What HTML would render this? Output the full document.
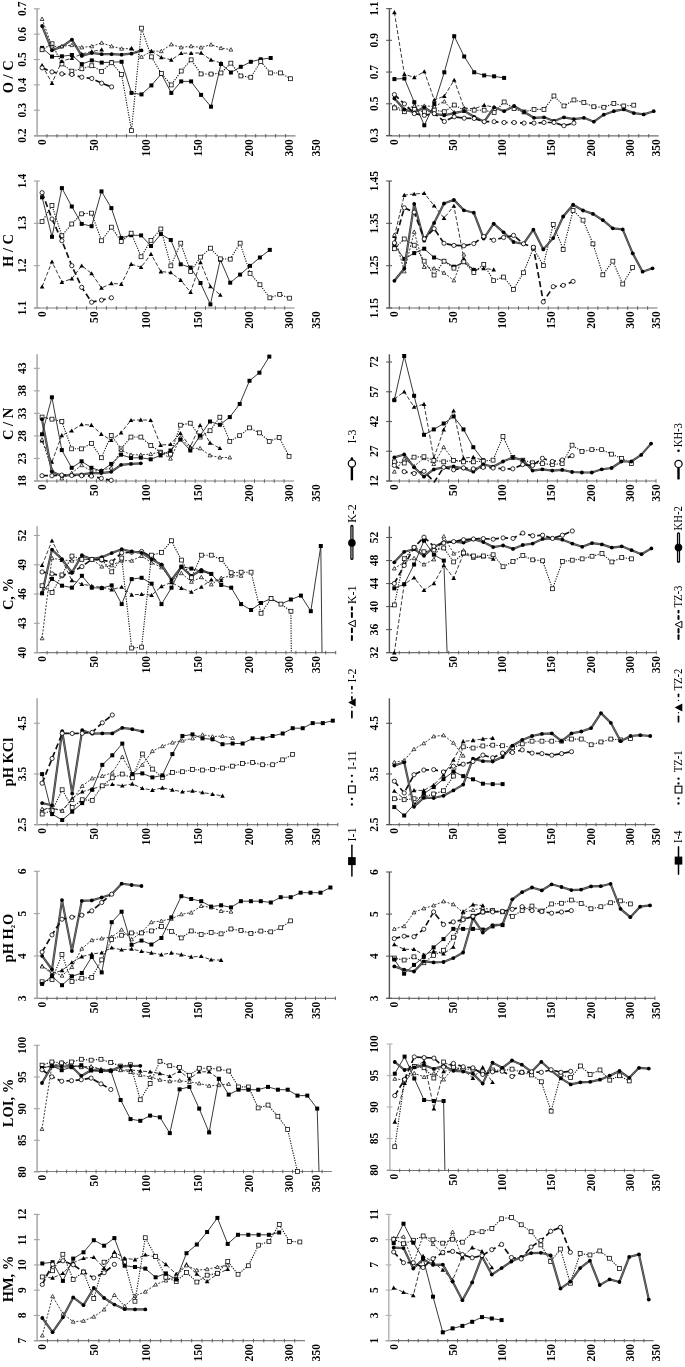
<!DOCTYPE html>
<html><head><meta charset="utf-8"><style>
html,body{margin:0;padding:0;background:#fff;}
svg{display:block;font-family:"Liberation Serif", serif;will-change:transform;}
</style></head><body>
<svg width="685" height="1367" viewBox="0 0 685 1367">
<rect width="685" height="1367" fill="#fff"/>
<line x1="37.1" y1="8.8" x2="37.1" y2="135.8" stroke="#a0a0a0" stroke-width="1.4"/>
<line x1="34.1" y1="135.8" x2="295.5" y2="135.8" stroke="#808080" stroke-width="1.2"/>
<line x1="33.9" y1="8.8" x2="39.7" y2="8.8" stroke="#a0a0a0" stroke-width="1.1"/>
<text transform="translate(25.9,8.8) rotate(-90)" text-anchor="middle" font-size="11.6" font-weight="bold" >0.7</text>
<line x1="33.9" y1="34.16" x2="39.7" y2="34.16" stroke="#a0a0a0" stroke-width="1.1"/>
<text transform="translate(25.9,34.2) rotate(-90)" text-anchor="middle" font-size="11.6" font-weight="bold" >0.6</text>
<line x1="33.9" y1="59.519999999999996" x2="39.7" y2="59.519999999999996" stroke="#a0a0a0" stroke-width="1.1"/>
<text transform="translate(25.9,59.5) rotate(-90)" text-anchor="middle" font-size="11.6" font-weight="bold" >0.5</text>
<line x1="33.9" y1="84.88" x2="39.7" y2="84.88" stroke="#a0a0a0" stroke-width="1.1"/>
<text transform="translate(25.9,84.9) rotate(-90)" text-anchor="middle" font-size="11.6" font-weight="bold" >0.4</text>
<line x1="33.9" y1="110.24" x2="39.7" y2="110.24" stroke="#a0a0a0" stroke-width="1.1"/>
<text transform="translate(25.9,110.2) rotate(-90)" text-anchor="middle" font-size="11.6" font-weight="bold" >0.3</text>
<line x1="33.9" y1="135.6" x2="39.7" y2="135.6" stroke="#a0a0a0" stroke-width="1.1"/>
<text transform="translate(25.9,135.6) rotate(-90)" text-anchor="middle" font-size="11.6" font-weight="bold" >0.2</text>
<line x1="47.0" y1="134.0" x2="47.0" y2="137.60000000000002" stroke="#555" stroke-width="0.9"/>
<line x1="57.0" y1="134.0" x2="57.0" y2="137.60000000000002" stroke="#555" stroke-width="0.9"/>
<line x1="66.9" y1="134.0" x2="66.9" y2="137.60000000000002" stroke="#555" stroke-width="0.9"/>
<line x1="76.9" y1="134.0" x2="76.9" y2="137.60000000000002" stroke="#555" stroke-width="0.9"/>
<line x1="86.8" y1="134.0" x2="86.8" y2="137.60000000000002" stroke="#555" stroke-width="0.9"/>
<line x1="96.7" y1="134.0" x2="96.7" y2="137.60000000000002" stroke="#555" stroke-width="0.9"/>
<line x1="106.7" y1="134.0" x2="106.7" y2="137.60000000000002" stroke="#555" stroke-width="0.9"/>
<line x1="116.6" y1="134.0" x2="116.6" y2="137.60000000000002" stroke="#555" stroke-width="0.9"/>
<line x1="126.5" y1="134.0" x2="126.5" y2="137.60000000000002" stroke="#555" stroke-width="0.9"/>
<line x1="136.5" y1="134.0" x2="136.5" y2="137.60000000000002" stroke="#555" stroke-width="0.9"/>
<line x1="146.4" y1="134.0" x2="146.4" y2="137.60000000000002" stroke="#555" stroke-width="0.9"/>
<line x1="156.4" y1="134.0" x2="156.4" y2="137.60000000000002" stroke="#555" stroke-width="0.9"/>
<line x1="166.3" y1="134.0" x2="166.3" y2="137.60000000000002" stroke="#555" stroke-width="0.9"/>
<line x1="176.2" y1="134.0" x2="176.2" y2="137.60000000000002" stroke="#555" stroke-width="0.9"/>
<line x1="186.2" y1="134.0" x2="186.2" y2="137.60000000000002" stroke="#555" stroke-width="0.9"/>
<line x1="196.1" y1="134.0" x2="196.1" y2="137.60000000000002" stroke="#555" stroke-width="0.9"/>
<line x1="206.1" y1="134.0" x2="206.1" y2="137.60000000000002" stroke="#555" stroke-width="0.9"/>
<line x1="216.0" y1="134.0" x2="216.0" y2="137.60000000000002" stroke="#555" stroke-width="0.9"/>
<line x1="225.9" y1="134.0" x2="225.9" y2="137.60000000000002" stroke="#555" stroke-width="0.9"/>
<line x1="235.9" y1="134.0" x2="235.9" y2="137.60000000000002" stroke="#555" stroke-width="0.9"/>
<line x1="245.8" y1="134.0" x2="245.8" y2="137.60000000000002" stroke="#555" stroke-width="0.9"/>
<line x1="255.7" y1="134.0" x2="255.7" y2="137.60000000000002" stroke="#555" stroke-width="0.9"/>
<line x1="265.7" y1="134.0" x2="265.7" y2="137.60000000000002" stroke="#555" stroke-width="0.9"/>
<line x1="275.6" y1="134.0" x2="275.6" y2="137.60000000000002" stroke="#555" stroke-width="0.9"/>
<line x1="285.6" y1="134.0" x2="285.6" y2="137.60000000000002" stroke="#555" stroke-width="0.9"/>
<text transform="translate(46.1,139.1) rotate(-90)" text-anchor="end" font-size="11.6" font-weight="bold" >0</text>
<text transform="translate(98.2,139.1) rotate(-90)" text-anchor="end" font-size="11.6" font-weight="bold" >50</text>
<text transform="translate(150.0,139.1) rotate(-90)" text-anchor="end" font-size="11.6" font-weight="bold" >100</text>
<text transform="translate(201.9,139.1) rotate(-90)" text-anchor="end" font-size="11.6" font-weight="bold" >150</text>
<text transform="translate(253.1,139.1) rotate(-90)" text-anchor="end" font-size="11.6" font-weight="bold" >200</text>
<text transform="translate(293.1,139.1) rotate(-90)" text-anchor="end" font-size="11.6" font-weight="bold" >300</text>
<text transform="translate(320.0,139.1) rotate(-90)" text-anchor="end" font-size="11.6" font-weight="bold" >350</text>
<text transform="translate(12.7,76.8) rotate(-90)" text-anchor="middle" font-size="14.5" font-weight="bold">O / C</text>
<path d="M42.1,26.0L52.0,50.3L61.9,46.6L71.9,39.6L81.8,55.9L91.8,53.0L101.7,54.2L111.6,54.2L121.6,54.7L131.5,53.7L141.5,50.4" fill="none" stroke="#3c3c3c" stroke-width="2.2" stroke-linejoin="round"/>
<path d="M42.1,26.0L52.0,50.3L61.9,46.6L71.9,39.6L81.8,55.9L91.8,53.0L101.7,54.2L111.6,54.2L121.6,54.7L131.5,53.7L141.5,50.4" fill="none" stroke="#7a7a7a" stroke-width="0.8" stroke-linejoin="round"/>
<circle cx="42.1" cy="26.0" r="1.9" fill="#000"/>
<circle cx="52.0" cy="50.3" r="1.9" fill="#000"/>
<circle cx="61.9" cy="46.6" r="1.9" fill="#000"/>
<circle cx="71.9" cy="39.6" r="1.9" fill="#000"/>
<circle cx="81.8" cy="55.9" r="1.9" fill="#000"/>
<circle cx="91.8" cy="53.0" r="1.9" fill="#000"/>
<circle cx="101.7" cy="54.2" r="1.9" fill="#000"/>
<circle cx="111.6" cy="54.2" r="1.9" fill="#000"/>
<circle cx="121.6" cy="54.7" r="1.9" fill="#000"/>
<circle cx="131.5" cy="53.7" r="1.9" fill="#000"/>
<circle cx="141.5" cy="50.4" r="1.9" fill="#000"/>
<path d="M42.1,47.9L52.0,56.6L61.9,56.3L71.9,55.0L81.8,64.1L91.8,60.4L101.7,62.6L111.6,62.2L121.6,61.8L131.5,92.9L141.5,94.4L151.4,85.4L161.3,73.9L171.3,92.9L181.2,81.4L191.1,81.4L201.1,94.9L211.0,106.7L221.0,64.0L230.9,72.5L240.8,66.8L250.8,61.8L260.7,59.3L270.7,58.0" fill="none" stroke="#222" stroke-width="0.9" stroke-linejoin="round"/>
<rect x="40.1" y="45.9" width="4.0" height="4.0" fill="#000"/>
<rect x="50.0" y="54.6" width="4.0" height="4.0" fill="#000"/>
<rect x="59.9" y="54.3" width="4.0" height="4.0" fill="#000"/>
<rect x="69.9" y="53.0" width="4.0" height="4.0" fill="#000"/>
<rect x="79.8" y="62.1" width="4.0" height="4.0" fill="#000"/>
<rect x="89.8" y="58.4" width="4.0" height="4.0" fill="#000"/>
<rect x="99.7" y="60.6" width="4.0" height="4.0" fill="#000"/>
<rect x="109.6" y="60.2" width="4.0" height="4.0" fill="#000"/>
<rect x="119.6" y="59.8" width="4.0" height="4.0" fill="#000"/>
<rect x="129.5" y="90.9" width="4.0" height="4.0" fill="#000"/>
<rect x="139.5" y="92.4" width="4.0" height="4.0" fill="#000"/>
<rect x="149.4" y="83.4" width="4.0" height="4.0" fill="#000"/>
<rect x="159.3" y="71.9" width="4.0" height="4.0" fill="#000"/>
<rect x="169.3" y="90.9" width="4.0" height="4.0" fill="#000"/>
<rect x="179.2" y="79.4" width="4.0" height="4.0" fill="#000"/>
<rect x="189.1" y="79.4" width="4.0" height="4.0" fill="#000"/>
<rect x="199.1" y="92.9" width="4.0" height="4.0" fill="#000"/>
<rect x="209.0" y="104.7" width="4.0" height="4.0" fill="#000"/>
<rect x="219.0" y="62.0" width="4.0" height="4.0" fill="#000"/>
<rect x="228.9" y="70.5" width="4.0" height="4.0" fill="#000"/>
<rect x="238.8" y="64.8" width="4.0" height="4.0" fill="#000"/>
<rect x="248.8" y="59.8" width="4.0" height="4.0" fill="#000"/>
<rect x="258.7" y="57.3" width="4.0" height="4.0" fill="#000"/>
<rect x="268.7" y="56.0" width="4.0" height="4.0" fill="#000"/>
<path d="M42.1,49.8L52.0,43.8L61.9,64.0L71.9,71.2L81.8,68.7L91.8,65.8L101.7,71.4L111.6,62.8L121.6,74.4L131.5,130.6L141.5,28.2L151.4,56.9L161.3,73.6L171.3,84.9L181.2,71.1L191.1,59.9L201.1,73.9L211.0,74.1L221.0,73.0L230.9,63.2L240.8,75.9L250.8,77.3L260.7,61.6L270.7,73.0L280.6,73.0L290.5,78.8" fill="none" stroke="#111" stroke-width="1.1" stroke-dasharray="1.2,1.3" stroke-linejoin="round"/>
<rect x="40.1" y="47.8" width="3.9" height="3.9" fill="#fff" stroke="#000" stroke-width="0.75"/>
<rect x="50.1" y="41.8" width="3.9" height="3.9" fill="#fff" stroke="#000" stroke-width="0.75"/>
<rect x="60.0" y="62.0" width="3.9" height="3.9" fill="#fff" stroke="#000" stroke-width="0.75"/>
<rect x="69.9" y="69.2" width="3.9" height="3.9" fill="#fff" stroke="#000" stroke-width="0.75"/>
<rect x="79.9" y="66.8" width="3.9" height="3.9" fill="#fff" stroke="#000" stroke-width="0.75"/>
<rect x="89.8" y="63.8" width="3.9" height="3.9" fill="#fff" stroke="#000" stroke-width="0.75"/>
<rect x="99.7" y="69.5" width="3.9" height="3.9" fill="#fff" stroke="#000" stroke-width="0.75"/>
<rect x="109.7" y="60.8" width="3.9" height="3.9" fill="#fff" stroke="#000" stroke-width="0.75"/>
<rect x="119.6" y="72.5" width="3.9" height="3.9" fill="#fff" stroke="#000" stroke-width="0.75"/>
<rect x="129.6" y="128.7" width="3.9" height="3.9" fill="#fff" stroke="#000" stroke-width="0.75"/>
<rect x="139.5" y="26.2" width="3.9" height="3.9" fill="#fff" stroke="#000" stroke-width="0.75"/>
<rect x="149.4" y="54.9" width="3.9" height="3.9" fill="#fff" stroke="#000" stroke-width="0.75"/>
<rect x="159.4" y="71.6" width="3.9" height="3.9" fill="#fff" stroke="#000" stroke-width="0.75"/>
<rect x="169.3" y="83.0" width="3.9" height="3.9" fill="#fff" stroke="#000" stroke-width="0.75"/>
<rect x="179.3" y="69.1" width="3.9" height="3.9" fill="#fff" stroke="#000" stroke-width="0.75"/>
<rect x="189.2" y="57.9" width="3.9" height="3.9" fill="#fff" stroke="#000" stroke-width="0.75"/>
<rect x="199.1" y="72.0" width="3.9" height="3.9" fill="#fff" stroke="#000" stroke-width="0.75"/>
<rect x="209.1" y="72.1" width="3.9" height="3.9" fill="#fff" stroke="#000" stroke-width="0.75"/>
<rect x="219.0" y="71.0" width="3.9" height="3.9" fill="#fff" stroke="#000" stroke-width="0.75"/>
<rect x="228.9" y="61.2" width="3.9" height="3.9" fill="#fff" stroke="#000" stroke-width="0.75"/>
<rect x="238.9" y="74.0" width="3.9" height="3.9" fill="#fff" stroke="#000" stroke-width="0.75"/>
<rect x="248.8" y="75.3" width="3.9" height="3.9" fill="#fff" stroke="#000" stroke-width="0.75"/>
<rect x="258.8" y="59.6" width="3.9" height="3.9" fill="#fff" stroke="#000" stroke-width="0.75"/>
<rect x="268.7" y="71.0" width="3.9" height="3.9" fill="#fff" stroke="#000" stroke-width="0.75"/>
<rect x="278.6" y="71.0" width="3.9" height="3.9" fill="#fff" stroke="#000" stroke-width="0.75"/>
<rect x="288.6" y="76.8" width="3.9" height="3.9" fill="#fff" stroke="#000" stroke-width="0.75"/>
<path d="M42.1,19.0L52.0,46.5L61.9,46.3L71.9,45.1L81.8,47.4L91.8,46.3L101.7,42.8L111.6,46.3L121.6,48.7L131.5,48.7L141.5,56.9L151.4,51.2L161.3,51.2L171.3,44.4L181.2,47.4L191.1,46.2L201.1,47.5L211.0,44.6L221.0,48.1L230.9,49.6" fill="none" stroke="#222" stroke-width="0.9" stroke-dasharray="2,1.5" stroke-linejoin="round"/>
<path d="M42.1,17.1L44.0,20.5L40.2,20.5Z" fill="#fff" stroke="#000" stroke-width="0.7"/>
<path d="M52.0,44.6L53.9,48.0L50.1,48.0Z" fill="#fff" stroke="#000" stroke-width="0.7"/>
<path d="M61.9,44.4L63.8,47.8L60.0,47.8Z" fill="#fff" stroke="#000" stroke-width="0.7"/>
<path d="M71.9,43.2L73.8,46.6L70.0,46.6Z" fill="#fff" stroke="#000" stroke-width="0.7"/>
<path d="M81.8,45.5L83.7,48.9L79.9,48.9Z" fill="#fff" stroke="#000" stroke-width="0.7"/>
<path d="M91.8,44.4L93.7,47.8L89.9,47.8Z" fill="#fff" stroke="#000" stroke-width="0.7"/>
<path d="M101.7,40.9L103.6,44.3L99.8,44.3Z" fill="#fff" stroke="#000" stroke-width="0.7"/>
<path d="M111.6,44.4L113.5,47.8L109.7,47.8Z" fill="#fff" stroke="#000" stroke-width="0.7"/>
<path d="M121.6,46.8L123.5,50.2L119.7,50.2Z" fill="#fff" stroke="#000" stroke-width="0.7"/>
<path d="M131.5,46.8L133.4,50.2L129.6,50.2Z" fill="#fff" stroke="#000" stroke-width="0.7"/>
<path d="M141.5,55.0L143.4,58.4L139.6,58.4Z" fill="#fff" stroke="#000" stroke-width="0.7"/>
<path d="M151.4,49.3L153.3,52.7L149.5,52.7Z" fill="#fff" stroke="#000" stroke-width="0.7"/>
<path d="M161.3,49.3L163.2,52.7L159.4,52.7Z" fill="#fff" stroke="#000" stroke-width="0.7"/>
<path d="M171.3,42.5L173.2,45.9L169.4,45.9Z" fill="#fff" stroke="#000" stroke-width="0.7"/>
<path d="M181.2,45.5L183.1,48.9L179.3,48.9Z" fill="#fff" stroke="#000" stroke-width="0.7"/>
<path d="M191.1,44.3L193.0,47.7L189.2,47.7Z" fill="#fff" stroke="#000" stroke-width="0.7"/>
<path d="M201.1,45.6L203.0,49.0L199.2,49.0Z" fill="#fff" stroke="#000" stroke-width="0.7"/>
<path d="M211.0,42.7L212.9,46.1L209.1,46.1Z" fill="#fff" stroke="#000" stroke-width="0.7"/>
<path d="M221.0,46.2L222.9,49.6L219.1,49.6Z" fill="#fff" stroke="#000" stroke-width="0.7"/>
<path d="M230.9,47.7L232.8,51.1L229.0,51.1Z" fill="#fff" stroke="#000" stroke-width="0.7"/>
<path d="M42.1,65.3L52.0,83.1L61.9,61.2L71.9,58.1L81.8,54.0L91.8,51.5L101.7,49.6" fill="none" stroke="#222" stroke-width="0.9" stroke-dasharray="4,2" stroke-linejoin="round"/>
<path d="M151.4,51.2L161.3,57.4L171.3,59.9L181.2,53.2L191.1,53.2L201.1,52.9L211.0,59.9L221.0,63.0" fill="none" stroke="#222" stroke-width="0.9" stroke-dasharray="4,2" stroke-linejoin="round"/>
<path d="M42.1,63.0L44.4,67.1L39.8,67.1Z" fill="#000"/>
<path d="M52.0,80.8L54.3,84.9L49.7,84.9Z" fill="#000"/>
<path d="M61.9,58.9L64.2,63.0L59.6,63.0Z" fill="#000"/>
<path d="M71.9,55.8L74.2,59.9L69.6,59.9Z" fill="#000"/>
<path d="M81.8,51.7L84.1,55.8L79.5,55.8Z" fill="#000"/>
<path d="M91.8,49.2L94.1,53.3L89.5,53.3Z" fill="#000"/>
<path d="M101.7,47.3L104.0,51.4L99.4,51.4Z" fill="#000"/>
<path d="M131.5,45.9L133.8,50.0L129.2,50.0Z" fill="#000"/>
<path d="M151.4,48.9L153.7,53.0L149.1,53.0Z" fill="#000"/>
<path d="M161.3,55.1L163.6,59.2L159.0,59.2Z" fill="#000"/>
<path d="M171.3,57.6L173.6,61.7L169.0,61.7Z" fill="#000"/>
<path d="M181.2,50.9L183.5,55.0L178.9,55.0Z" fill="#000"/>
<path d="M191.1,50.9L193.4,55.0L188.8,55.0Z" fill="#000"/>
<path d="M201.1,50.6L203.4,54.7L198.8,54.7Z" fill="#000"/>
<path d="M211.0,57.6L213.3,61.7L208.7,61.7Z" fill="#000"/>
<path d="M221.0,60.7L223.3,64.8L218.7,64.8Z" fill="#000"/>
<path d="M42.1,67.8L52.0,71.9L61.9,73.9L71.9,74.5L81.8,77.2L91.8,78.5L101.7,83.2L111.6,86.9" fill="none" stroke="#111" stroke-width="1.7" stroke-dasharray="6,3.2" stroke-linejoin="round"/>
<circle cx="42.1" cy="67.8" r="2.1" fill="#fff" stroke="#000" stroke-width="0.8"/>
<circle cx="52.0" cy="71.9" r="2.1" fill="#fff" stroke="#000" stroke-width="0.8"/>
<circle cx="61.9" cy="73.9" r="2.1" fill="#fff" stroke="#000" stroke-width="0.8"/>
<circle cx="71.9" cy="74.5" r="2.1" fill="#fff" stroke="#000" stroke-width="0.8"/>
<circle cx="81.8" cy="77.2" r="2.1" fill="#fff" stroke="#000" stroke-width="0.8"/>
<circle cx="91.8" cy="78.5" r="2.1" fill="#fff" stroke="#000" stroke-width="0.8"/>
<circle cx="101.7" cy="83.2" r="2.1" fill="#fff" stroke="#000" stroke-width="0.8"/>
<circle cx="111.6" cy="86.9" r="2.1" fill="#fff" stroke="#000" stroke-width="0.8"/>
<line x1="37.1" y1="181" x2="37.1" y2="308.0" stroke="#a0a0a0" stroke-width="1.4"/>
<line x1="34.1" y1="308.0" x2="294.6" y2="308.0" stroke="#808080" stroke-width="1.2"/>
<line x1="33.9" y1="181.0" x2="39.7" y2="181.0" stroke="#a0a0a0" stroke-width="1.1"/>
<text transform="translate(25.9,181.0) rotate(-90)" text-anchor="middle" font-size="11.6" font-weight="bold" >1.4</text>
<line x1="33.9" y1="223.33333333333331" x2="39.7" y2="223.33333333333331" stroke="#a0a0a0" stroke-width="1.1"/>
<text transform="translate(25.9,223.3) rotate(-90)" text-anchor="middle" font-size="11.6" font-weight="bold" >1.3</text>
<line x1="33.9" y1="265.6666666666667" x2="39.7" y2="265.6666666666667" stroke="#a0a0a0" stroke-width="1.1"/>
<text transform="translate(25.9,265.7) rotate(-90)" text-anchor="middle" font-size="11.6" font-weight="bold" >1.2</text>
<line x1="33.9" y1="308.0" x2="39.7" y2="308.0" stroke="#a0a0a0" stroke-width="1.1"/>
<text transform="translate(25.9,308.0) rotate(-90)" text-anchor="middle" font-size="11.6" font-weight="bold" >1.1</text>
<line x1="47.0" y1="306.2" x2="47.0" y2="309.8" stroke="#555" stroke-width="0.9"/>
<line x1="56.9" y1="306.2" x2="56.9" y2="309.8" stroke="#555" stroke-width="0.9"/>
<line x1="66.8" y1="306.2" x2="66.8" y2="309.8" stroke="#555" stroke-width="0.9"/>
<line x1="76.7" y1="306.2" x2="76.7" y2="309.8" stroke="#555" stroke-width="0.9"/>
<line x1="86.6" y1="306.2" x2="86.6" y2="309.8" stroke="#555" stroke-width="0.9"/>
<line x1="96.5" y1="306.2" x2="96.5" y2="309.8" stroke="#555" stroke-width="0.9"/>
<line x1="106.4" y1="306.2" x2="106.4" y2="309.8" stroke="#555" stroke-width="0.9"/>
<line x1="116.3" y1="306.2" x2="116.3" y2="309.8" stroke="#555" stroke-width="0.9"/>
<line x1="126.2" y1="306.2" x2="126.2" y2="309.8" stroke="#555" stroke-width="0.9"/>
<line x1="136.1" y1="306.2" x2="136.1" y2="309.8" stroke="#555" stroke-width="0.9"/>
<line x1="146.0" y1="306.2" x2="146.0" y2="309.8" stroke="#555" stroke-width="0.9"/>
<line x1="155.9" y1="306.2" x2="155.9" y2="309.8" stroke="#555" stroke-width="0.9"/>
<line x1="165.8" y1="306.2" x2="165.8" y2="309.8" stroke="#555" stroke-width="0.9"/>
<line x1="175.8" y1="306.2" x2="175.8" y2="309.8" stroke="#555" stroke-width="0.9"/>
<line x1="185.7" y1="306.2" x2="185.7" y2="309.8" stroke="#555" stroke-width="0.9"/>
<line x1="195.6" y1="306.2" x2="195.6" y2="309.8" stroke="#555" stroke-width="0.9"/>
<line x1="205.5" y1="306.2" x2="205.5" y2="309.8" stroke="#555" stroke-width="0.9"/>
<line x1="215.4" y1="306.2" x2="215.4" y2="309.8" stroke="#555" stroke-width="0.9"/>
<line x1="225.3" y1="306.2" x2="225.3" y2="309.8" stroke="#555" stroke-width="0.9"/>
<line x1="235.2" y1="306.2" x2="235.2" y2="309.8" stroke="#555" stroke-width="0.9"/>
<line x1="245.1" y1="306.2" x2="245.1" y2="309.8" stroke="#555" stroke-width="0.9"/>
<line x1="255.0" y1="306.2" x2="255.0" y2="309.8" stroke="#555" stroke-width="0.9"/>
<line x1="264.9" y1="306.2" x2="264.9" y2="309.8" stroke="#555" stroke-width="0.9"/>
<line x1="274.8" y1="306.2" x2="274.8" y2="309.8" stroke="#555" stroke-width="0.9"/>
<line x1="284.7" y1="306.2" x2="284.7" y2="309.8" stroke="#555" stroke-width="0.9"/>
<text transform="translate(46.1,311.3) rotate(-90)" text-anchor="end" font-size="11.6" font-weight="bold" >0</text>
<text transform="translate(98.2,311.3) rotate(-90)" text-anchor="end" font-size="11.6" font-weight="bold" >50</text>
<text transform="translate(150.0,311.3) rotate(-90)" text-anchor="end" font-size="11.6" font-weight="bold" >100</text>
<text transform="translate(201.9,311.3) rotate(-90)" text-anchor="end" font-size="11.6" font-weight="bold" >150</text>
<text transform="translate(253.1,311.3) rotate(-90)" text-anchor="end" font-size="11.6" font-weight="bold" >200</text>
<text transform="translate(293.1,311.3) rotate(-90)" text-anchor="end" font-size="11.6" font-weight="bold" >300</text>
<text transform="translate(320.0,311.3) rotate(-90)" text-anchor="end" font-size="11.6" font-weight="bold" >350</text>
<text transform="translate(12.7,250.5) rotate(-90)" text-anchor="middle" font-size="14.5" font-weight="bold">H / C</text>
<path d="M42.1,197.3L52.0,236.8L61.9,188.1L71.8,206.5L81.7,223.9L91.6,226.2L101.5,191.4L111.4,208.1L121.3,237.9L131.2,235.2L141.1,235.4L151.0,246.0L160.9,234.1L170.8,240.0L180.7,264.3L190.6,267.6L200.5,283.0L210.4,304.4L220.3,259.7L230.2,282.7L240.1,274.6L250.0,265.9L259.9,257.5L269.8,249.9" fill="none" stroke="#222" stroke-width="0.9" stroke-linejoin="round"/>
<rect x="40.1" y="195.3" width="4.0" height="4.0" fill="#000"/>
<rect x="50.0" y="234.8" width="4.0" height="4.0" fill="#000"/>
<rect x="59.9" y="186.1" width="4.0" height="4.0" fill="#000"/>
<rect x="69.8" y="204.5" width="4.0" height="4.0" fill="#000"/>
<rect x="79.7" y="221.9" width="4.0" height="4.0" fill="#000"/>
<rect x="89.6" y="224.2" width="4.0" height="4.0" fill="#000"/>
<rect x="99.5" y="189.4" width="4.0" height="4.0" fill="#000"/>
<rect x="109.4" y="206.1" width="4.0" height="4.0" fill="#000"/>
<rect x="119.3" y="235.9" width="4.0" height="4.0" fill="#000"/>
<rect x="129.2" y="233.2" width="4.0" height="4.0" fill="#000"/>
<rect x="139.1" y="233.4" width="4.0" height="4.0" fill="#000"/>
<rect x="149.0" y="244.0" width="4.0" height="4.0" fill="#000"/>
<rect x="158.9" y="232.1" width="4.0" height="4.0" fill="#000"/>
<rect x="168.8" y="238.0" width="4.0" height="4.0" fill="#000"/>
<rect x="178.7" y="262.3" width="4.0" height="4.0" fill="#000"/>
<rect x="188.6" y="265.6" width="4.0" height="4.0" fill="#000"/>
<rect x="198.5" y="281.0" width="4.0" height="4.0" fill="#000"/>
<rect x="208.4" y="302.4" width="4.0" height="4.0" fill="#000"/>
<rect x="218.3" y="257.7" width="4.0" height="4.0" fill="#000"/>
<rect x="228.2" y="280.7" width="4.0" height="4.0" fill="#000"/>
<rect x="238.1" y="272.6" width="4.0" height="4.0" fill="#000"/>
<rect x="248.0" y="263.9" width="4.0" height="4.0" fill="#000"/>
<rect x="257.9" y="255.5" width="4.0" height="4.0" fill="#000"/>
<rect x="267.8" y="247.9" width="4.0" height="4.0" fill="#000"/>
<path d="M42.1,221.6L52.0,205.5L61.9,235.7L71.8,223.9L81.7,213.8L91.6,213.1L101.5,240.7L111.4,227.2L121.3,241.5L131.2,233.1L141.1,256.7L151.0,240.3L160.9,228.9L170.8,265.9L180.7,243.1L190.6,271.6L200.5,257.1L210.4,248.1L220.3,258.8L230.2,259.1L240.1,243.1L250.0,273.3L259.9,284.7L269.8,297.8L279.7,294.3L289.6,298.1" fill="none" stroke="#111" stroke-width="1.1" stroke-dasharray="1.2,1.3" stroke-linejoin="round"/>
<rect x="40.1" y="219.7" width="3.9" height="3.9" fill="#fff" stroke="#000" stroke-width="0.75"/>
<rect x="50.0" y="203.6" width="3.9" height="3.9" fill="#fff" stroke="#000" stroke-width="0.75"/>
<rect x="59.9" y="233.8" width="3.9" height="3.9" fill="#fff" stroke="#000" stroke-width="0.75"/>
<rect x="69.8" y="222.0" width="3.9" height="3.9" fill="#fff" stroke="#000" stroke-width="0.75"/>
<rect x="79.7" y="211.9" width="3.9" height="3.9" fill="#fff" stroke="#000" stroke-width="0.75"/>
<rect x="89.6" y="211.2" width="3.9" height="3.9" fill="#fff" stroke="#000" stroke-width="0.75"/>
<rect x="99.5" y="238.8" width="3.9" height="3.9" fill="#fff" stroke="#000" stroke-width="0.75"/>
<rect x="109.4" y="225.2" width="3.9" height="3.9" fill="#fff" stroke="#000" stroke-width="0.75"/>
<rect x="119.3" y="239.6" width="3.9" height="3.9" fill="#fff" stroke="#000" stroke-width="0.75"/>
<rect x="129.2" y="231.2" width="3.9" height="3.9" fill="#fff" stroke="#000" stroke-width="0.75"/>
<rect x="139.1" y="254.8" width="3.9" height="3.9" fill="#fff" stroke="#000" stroke-width="0.75"/>
<rect x="149.0" y="238.4" width="3.9" height="3.9" fill="#fff" stroke="#000" stroke-width="0.75"/>
<rect x="158.9" y="227.0" width="3.9" height="3.9" fill="#fff" stroke="#000" stroke-width="0.75"/>
<rect x="168.9" y="263.9" width="3.9" height="3.9" fill="#fff" stroke="#000" stroke-width="0.75"/>
<rect x="178.8" y="241.2" width="3.9" height="3.9" fill="#fff" stroke="#000" stroke-width="0.75"/>
<rect x="188.7" y="269.7" width="3.9" height="3.9" fill="#fff" stroke="#000" stroke-width="0.75"/>
<rect x="198.6" y="255.2" width="3.9" height="3.9" fill="#fff" stroke="#000" stroke-width="0.75"/>
<rect x="208.5" y="246.2" width="3.9" height="3.9" fill="#fff" stroke="#000" stroke-width="0.75"/>
<rect x="218.4" y="256.9" width="3.9" height="3.9" fill="#fff" stroke="#000" stroke-width="0.75"/>
<rect x="228.3" y="257.2" width="3.9" height="3.9" fill="#fff" stroke="#000" stroke-width="0.75"/>
<rect x="238.2" y="241.2" width="3.9" height="3.9" fill="#fff" stroke="#000" stroke-width="0.75"/>
<rect x="248.1" y="271.4" width="3.9" height="3.9" fill="#fff" stroke="#000" stroke-width="0.75"/>
<rect x="258.0" y="282.8" width="3.9" height="3.9" fill="#fff" stroke="#000" stroke-width="0.75"/>
<rect x="267.9" y="295.9" width="3.9" height="3.9" fill="#fff" stroke="#000" stroke-width="0.75"/>
<rect x="277.8" y="292.4" width="3.9" height="3.9" fill="#fff" stroke="#000" stroke-width="0.75"/>
<rect x="287.7" y="296.2" width="3.9" height="3.9" fill="#fff" stroke="#000" stroke-width="0.75"/>
<path d="M42.1,286.7L52.0,261.7L61.9,282.1L71.8,278.8L81.7,265.7L91.6,273.5L101.5,288.0L111.4,283.4L121.3,284.1L131.2,264.1L141.1,267.2L151.0,254.1L160.9,271.6L170.8,272.5L180.7,280.1L190.6,292.3L200.5,262.4L210.4,286.5L220.3,295.0" fill="none" stroke="#222" stroke-width="0.9" stroke-dasharray="4,2" stroke-linejoin="round"/>
<path d="M42.1,284.4L44.4,288.5L39.8,288.5Z" fill="#000"/>
<path d="M52.0,259.4L54.3,263.5L49.7,263.5Z" fill="#000"/>
<path d="M61.9,279.8L64.2,283.9L59.6,283.9Z" fill="#000"/>
<path d="M71.8,276.5L74.1,280.6L69.5,280.6Z" fill="#000"/>
<path d="M81.7,263.4L84.0,267.5L79.4,267.5Z" fill="#000"/>
<path d="M91.6,271.2L93.9,275.3L89.3,275.3Z" fill="#000"/>
<path d="M101.5,285.7L103.8,289.8L99.2,289.8Z" fill="#000"/>
<path d="M111.4,281.1L113.7,285.2L109.1,285.2Z" fill="#000"/>
<path d="M121.3,281.8L123.6,285.9L119.0,285.9Z" fill="#000"/>
<path d="M131.2,261.8L133.5,265.9L128.9,265.9Z" fill="#000"/>
<path d="M141.1,264.9L143.4,269.0L138.8,269.0Z" fill="#000"/>
<path d="M151.0,251.8L153.3,255.9L148.7,255.9Z" fill="#000"/>
<path d="M160.9,269.3L163.2,273.4L158.6,273.4Z" fill="#000"/>
<path d="M170.8,270.2L173.1,274.3L168.5,274.3Z" fill="#000"/>
<path d="M180.7,277.8L183.0,281.9L178.4,281.9Z" fill="#000"/>
<path d="M190.6,290.0L192.9,294.1L188.3,294.1Z" fill="#000"/>
<path d="M200.5,260.1L202.8,264.2L198.2,264.2Z" fill="#000"/>
<path d="M210.4,284.2L212.7,288.3L208.1,288.3Z" fill="#000"/>
<path d="M220.3,292.7L222.6,296.8L218.0,296.8Z" fill="#000"/>
<path d="M42.1,192.7L52.0,219.0L61.9,240.7L71.8,265.7L81.7,287.3L91.6,302.2L101.5,300.1L111.4,297.8" fill="none" stroke="#111" stroke-width="1.7" stroke-dasharray="6,3.2" stroke-linejoin="round"/>
<circle cx="42.1" cy="192.7" r="2.1" fill="#fff" stroke="#000" stroke-width="0.8"/>
<circle cx="52.0" cy="219.0" r="2.1" fill="#fff" stroke="#000" stroke-width="0.8"/>
<circle cx="61.9" cy="240.7" r="2.1" fill="#fff" stroke="#000" stroke-width="0.8"/>
<circle cx="71.8" cy="265.7" r="2.1" fill="#fff" stroke="#000" stroke-width="0.8"/>
<circle cx="81.7" cy="287.3" r="2.1" fill="#fff" stroke="#000" stroke-width="0.8"/>
<circle cx="91.6" cy="302.2" r="2.1" fill="#fff" stroke="#000" stroke-width="0.8"/>
<circle cx="101.5" cy="300.1" r="2.1" fill="#fff" stroke="#000" stroke-width="0.8"/>
<circle cx="111.4" cy="297.8" r="2.1" fill="#fff" stroke="#000" stroke-width="0.8"/>
<line x1="37.1" y1="354.3" x2="37.1" y2="481.0" stroke="#a0a0a0" stroke-width="1.4"/>
<line x1="34.1" y1="481.0" x2="294.0" y2="481.0" stroke="#808080" stroke-width="1.2"/>
<line x1="33.9" y1="368.3" x2="39.7" y2="368.3" stroke="#a0a0a0" stroke-width="1.1"/>
<text transform="translate(25.9,368.3) rotate(-90)" text-anchor="middle" font-size="11.6" font-weight="bold" >43</text>
<line x1="33.9" y1="390.84000000000003" x2="39.7" y2="390.84000000000003" stroke="#a0a0a0" stroke-width="1.1"/>
<text transform="translate(25.9,390.8) rotate(-90)" text-anchor="middle" font-size="11.6" font-weight="bold" >38</text>
<line x1="33.9" y1="413.38" x2="39.7" y2="413.38" stroke="#a0a0a0" stroke-width="1.1"/>
<text transform="translate(25.9,413.4) rotate(-90)" text-anchor="middle" font-size="11.6" font-weight="bold" >33</text>
<line x1="33.9" y1="435.92" x2="39.7" y2="435.92" stroke="#a0a0a0" stroke-width="1.1"/>
<text transform="translate(25.9,435.9) rotate(-90)" text-anchor="middle" font-size="11.6" font-weight="bold" >28</text>
<line x1="33.9" y1="458.46000000000004" x2="39.7" y2="458.46000000000004" stroke="#a0a0a0" stroke-width="1.1"/>
<text transform="translate(25.9,458.5) rotate(-90)" text-anchor="middle" font-size="11.6" font-weight="bold" >23</text>
<line x1="33.9" y1="481.0" x2="39.7" y2="481.0" stroke="#a0a0a0" stroke-width="1.1"/>
<text transform="translate(25.9,481.0) rotate(-90)" text-anchor="middle" font-size="11.6" font-weight="bold" >18</text>
<line x1="47.0" y1="479.2" x2="47.0" y2="482.8" stroke="#555" stroke-width="0.9"/>
<line x1="56.9" y1="479.2" x2="56.9" y2="482.8" stroke="#555" stroke-width="0.9"/>
<line x1="66.7" y1="479.2" x2="66.7" y2="482.8" stroke="#555" stroke-width="0.9"/>
<line x1="76.6" y1="479.2" x2="76.6" y2="482.8" stroke="#555" stroke-width="0.9"/>
<line x1="86.5" y1="479.2" x2="86.5" y2="482.8" stroke="#555" stroke-width="0.9"/>
<line x1="96.4" y1="479.2" x2="96.4" y2="482.8" stroke="#555" stroke-width="0.9"/>
<line x1="106.3" y1="479.2" x2="106.3" y2="482.8" stroke="#555" stroke-width="0.9"/>
<line x1="116.1" y1="479.2" x2="116.1" y2="482.8" stroke="#555" stroke-width="0.9"/>
<line x1="126.0" y1="479.2" x2="126.0" y2="482.8" stroke="#555" stroke-width="0.9"/>
<line x1="135.9" y1="479.2" x2="135.9" y2="482.8" stroke="#555" stroke-width="0.9"/>
<line x1="145.8" y1="479.2" x2="145.8" y2="482.8" stroke="#555" stroke-width="0.9"/>
<line x1="155.7" y1="479.2" x2="155.7" y2="482.8" stroke="#555" stroke-width="0.9"/>
<line x1="165.5" y1="479.2" x2="165.5" y2="482.8" stroke="#555" stroke-width="0.9"/>
<line x1="175.4" y1="479.2" x2="175.4" y2="482.8" stroke="#555" stroke-width="0.9"/>
<line x1="185.3" y1="479.2" x2="185.3" y2="482.8" stroke="#555" stroke-width="0.9"/>
<line x1="195.2" y1="479.2" x2="195.2" y2="482.8" stroke="#555" stroke-width="0.9"/>
<line x1="205.1" y1="479.2" x2="205.1" y2="482.8" stroke="#555" stroke-width="0.9"/>
<line x1="215.0" y1="479.2" x2="215.0" y2="482.8" stroke="#555" stroke-width="0.9"/>
<line x1="224.8" y1="479.2" x2="224.8" y2="482.8" stroke="#555" stroke-width="0.9"/>
<line x1="234.7" y1="479.2" x2="234.7" y2="482.8" stroke="#555" stroke-width="0.9"/>
<line x1="244.6" y1="479.2" x2="244.6" y2="482.8" stroke="#555" stroke-width="0.9"/>
<line x1="254.5" y1="479.2" x2="254.5" y2="482.8" stroke="#555" stroke-width="0.9"/>
<line x1="264.4" y1="479.2" x2="264.4" y2="482.8" stroke="#555" stroke-width="0.9"/>
<line x1="274.2" y1="479.2" x2="274.2" y2="482.8" stroke="#555" stroke-width="0.9"/>
<line x1="284.1" y1="479.2" x2="284.1" y2="482.8" stroke="#555" stroke-width="0.9"/>
<text transform="translate(46.1,484.3) rotate(-90)" text-anchor="end" font-size="11.6" font-weight="bold" >0</text>
<text transform="translate(98.2,484.3) rotate(-90)" text-anchor="end" font-size="11.6" font-weight="bold" >50</text>
<text transform="translate(150.0,484.3) rotate(-90)" text-anchor="end" font-size="11.6" font-weight="bold" >100</text>
<text transform="translate(201.9,484.3) rotate(-90)" text-anchor="end" font-size="11.6" font-weight="bold" >150</text>
<text transform="translate(253.1,484.3) rotate(-90)" text-anchor="end" font-size="11.6" font-weight="bold" >200</text>
<text transform="translate(293.1,484.3) rotate(-90)" text-anchor="end" font-size="11.6" font-weight="bold" >300</text>
<text transform="translate(320.0,484.3) rotate(-90)" text-anchor="end" font-size="11.6" font-weight="bold" >350</text>
<text transform="translate(12.7,424) rotate(-90)" text-anchor="middle" font-size="14.5" font-weight="bold">C / N</text>
<path d="M42.0,417.0L51.9,419.2L61.8,421.5L71.7,448.8L81.6,448.8L91.4,443.3L101.3,457.7L111.2,435.4L121.1,448.8L131.0,437.0L140.8,437.0L150.7,445.5L160.6,452.1L170.5,454.1L180.4,425.1L190.3,423.2L200.1,437.0L210.0,430.7L219.9,417.1L229.8,441.3L239.7,435.6L249.5,427.9L259.4,432.9L269.3,441.3L279.2,437.5L289.1,456.4" fill="none" stroke="#111" stroke-width="1.1" stroke-dasharray="1.2,1.3" stroke-linejoin="round"/>
<rect x="40.1" y="415.1" width="3.9" height="3.9" fill="#fff" stroke="#000" stroke-width="0.75"/>
<rect x="50.0" y="417.2" width="3.9" height="3.9" fill="#fff" stroke="#000" stroke-width="0.75"/>
<rect x="59.9" y="419.6" width="3.9" height="3.9" fill="#fff" stroke="#000" stroke-width="0.75"/>
<rect x="69.7" y="446.9" width="3.9" height="3.9" fill="#fff" stroke="#000" stroke-width="0.75"/>
<rect x="79.6" y="446.9" width="3.9" height="3.9" fill="#fff" stroke="#000" stroke-width="0.75"/>
<rect x="89.5" y="441.4" width="3.9" height="3.9" fill="#fff" stroke="#000" stroke-width="0.75"/>
<rect x="99.4" y="455.8" width="3.9" height="3.9" fill="#fff" stroke="#000" stroke-width="0.75"/>
<rect x="109.3" y="433.4" width="3.9" height="3.9" fill="#fff" stroke="#000" stroke-width="0.75"/>
<rect x="119.1" y="446.9" width="3.9" height="3.9" fill="#fff" stroke="#000" stroke-width="0.75"/>
<rect x="129.0" y="435.1" width="3.9" height="3.9" fill="#fff" stroke="#000" stroke-width="0.75"/>
<rect x="138.9" y="435.1" width="3.9" height="3.9" fill="#fff" stroke="#000" stroke-width="0.75"/>
<rect x="148.8" y="443.6" width="3.9" height="3.9" fill="#fff" stroke="#000" stroke-width="0.75"/>
<rect x="158.7" y="450.2" width="3.9" height="3.9" fill="#fff" stroke="#000" stroke-width="0.75"/>
<rect x="168.5" y="452.2" width="3.9" height="3.9" fill="#fff" stroke="#000" stroke-width="0.75"/>
<rect x="178.4" y="423.2" width="3.9" height="3.9" fill="#fff" stroke="#000" stroke-width="0.75"/>
<rect x="188.3" y="421.2" width="3.9" height="3.9" fill="#fff" stroke="#000" stroke-width="0.75"/>
<rect x="198.2" y="435.1" width="3.9" height="3.9" fill="#fff" stroke="#000" stroke-width="0.75"/>
<rect x="208.1" y="428.8" width="3.9" height="3.9" fill="#fff" stroke="#000" stroke-width="0.75"/>
<rect x="217.9" y="415.2" width="3.9" height="3.9" fill="#fff" stroke="#000" stroke-width="0.75"/>
<rect x="227.8" y="439.4" width="3.9" height="3.9" fill="#fff" stroke="#000" stroke-width="0.75"/>
<rect x="237.7" y="433.7" width="3.9" height="3.9" fill="#fff" stroke="#000" stroke-width="0.75"/>
<rect x="247.6" y="425.9" width="3.9" height="3.9" fill="#fff" stroke="#000" stroke-width="0.75"/>
<rect x="257.5" y="430.9" width="3.9" height="3.9" fill="#fff" stroke="#000" stroke-width="0.75"/>
<rect x="267.3" y="439.4" width="3.9" height="3.9" fill="#fff" stroke="#000" stroke-width="0.75"/>
<rect x="277.2" y="435.6" width="3.9" height="3.9" fill="#fff" stroke="#000" stroke-width="0.75"/>
<rect x="287.1" y="454.4" width="3.9" height="3.9" fill="#fff" stroke="#000" stroke-width="0.75"/>
<path d="M42.0,440.6L51.9,462.0L61.8,435.4L71.7,430.7L81.6,424.5L91.4,425.1L101.3,434.1L111.2,440.3L121.1,432.6L131.0,420.2L140.8,419.9L150.7,420.2L160.6,445.1L170.5,444.2L180.4,433.3L190.3,446.8L200.1,425.2L210.0,442.9L219.9,448.3" fill="none" stroke="#222" stroke-width="0.9" stroke-dasharray="4,2" stroke-linejoin="round"/>
<path d="M42.0,438.3L44.3,442.4L39.7,442.4Z" fill="#000"/>
<path d="M51.9,459.7L54.2,463.8L49.6,463.8Z" fill="#000"/>
<path d="M61.8,433.1L64.1,437.2L59.5,437.2Z" fill="#000"/>
<path d="M71.7,428.4L74.0,432.5L69.4,432.5Z" fill="#000"/>
<path d="M81.6,422.2L83.9,426.3L79.3,426.3Z" fill="#000"/>
<path d="M91.4,422.8L93.7,426.9L89.1,426.9Z" fill="#000"/>
<path d="M101.3,431.8L103.6,435.9L99.0,435.9Z" fill="#000"/>
<path d="M111.2,438.0L113.5,442.1L108.9,442.1Z" fill="#000"/>
<path d="M121.1,430.3L123.4,434.4L118.8,434.4Z" fill="#000"/>
<path d="M131.0,417.9L133.3,422.0L128.7,422.0Z" fill="#000"/>
<path d="M140.8,417.6L143.1,421.7L138.5,421.7Z" fill="#000"/>
<path d="M150.7,417.9L153.0,422.0L148.4,422.0Z" fill="#000"/>
<path d="M160.6,442.8L162.9,446.9L158.3,446.9Z" fill="#000"/>
<path d="M170.5,441.9L172.8,446.0L168.2,446.0Z" fill="#000"/>
<path d="M180.4,431.0L182.7,435.1L178.1,435.1Z" fill="#000"/>
<path d="M190.3,444.5L192.6,448.6L188.0,448.6Z" fill="#000"/>
<path d="M200.1,422.9L202.4,427.0L197.8,427.0Z" fill="#000"/>
<path d="M210.0,440.6L212.3,444.7L207.7,444.7Z" fill="#000"/>
<path d="M219.9,446.0L222.2,450.1L217.6,450.1Z" fill="#000"/>
<path d="M42.0,439.6L51.9,469.8L61.8,478.4L71.7,473.1L81.6,465.2L91.4,471.1L101.3,470.5L111.2,467.8L121.1,450.1L131.0,454.8L140.8,454.8L150.7,454.0L160.6,452.0L170.5,458.7L180.4,437.5L190.3,448.3L200.1,448.3L210.0,455.4L219.9,457.5L229.8,457.5" fill="none" stroke="#222" stroke-width="0.9" stroke-dasharray="2,1.5" stroke-linejoin="round"/>
<path d="M42.0,437.7L43.9,441.1L40.1,441.1Z" fill="#fff" stroke="#000" stroke-width="0.7"/>
<path d="M51.9,467.9L53.8,471.3L50.0,471.3Z" fill="#fff" stroke="#000" stroke-width="0.7"/>
<path d="M61.8,476.5L63.7,479.9L59.9,479.9Z" fill="#fff" stroke="#000" stroke-width="0.7"/>
<path d="M71.7,471.2L73.6,474.6L69.8,474.6Z" fill="#fff" stroke="#000" stroke-width="0.7"/>
<path d="M81.6,463.3L83.5,466.7L79.7,466.7Z" fill="#fff" stroke="#000" stroke-width="0.7"/>
<path d="M91.4,469.2L93.3,472.6L89.5,472.6Z" fill="#fff" stroke="#000" stroke-width="0.7"/>
<path d="M101.3,468.6L103.2,472.0L99.4,472.0Z" fill="#fff" stroke="#000" stroke-width="0.7"/>
<path d="M111.2,465.9L113.1,469.3L109.3,469.3Z" fill="#fff" stroke="#000" stroke-width="0.7"/>
<path d="M121.1,448.2L123.0,451.6L119.2,451.6Z" fill="#fff" stroke="#000" stroke-width="0.7"/>
<path d="M131.0,452.9L132.9,456.3L129.1,456.3Z" fill="#fff" stroke="#000" stroke-width="0.7"/>
<path d="M140.8,452.9L142.7,456.3L138.9,456.3Z" fill="#fff" stroke="#000" stroke-width="0.7"/>
<path d="M150.7,452.1L152.6,455.5L148.8,455.5Z" fill="#fff" stroke="#000" stroke-width="0.7"/>
<path d="M160.6,450.1L162.5,453.5L158.7,453.5Z" fill="#fff" stroke="#000" stroke-width="0.7"/>
<path d="M170.5,456.8L172.4,460.2L168.6,460.2Z" fill="#fff" stroke="#000" stroke-width="0.7"/>
<path d="M180.4,435.6L182.3,439.0L178.5,439.0Z" fill="#fff" stroke="#000" stroke-width="0.7"/>
<path d="M190.3,446.4L192.2,449.8L188.4,449.8Z" fill="#fff" stroke="#000" stroke-width="0.7"/>
<path d="M200.1,446.4L202.0,449.8L198.2,449.8Z" fill="#fff" stroke="#000" stroke-width="0.7"/>
<path d="M210.0,453.5L211.9,456.9L208.1,456.9Z" fill="#fff" stroke="#000" stroke-width="0.7"/>
<path d="M219.9,455.6L221.8,459.0L218.0,459.0Z" fill="#fff" stroke="#000" stroke-width="0.7"/>
<path d="M229.8,455.6L231.7,459.0L227.9,459.0Z" fill="#fff" stroke="#000" stroke-width="0.7"/>
<path d="M42.0,419.2L51.9,471.8L61.8,475.7L71.7,475.1L81.6,474.4L91.4,473.1L101.3,473.1L111.2,471.8L121.1,464.8L131.0,463.9L140.8,463.3" fill="none" stroke="#3c3c3c" stroke-width="2.2" stroke-linejoin="round"/>
<path d="M42.0,419.2L51.9,471.8L61.8,475.7L71.7,475.1L81.6,474.4L91.4,473.1L101.3,473.1L111.2,471.8L121.1,464.8L131.0,463.9L140.8,463.3" fill="none" stroke="#7a7a7a" stroke-width="0.8" stroke-linejoin="round"/>
<circle cx="42.0" cy="419.2" r="1.9" fill="#000"/>
<circle cx="51.9" cy="471.8" r="1.9" fill="#000"/>
<circle cx="61.8" cy="475.7" r="1.9" fill="#000"/>
<circle cx="71.7" cy="475.1" r="1.9" fill="#000"/>
<circle cx="81.6" cy="474.4" r="1.9" fill="#000"/>
<circle cx="91.4" cy="473.1" r="1.9" fill="#000"/>
<circle cx="101.3" cy="473.1" r="1.9" fill="#000"/>
<circle cx="111.2" cy="471.8" r="1.9" fill="#000"/>
<circle cx="121.1" cy="464.8" r="1.9" fill="#000"/>
<circle cx="131.0" cy="463.9" r="1.9" fill="#000"/>
<circle cx="140.8" cy="463.3" r="1.9" fill="#000"/>
<path d="M42.0,434.3L51.9,397.3L61.8,450.1L71.7,467.8L81.6,461.3L91.4,467.8L101.3,471.1L111.2,463.9L121.1,454.7L131.0,458.0L140.8,457.7L150.7,459.3L160.6,455.4L170.5,450.5L180.4,439.6L190.3,450.5L200.1,435.6L210.0,421.5L219.9,424.8L229.8,417.1L239.7,404.0L249.5,380.8L259.4,372.7L269.3,356.6" fill="none" stroke="#222" stroke-width="0.9" stroke-linejoin="round"/>
<rect x="40.0" y="432.3" width="4.0" height="4.0" fill="#000"/>
<rect x="49.9" y="395.3" width="4.0" height="4.0" fill="#000"/>
<rect x="59.8" y="448.1" width="4.0" height="4.0" fill="#000"/>
<rect x="69.7" y="465.8" width="4.0" height="4.0" fill="#000"/>
<rect x="79.6" y="459.3" width="4.0" height="4.0" fill="#000"/>
<rect x="89.4" y="465.8" width="4.0" height="4.0" fill="#000"/>
<rect x="99.3" y="469.1" width="4.0" height="4.0" fill="#000"/>
<rect x="109.2" y="461.9" width="4.0" height="4.0" fill="#000"/>
<rect x="119.1" y="452.7" width="4.0" height="4.0" fill="#000"/>
<rect x="129.0" y="456.0" width="4.0" height="4.0" fill="#000"/>
<rect x="138.8" y="455.7" width="4.0" height="4.0" fill="#000"/>
<rect x="148.7" y="457.3" width="4.0" height="4.0" fill="#000"/>
<rect x="158.6" y="453.4" width="4.0" height="4.0" fill="#000"/>
<rect x="168.5" y="448.5" width="4.0" height="4.0" fill="#000"/>
<rect x="178.4" y="437.6" width="4.0" height="4.0" fill="#000"/>
<rect x="188.3" y="448.5" width="4.0" height="4.0" fill="#000"/>
<rect x="198.1" y="433.6" width="4.0" height="4.0" fill="#000"/>
<rect x="208.0" y="419.5" width="4.0" height="4.0" fill="#000"/>
<rect x="217.9" y="422.8" width="4.0" height="4.0" fill="#000"/>
<rect x="227.8" y="415.1" width="4.0" height="4.0" fill="#000"/>
<rect x="237.7" y="402.0" width="4.0" height="4.0" fill="#000"/>
<rect x="247.5" y="378.8" width="4.0" height="4.0" fill="#000"/>
<rect x="257.4" y="370.7" width="4.0" height="4.0" fill="#000"/>
<rect x="267.3" y="354.6" width="4.0" height="4.0" fill="#000"/>
<path d="M42.0,475.7L51.9,475.7L61.8,475.1L71.7,475.5L81.6,475.7L91.4,476.1L101.3,478.4L111.2,480.3" fill="none" stroke="#111" stroke-width="1.7" stroke-dasharray="6,3.2" stroke-linejoin="round"/>
<circle cx="42.0" cy="475.7" r="2.1" fill="#fff" stroke="#000" stroke-width="0.8"/>
<circle cx="51.9" cy="475.7" r="2.1" fill="#fff" stroke="#000" stroke-width="0.8"/>
<circle cx="61.8" cy="475.1" r="2.1" fill="#fff" stroke="#000" stroke-width="0.8"/>
<circle cx="71.7" cy="475.5" r="2.1" fill="#fff" stroke="#000" stroke-width="0.8"/>
<circle cx="81.6" cy="475.7" r="2.1" fill="#fff" stroke="#000" stroke-width="0.8"/>
<circle cx="91.4" cy="476.1" r="2.1" fill="#fff" stroke="#000" stroke-width="0.8"/>
<circle cx="101.3" cy="478.4" r="2.1" fill="#fff" stroke="#000" stroke-width="0.8"/>
<circle cx="111.2" cy="480.3" r="2.1" fill="#fff" stroke="#000" stroke-width="0.8"/>
<line x1="37.1" y1="526.3" x2="37.1" y2="652.6" stroke="#a0a0a0" stroke-width="1.4"/>
<line x1="34.1" y1="652.6" x2="335.7" y2="652.6" stroke="#808080" stroke-width="1.2"/>
<line x1="33.9" y1="535.5" x2="39.7" y2="535.5" stroke="#a0a0a0" stroke-width="1.1"/>
<text transform="translate(25.9,535.5) rotate(-90)" text-anchor="middle" font-size="11.6" font-weight="bold" >52</text>
<line x1="33.9" y1="564.775" x2="39.7" y2="564.775" stroke="#a0a0a0" stroke-width="1.1"/>
<text transform="translate(25.9,564.8) rotate(-90)" text-anchor="middle" font-size="11.6" font-weight="bold" >49</text>
<line x1="33.9" y1="594.05" x2="39.7" y2="594.05" stroke="#a0a0a0" stroke-width="1.1"/>
<text transform="translate(25.9,594.0) rotate(-90)" text-anchor="middle" font-size="11.6" font-weight="bold" >46</text>
<line x1="33.9" y1="623.325" x2="39.7" y2="623.325" stroke="#a0a0a0" stroke-width="1.1"/>
<text transform="translate(25.9,623.3) rotate(-90)" text-anchor="middle" font-size="11.6" font-weight="bold" >43</text>
<line x1="33.9" y1="652.6" x2="39.7" y2="652.6" stroke="#a0a0a0" stroke-width="1.1"/>
<text transform="translate(25.9,652.6) rotate(-90)" text-anchor="middle" font-size="11.6" font-weight="bold" >40</text>
<line x1="47.1" y1="650.8000000000001" x2="47.1" y2="654.4" stroke="#555" stroke-width="0.9"/>
<line x1="57.0" y1="650.8000000000001" x2="57.0" y2="654.4" stroke="#555" stroke-width="0.9"/>
<line x1="67.0" y1="650.8000000000001" x2="67.0" y2="654.4" stroke="#555" stroke-width="0.9"/>
<line x1="76.9" y1="650.8000000000001" x2="76.9" y2="654.4" stroke="#555" stroke-width="0.9"/>
<line x1="86.9" y1="650.8000000000001" x2="86.9" y2="654.4" stroke="#555" stroke-width="0.9"/>
<line x1="96.8" y1="650.8000000000001" x2="96.8" y2="654.4" stroke="#555" stroke-width="0.9"/>
<line x1="106.8" y1="650.8000000000001" x2="106.8" y2="654.4" stroke="#555" stroke-width="0.9"/>
<line x1="116.7" y1="650.8000000000001" x2="116.7" y2="654.4" stroke="#555" stroke-width="0.9"/>
<line x1="126.7" y1="650.8000000000001" x2="126.7" y2="654.4" stroke="#555" stroke-width="0.9"/>
<line x1="136.6" y1="650.8000000000001" x2="136.6" y2="654.4" stroke="#555" stroke-width="0.9"/>
<line x1="146.6" y1="650.8000000000001" x2="146.6" y2="654.4" stroke="#555" stroke-width="0.9"/>
<line x1="156.5" y1="650.8000000000001" x2="156.5" y2="654.4" stroke="#555" stroke-width="0.9"/>
<line x1="166.5" y1="650.8000000000001" x2="166.5" y2="654.4" stroke="#555" stroke-width="0.9"/>
<line x1="176.4" y1="650.8000000000001" x2="176.4" y2="654.4" stroke="#555" stroke-width="0.9"/>
<line x1="186.4" y1="650.8000000000001" x2="186.4" y2="654.4" stroke="#555" stroke-width="0.9"/>
<line x1="196.4" y1="650.8000000000001" x2="196.4" y2="654.4" stroke="#555" stroke-width="0.9"/>
<line x1="206.3" y1="650.8000000000001" x2="206.3" y2="654.4" stroke="#555" stroke-width="0.9"/>
<line x1="216.3" y1="650.8000000000001" x2="216.3" y2="654.4" stroke="#555" stroke-width="0.9"/>
<line x1="226.2" y1="650.8000000000001" x2="226.2" y2="654.4" stroke="#555" stroke-width="0.9"/>
<line x1="236.2" y1="650.8000000000001" x2="236.2" y2="654.4" stroke="#555" stroke-width="0.9"/>
<line x1="246.1" y1="650.8000000000001" x2="246.1" y2="654.4" stroke="#555" stroke-width="0.9"/>
<line x1="256.1" y1="650.8000000000001" x2="256.1" y2="654.4" stroke="#555" stroke-width="0.9"/>
<line x1="266.0" y1="650.8000000000001" x2="266.0" y2="654.4" stroke="#555" stroke-width="0.9"/>
<line x1="276.0" y1="650.8000000000001" x2="276.0" y2="654.4" stroke="#555" stroke-width="0.9"/>
<line x1="285.9" y1="650.8000000000001" x2="285.9" y2="654.4" stroke="#555" stroke-width="0.9"/>
<line x1="295.9" y1="650.8000000000001" x2="295.9" y2="654.4" stroke="#555" stroke-width="0.9"/>
<line x1="305.8" y1="650.8000000000001" x2="305.8" y2="654.4" stroke="#555" stroke-width="0.9"/>
<line x1="315.8" y1="650.8000000000001" x2="315.8" y2="654.4" stroke="#555" stroke-width="0.9"/>
<line x1="325.7" y1="650.8000000000001" x2="325.7" y2="654.4" stroke="#555" stroke-width="0.9"/>
<line x1="335.7" y1="650.8000000000001" x2="335.7" y2="654.4" stroke="#555" stroke-width="0.9"/>
<text transform="translate(46.1,655.9) rotate(-90)" text-anchor="end" font-size="11.6" font-weight="bold" >0</text>
<text transform="translate(98.2,655.9) rotate(-90)" text-anchor="end" font-size="11.6" font-weight="bold" >50</text>
<text transform="translate(150.0,655.9) rotate(-90)" text-anchor="end" font-size="11.6" font-weight="bold" >100</text>
<text transform="translate(201.9,655.9) rotate(-90)" text-anchor="end" font-size="11.6" font-weight="bold" >150</text>
<text transform="translate(253.1,655.9) rotate(-90)" text-anchor="end" font-size="11.6" font-weight="bold" >200</text>
<text transform="translate(293.1,655.9) rotate(-90)" text-anchor="end" font-size="11.6" font-weight="bold" >300</text>
<text transform="translate(320.0,655.9) rotate(-90)" text-anchor="end" font-size="11.6" font-weight="bold" >350</text>
<text transform="translate(12.7,594) rotate(-90)" text-anchor="middle" font-size="14.5" font-weight="bold">C, %</text>
<path d="M42.1,638.3L52.0,558.1L62.0,560.0L71.9,560.7L81.9,559.2L91.8,559.4L101.8,566.6L111.7,565.3L121.7,560.7L131.7,560.7L141.6,556.0L151.6,562.7L161.5,567.3L171.5,580.4L181.4,573.2L191.4,581.8L201.3,577.2L211.3,584.4L221.2,578.0L231.2,575.8L241.1,575.8" fill="none" stroke="#222" stroke-width="0.9" stroke-dasharray="2,1.5" stroke-linejoin="round"/>
<path d="M42.1,636.4L44.0,639.8L40.2,639.8Z" fill="#fff" stroke="#000" stroke-width="0.7"/>
<path d="M52.0,556.2L53.9,559.6L50.1,559.6Z" fill="#fff" stroke="#000" stroke-width="0.7"/>
<path d="M62.0,558.1L63.9,561.5L60.1,561.5Z" fill="#fff" stroke="#000" stroke-width="0.7"/>
<path d="M71.9,558.8L73.8,562.2L70.0,562.2Z" fill="#fff" stroke="#000" stroke-width="0.7"/>
<path d="M81.9,557.3L83.8,560.7L80.0,560.7Z" fill="#fff" stroke="#000" stroke-width="0.7"/>
<path d="M91.8,557.5L93.7,560.9L89.9,560.9Z" fill="#fff" stroke="#000" stroke-width="0.7"/>
<path d="M101.8,564.7L103.7,568.1L99.9,568.1Z" fill="#fff" stroke="#000" stroke-width="0.7"/>
<path d="M111.7,563.4L113.6,566.8L109.8,566.8Z" fill="#fff" stroke="#000" stroke-width="0.7"/>
<path d="M121.7,558.8L123.6,562.2L119.8,562.2Z" fill="#fff" stroke="#000" stroke-width="0.7"/>
<path d="M131.7,558.8L133.6,562.2L129.8,562.2Z" fill="#fff" stroke="#000" stroke-width="0.7"/>
<path d="M141.6,554.1L143.5,557.5L139.7,557.5Z" fill="#fff" stroke="#000" stroke-width="0.7"/>
<path d="M151.6,560.8L153.5,564.2L149.7,564.2Z" fill="#fff" stroke="#000" stroke-width="0.7"/>
<path d="M161.5,565.4L163.4,568.8L159.6,568.8Z" fill="#fff" stroke="#000" stroke-width="0.7"/>
<path d="M171.5,578.5L173.4,581.9L169.6,581.9Z" fill="#fff" stroke="#000" stroke-width="0.7"/>
<path d="M181.4,571.3L183.3,574.7L179.5,574.7Z" fill="#fff" stroke="#000" stroke-width="0.7"/>
<path d="M191.4,579.9L193.3,583.3L189.5,583.3Z" fill="#fff" stroke="#000" stroke-width="0.7"/>
<path d="M201.3,575.3L203.2,578.7L199.4,578.7Z" fill="#fff" stroke="#000" stroke-width="0.7"/>
<path d="M211.3,582.5L213.2,585.9L209.4,585.9Z" fill="#fff" stroke="#000" stroke-width="0.7"/>
<path d="M221.2,576.1L223.1,579.5L219.3,579.5Z" fill="#fff" stroke="#000" stroke-width="0.7"/>
<path d="M231.2,573.9L233.1,577.3L229.3,577.3Z" fill="#fff" stroke="#000" stroke-width="0.7"/>
<path d="M241.1,573.9L243.0,577.3L239.2,577.3Z" fill="#fff" stroke="#000" stroke-width="0.7"/>
<path d="M42.1,565.3L52.0,540.8L62.0,560.0L71.9,580.4L81.9,584.1L91.8,586.0L101.8,587.5L111.7,589.6L121.7,587.0L131.7,594.9L141.6,594.2L151.6,595.2L161.5,586.4L171.5,582.4L181.4,588.1L191.4,592.0L201.3,587.0L211.3,579.8L221.2,580.4" fill="none" stroke="#222" stroke-width="0.9" stroke-dasharray="4,2" stroke-linejoin="round"/>
<path d="M42.1,563.0L44.4,567.1L39.8,567.1Z" fill="#000"/>
<path d="M52.0,538.5L54.3,542.6L49.7,542.6Z" fill="#000"/>
<path d="M62.0,557.7L64.3,561.8L59.7,561.8Z" fill="#000"/>
<path d="M71.9,578.1L74.2,582.2L69.6,582.2Z" fill="#000"/>
<path d="M81.9,581.8L84.2,585.9L79.6,585.9Z" fill="#000"/>
<path d="M91.8,583.7L94.1,587.8L89.5,587.8Z" fill="#000"/>
<path d="M101.8,585.2L104.1,589.3L99.5,589.3Z" fill="#000"/>
<path d="M111.7,587.3L114.0,591.4L109.4,591.4Z" fill="#000"/>
<path d="M121.7,584.7L124.0,588.8L119.4,588.8Z" fill="#000"/>
<path d="M131.7,592.6L134.0,596.7L129.4,596.7Z" fill="#000"/>
<path d="M141.6,591.9L143.9,596.0L139.3,596.0Z" fill="#000"/>
<path d="M151.6,592.9L153.9,597.0L149.3,597.0Z" fill="#000"/>
<path d="M161.5,584.1L163.8,588.2L159.2,588.2Z" fill="#000"/>
<path d="M171.5,580.1L173.8,584.2L169.2,584.2Z" fill="#000"/>
<path d="M181.4,585.8L183.7,589.9L179.1,589.9Z" fill="#000"/>
<path d="M191.4,589.7L193.7,593.8L189.1,593.8Z" fill="#000"/>
<path d="M201.3,584.7L203.6,588.8L199.0,588.8Z" fill="#000"/>
<path d="M211.3,577.5L213.6,581.6L209.0,581.6Z" fill="#000"/>
<path d="M221.2,578.1L223.5,582.2L218.9,582.2Z" fill="#000"/>
<path d="M42.1,571.9L52.0,573.9L62.0,575.8L71.9,572.3L81.9,566.6L91.8,559.4L101.8,560.1L111.7,562.0L121.7,552.8L131.7,552.2L141.6,551.5L151.6,557.0L161.5,565.3" fill="none" stroke="#111" stroke-width="1.7" stroke-dasharray="6,3.2" stroke-linejoin="round"/>
<circle cx="42.1" cy="571.9" r="2.1" fill="#fff" stroke="#000" stroke-width="0.8"/>
<circle cx="52.0" cy="573.9" r="2.1" fill="#fff" stroke="#000" stroke-width="0.8"/>
<circle cx="62.0" cy="575.8" r="2.1" fill="#fff" stroke="#000" stroke-width="0.8"/>
<circle cx="71.9" cy="572.3" r="2.1" fill="#fff" stroke="#000" stroke-width="0.8"/>
<circle cx="81.9" cy="566.6" r="2.1" fill="#fff" stroke="#000" stroke-width="0.8"/>
<circle cx="91.8" cy="559.4" r="2.1" fill="#fff" stroke="#000" stroke-width="0.8"/>
<circle cx="101.8" cy="560.1" r="2.1" fill="#fff" stroke="#000" stroke-width="0.8"/>
<circle cx="111.7" cy="562.0" r="2.1" fill="#fff" stroke="#000" stroke-width="0.8"/>
<circle cx="121.7" cy="552.8" r="2.1" fill="#fff" stroke="#000" stroke-width="0.8"/>
<circle cx="131.7" cy="552.2" r="2.1" fill="#fff" stroke="#000" stroke-width="0.8"/>
<circle cx="141.6" cy="551.5" r="2.1" fill="#fff" stroke="#000" stroke-width="0.8"/>
<circle cx="151.6" cy="557.0" r="2.1" fill="#fff" stroke="#000" stroke-width="0.8"/>
<circle cx="161.5" cy="565.3" r="2.1" fill="#fff" stroke="#000" stroke-width="0.8"/>
<path d="M42.1,593.3L52.0,549.6L62.0,559.2L71.9,572.6L81.9,555.2L91.8,559.2L101.8,557.2L111.7,553.1L121.7,549.2L131.7,551.5L141.6,552.8L151.6,559.4L161.5,564.7L171.5,579.8L181.4,567.0L191.4,576.0L201.3,570.0L211.3,574.0" fill="none" stroke="#3c3c3c" stroke-width="2.2" stroke-linejoin="round"/>
<path d="M42.1,593.3L52.0,549.6L62.0,559.2L71.9,572.6L81.9,555.2L91.8,559.2L101.8,557.2L111.7,553.1L121.7,549.2L131.7,551.5L141.6,552.8L151.6,559.4L161.5,564.7L171.5,579.8L181.4,567.0L191.4,576.0L201.3,570.0L211.3,574.0" fill="none" stroke="#7a7a7a" stroke-width="0.8" stroke-linejoin="round"/>
<circle cx="42.1" cy="593.3" r="1.9" fill="#000"/>
<circle cx="52.0" cy="549.6" r="1.9" fill="#000"/>
<circle cx="62.0" cy="559.2" r="1.9" fill="#000"/>
<circle cx="71.9" cy="572.6" r="1.9" fill="#000"/>
<circle cx="81.9" cy="555.2" r="1.9" fill="#000"/>
<circle cx="91.8" cy="559.2" r="1.9" fill="#000"/>
<circle cx="101.8" cy="557.2" r="1.9" fill="#000"/>
<circle cx="111.7" cy="553.1" r="1.9" fill="#000"/>
<circle cx="121.7" cy="549.2" r="1.9" fill="#000"/>
<circle cx="131.7" cy="551.5" r="1.9" fill="#000"/>
<circle cx="141.6" cy="552.8" r="1.9" fill="#000"/>
<circle cx="151.6" cy="559.4" r="1.9" fill="#000"/>
<circle cx="161.5" cy="564.7" r="1.9" fill="#000"/>
<circle cx="171.5" cy="579.8" r="1.9" fill="#000"/>
<circle cx="181.4" cy="567.0" r="1.9" fill="#000"/>
<circle cx="191.4" cy="576.0" r="1.9" fill="#000"/>
<circle cx="201.3" cy="570.0" r="1.9" fill="#000"/>
<circle cx="211.3" cy="574.0" r="1.9" fill="#000"/>
<path d="M42.1,593.3L52.0,578.9L62.0,585.7L71.9,587.7L81.9,575.8L91.8,587.7L101.8,588.1L111.7,585.4L121.7,604.1L131.7,579.1L141.6,577.8L151.6,583.7L161.5,604.1L171.5,587.7L181.4,566.6L191.4,568.6L201.3,571.2L211.3,573.9L221.2,585.0L231.2,587.7L241.1,604.1L251.1,610.0L261.0,603.0L271.0,598.6L281.0,604.0L290.9,599.5L300.9,595.6L310.8,611.2L320.8,546.0L322.0,652.6" fill="none" stroke="#222" stroke-width="0.9" stroke-linejoin="round"/>
<rect x="40.1" y="591.3" width="4.0" height="4.0" fill="#000"/>
<rect x="50.0" y="576.9" width="4.0" height="4.0" fill="#000"/>
<rect x="60.0" y="583.7" width="4.0" height="4.0" fill="#000"/>
<rect x="69.9" y="585.7" width="4.0" height="4.0" fill="#000"/>
<rect x="79.9" y="573.8" width="4.0" height="4.0" fill="#000"/>
<rect x="89.8" y="585.7" width="4.0" height="4.0" fill="#000"/>
<rect x="99.8" y="586.1" width="4.0" height="4.0" fill="#000"/>
<rect x="109.7" y="583.4" width="4.0" height="4.0" fill="#000"/>
<rect x="119.7" y="602.1" width="4.0" height="4.0" fill="#000"/>
<rect x="129.7" y="577.1" width="4.0" height="4.0" fill="#000"/>
<rect x="139.6" y="575.8" width="4.0" height="4.0" fill="#000"/>
<rect x="149.6" y="581.7" width="4.0" height="4.0" fill="#000"/>
<rect x="159.5" y="602.1" width="4.0" height="4.0" fill="#000"/>
<rect x="169.5" y="585.7" width="4.0" height="4.0" fill="#000"/>
<rect x="179.4" y="564.6" width="4.0" height="4.0" fill="#000"/>
<rect x="189.4" y="566.6" width="4.0" height="4.0" fill="#000"/>
<rect x="199.3" y="569.2" width="4.0" height="4.0" fill="#000"/>
<rect x="209.3" y="571.9" width="4.0" height="4.0" fill="#000"/>
<rect x="219.2" y="583.0" width="4.0" height="4.0" fill="#000"/>
<rect x="229.2" y="585.7" width="4.0" height="4.0" fill="#000"/>
<rect x="239.1" y="602.1" width="4.0" height="4.0" fill="#000"/>
<rect x="249.1" y="608.0" width="4.0" height="4.0" fill="#000"/>
<rect x="259.0" y="601.0" width="4.0" height="4.0" fill="#000"/>
<rect x="269.0" y="596.6" width="4.0" height="4.0" fill="#000"/>
<rect x="279.0" y="602.0" width="4.0" height="4.0" fill="#000"/>
<rect x="288.9" y="597.5" width="4.0" height="4.0" fill="#000"/>
<rect x="298.9" y="593.6" width="4.0" height="4.0" fill="#000"/>
<rect x="308.8" y="609.2" width="4.0" height="4.0" fill="#000"/>
<rect x="318.8" y="544.0" width="4.0" height="4.0" fill="#000"/>
<path d="M42.1,585.7L52.0,592.5L62.0,575.0L71.9,556.1L81.9,559.4L91.8,559.4L101.8,559.4L111.7,571.9L121.7,558.1L131.7,648.1L141.6,647.2L151.6,555.2L161.5,552.6L171.5,540.8L181.4,560.1L191.4,577.8L201.3,555.2L211.3,555.2L221.2,559.4L231.2,572.8L241.1,572.2L251.1,572.2L261.0,613.3L271.0,598.6L281.0,604.1L290.9,611.3L291.3,652.6" fill="none" stroke="#111" stroke-width="1.1" stroke-dasharray="1.2,1.3" stroke-linejoin="round"/>
<rect x="40.1" y="583.8" width="3.9" height="3.9" fill="#fff" stroke="#000" stroke-width="0.75"/>
<rect x="50.1" y="590.5" width="3.9" height="3.9" fill="#fff" stroke="#000" stroke-width="0.75"/>
<rect x="60.0" y="573.0" width="3.9" height="3.9" fill="#fff" stroke="#000" stroke-width="0.75"/>
<rect x="70.0" y="554.1" width="3.9" height="3.9" fill="#fff" stroke="#000" stroke-width="0.75"/>
<rect x="79.9" y="557.4" width="3.9" height="3.9" fill="#fff" stroke="#000" stroke-width="0.75"/>
<rect x="89.9" y="557.4" width="3.9" height="3.9" fill="#fff" stroke="#000" stroke-width="0.75"/>
<rect x="99.8" y="557.4" width="3.9" height="3.9" fill="#fff" stroke="#000" stroke-width="0.75"/>
<rect x="109.8" y="569.9" width="3.9" height="3.9" fill="#fff" stroke="#000" stroke-width="0.75"/>
<rect x="119.8" y="556.1" width="3.9" height="3.9" fill="#fff" stroke="#000" stroke-width="0.75"/>
<rect x="129.7" y="646.1" width="3.9" height="3.9" fill="#fff" stroke="#000" stroke-width="0.75"/>
<rect x="139.7" y="645.2" width="3.9" height="3.9" fill="#fff" stroke="#000" stroke-width="0.75"/>
<rect x="149.6" y="553.2" width="3.9" height="3.9" fill="#fff" stroke="#000" stroke-width="0.75"/>
<rect x="159.6" y="550.6" width="3.9" height="3.9" fill="#fff" stroke="#000" stroke-width="0.75"/>
<rect x="169.5" y="538.8" width="3.9" height="3.9" fill="#fff" stroke="#000" stroke-width="0.75"/>
<rect x="179.5" y="558.1" width="3.9" height="3.9" fill="#fff" stroke="#000" stroke-width="0.75"/>
<rect x="189.4" y="575.8" width="3.9" height="3.9" fill="#fff" stroke="#000" stroke-width="0.75"/>
<rect x="199.4" y="553.2" width="3.9" height="3.9" fill="#fff" stroke="#000" stroke-width="0.75"/>
<rect x="209.3" y="553.2" width="3.9" height="3.9" fill="#fff" stroke="#000" stroke-width="0.75"/>
<rect x="219.3" y="557.4" width="3.9" height="3.9" fill="#fff" stroke="#000" stroke-width="0.75"/>
<rect x="229.2" y="570.8" width="3.9" height="3.9" fill="#fff" stroke="#000" stroke-width="0.75"/>
<rect x="239.2" y="570.2" width="3.9" height="3.9" fill="#fff" stroke="#000" stroke-width="0.75"/>
<rect x="249.1" y="570.2" width="3.9" height="3.9" fill="#fff" stroke="#000" stroke-width="0.75"/>
<rect x="259.1" y="611.3" width="3.9" height="3.9" fill="#fff" stroke="#000" stroke-width="0.75"/>
<rect x="269.1" y="596.6" width="3.9" height="3.9" fill="#fff" stroke="#000" stroke-width="0.75"/>
<rect x="279.0" y="602.1" width="3.9" height="3.9" fill="#fff" stroke="#000" stroke-width="0.75"/>
<rect x="289.0" y="609.3" width="3.9" height="3.9" fill="#fff" stroke="#000" stroke-width="0.75"/>
<line x1="37.1" y1="698.3" x2="37.1" y2="824.6" stroke="#a0a0a0" stroke-width="1.4"/>
<line x1="34.1" y1="824.6" x2="337.8" y2="824.6" stroke="#808080" stroke-width="1.2"/>
<line x1="33.9" y1="723.3" x2="39.7" y2="723.3" stroke="#a0a0a0" stroke-width="1.1"/>
<text transform="translate(25.9,723.3) rotate(-90)" text-anchor="middle" font-size="11.6" font-weight="bold" >4.5</text>
<line x1="33.9" y1="773.95" x2="39.7" y2="773.95" stroke="#a0a0a0" stroke-width="1.1"/>
<text transform="translate(25.9,774.0) rotate(-90)" text-anchor="middle" font-size="11.6" font-weight="bold" >3.5</text>
<line x1="33.9" y1="824.6" x2="39.7" y2="824.6" stroke="#a0a0a0" stroke-width="1.1"/>
<text transform="translate(25.9,824.6) rotate(-90)" text-anchor="middle" font-size="11.6" font-weight="bold" >2.5</text>
<line x1="47.1" y1="822.8000000000001" x2="47.1" y2="826.4" stroke="#555" stroke-width="0.9"/>
<line x1="57.1" y1="822.8000000000001" x2="57.1" y2="826.4" stroke="#555" stroke-width="0.9"/>
<line x1="67.2" y1="822.8000000000001" x2="67.2" y2="826.4" stroke="#555" stroke-width="0.9"/>
<line x1="77.2" y1="822.8000000000001" x2="77.2" y2="826.4" stroke="#555" stroke-width="0.9"/>
<line x1="87.2" y1="822.8000000000001" x2="87.2" y2="826.4" stroke="#555" stroke-width="0.9"/>
<line x1="97.2" y1="822.8000000000001" x2="97.2" y2="826.4" stroke="#555" stroke-width="0.9"/>
<line x1="107.3" y1="822.8000000000001" x2="107.3" y2="826.4" stroke="#555" stroke-width="0.9"/>
<line x1="117.3" y1="822.8000000000001" x2="117.3" y2="826.4" stroke="#555" stroke-width="0.9"/>
<line x1="127.3" y1="822.8000000000001" x2="127.3" y2="826.4" stroke="#555" stroke-width="0.9"/>
<line x1="137.3" y1="822.8000000000001" x2="137.3" y2="826.4" stroke="#555" stroke-width="0.9"/>
<line x1="147.4" y1="822.8000000000001" x2="147.4" y2="826.4" stroke="#555" stroke-width="0.9"/>
<line x1="157.4" y1="822.8000000000001" x2="157.4" y2="826.4" stroke="#555" stroke-width="0.9"/>
<line x1="167.4" y1="822.8000000000001" x2="167.4" y2="826.4" stroke="#555" stroke-width="0.9"/>
<line x1="177.4" y1="822.8000000000001" x2="177.4" y2="826.4" stroke="#555" stroke-width="0.9"/>
<line x1="187.4" y1="822.8000000000001" x2="187.4" y2="826.4" stroke="#555" stroke-width="0.9"/>
<line x1="197.5" y1="822.8000000000001" x2="197.5" y2="826.4" stroke="#555" stroke-width="0.9"/>
<line x1="207.5" y1="822.8000000000001" x2="207.5" y2="826.4" stroke="#555" stroke-width="0.9"/>
<line x1="217.5" y1="822.8000000000001" x2="217.5" y2="826.4" stroke="#555" stroke-width="0.9"/>
<line x1="227.5" y1="822.8000000000001" x2="227.5" y2="826.4" stroke="#555" stroke-width="0.9"/>
<line x1="237.6" y1="822.8000000000001" x2="237.6" y2="826.4" stroke="#555" stroke-width="0.9"/>
<line x1="247.6" y1="822.8000000000001" x2="247.6" y2="826.4" stroke="#555" stroke-width="0.9"/>
<line x1="257.6" y1="822.8000000000001" x2="257.6" y2="826.4" stroke="#555" stroke-width="0.9"/>
<line x1="267.6" y1="822.8000000000001" x2="267.6" y2="826.4" stroke="#555" stroke-width="0.9"/>
<line x1="277.7" y1="822.8000000000001" x2="277.7" y2="826.4" stroke="#555" stroke-width="0.9"/>
<line x1="287.7" y1="822.8000000000001" x2="287.7" y2="826.4" stroke="#555" stroke-width="0.9"/>
<line x1="297.7" y1="822.8000000000001" x2="297.7" y2="826.4" stroke="#555" stroke-width="0.9"/>
<line x1="307.7" y1="822.8000000000001" x2="307.7" y2="826.4" stroke="#555" stroke-width="0.9"/>
<line x1="317.8" y1="822.8000000000001" x2="317.8" y2="826.4" stroke="#555" stroke-width="0.9"/>
<line x1="327.8" y1="822.8000000000001" x2="327.8" y2="826.4" stroke="#555" stroke-width="0.9"/>
<line x1="337.8" y1="822.8000000000001" x2="337.8" y2="826.4" stroke="#555" stroke-width="0.9"/>
<text transform="translate(46.1,827.9) rotate(-90)" text-anchor="end" font-size="11.6" font-weight="bold" >0</text>
<text transform="translate(98.2,827.9) rotate(-90)" text-anchor="end" font-size="11.6" font-weight="bold" >50</text>
<text transform="translate(150.0,827.9) rotate(-90)" text-anchor="end" font-size="11.6" font-weight="bold" >100</text>
<text transform="translate(201.9,827.9) rotate(-90)" text-anchor="end" font-size="11.6" font-weight="bold" >150</text>
<text transform="translate(253.1,827.9) rotate(-90)" text-anchor="end" font-size="11.6" font-weight="bold" >200</text>
<text transform="translate(293.1,827.9) rotate(-90)" text-anchor="end" font-size="11.6" font-weight="bold" >300</text>
<text transform="translate(320.0,827.9) rotate(-90)" text-anchor="end" font-size="11.6" font-weight="bold" >350</text>
<text transform="translate(12.7,762) rotate(-90)" text-anchor="middle" font-size="14.5" font-weight="bold">pH KCl</text>
<path d="M42.1,809.8L52.1,808.4L62.2,810.7L72.2,798.4L82.2,791.7L92.2,789.0L102.3,785.9L112.3,784.3L122.3,785.7L132.3,783.9L142.3,788.3L152.4,790.1L162.4,787.9L172.4,789.9L182.4,791.8L192.5,790.9L202.5,792.5L212.5,794.2L222.5,795.9" fill="none" stroke="#222" stroke-width="0.9" stroke-dasharray="4,2" stroke-linejoin="round"/>
<path d="M42.1,807.5L44.4,811.6L39.8,811.6Z" fill="#000"/>
<path d="M52.1,806.1L54.4,810.2L49.8,810.2Z" fill="#000"/>
<path d="M62.2,808.4L64.5,812.5L59.9,812.5Z" fill="#000"/>
<path d="M72.2,796.1L74.5,800.2L69.9,800.2Z" fill="#000"/>
<path d="M82.2,789.4L84.5,793.5L79.9,793.5Z" fill="#000"/>
<path d="M92.2,786.7L94.5,790.8L89.9,790.8Z" fill="#000"/>
<path d="M102.3,783.6L104.6,787.7L100.0,787.7Z" fill="#000"/>
<path d="M112.3,782.0L114.6,786.1L110.0,786.1Z" fill="#000"/>
<path d="M122.3,783.4L124.6,787.5L120.0,787.5Z" fill="#000"/>
<path d="M132.3,781.6L134.6,785.7L130.0,785.7Z" fill="#000"/>
<path d="M142.3,786.0L144.6,790.1L140.0,790.1Z" fill="#000"/>
<path d="M152.4,787.8L154.7,791.9L150.1,791.9Z" fill="#000"/>
<path d="M162.4,785.6L164.7,789.7L160.1,789.7Z" fill="#000"/>
<path d="M172.4,787.6L174.7,791.7L170.1,791.7Z" fill="#000"/>
<path d="M182.4,789.5L184.7,793.6L180.1,793.6Z" fill="#000"/>
<path d="M192.5,788.6L194.8,792.7L190.2,792.7Z" fill="#000"/>
<path d="M202.5,790.2L204.8,794.3L200.2,794.3Z" fill="#000"/>
<path d="M212.5,791.9L214.8,796.0L210.2,796.0Z" fill="#000"/>
<path d="M222.5,793.6L224.8,797.7L220.2,797.7Z" fill="#000"/>
<path d="M42.1,809.0L52.1,808.0L62.2,810.7L72.2,800.0L82.2,786.0L92.2,778.4L102.3,776.0L112.3,772.8L122.3,757.0L132.3,774.1L142.3,764.9L152.4,751.1L162.4,746.2L172.4,742.6L182.4,740.6L192.5,738.4L202.5,734.7L212.5,736.6L222.5,736.0L232.6,738.0" fill="none" stroke="#222" stroke-width="0.9" stroke-dasharray="2,1.5" stroke-linejoin="round"/>
<path d="M42.1,807.1L44.0,810.5L40.2,810.5Z" fill="#fff" stroke="#000" stroke-width="0.7"/>
<path d="M52.1,806.1L54.0,809.5L50.2,809.5Z" fill="#fff" stroke="#000" stroke-width="0.7"/>
<path d="M62.2,808.8L64.1,812.2L60.3,812.2Z" fill="#fff" stroke="#000" stroke-width="0.7"/>
<path d="M72.2,798.1L74.1,801.5L70.3,801.5Z" fill="#fff" stroke="#000" stroke-width="0.7"/>
<path d="M82.2,784.1L84.1,787.5L80.3,787.5Z" fill="#fff" stroke="#000" stroke-width="0.7"/>
<path d="M92.2,776.5L94.1,779.9L90.3,779.9Z" fill="#fff" stroke="#000" stroke-width="0.7"/>
<path d="M102.3,774.1L104.2,777.5L100.4,777.5Z" fill="#fff" stroke="#000" stroke-width="0.7"/>
<path d="M112.3,770.9L114.2,774.3L110.4,774.3Z" fill="#fff" stroke="#000" stroke-width="0.7"/>
<path d="M122.3,755.1L124.2,758.5L120.4,758.5Z" fill="#fff" stroke="#000" stroke-width="0.7"/>
<path d="M132.3,772.2L134.2,775.6L130.4,775.6Z" fill="#fff" stroke="#000" stroke-width="0.7"/>
<path d="M142.3,763.0L144.2,766.4L140.4,766.4Z" fill="#fff" stroke="#000" stroke-width="0.7"/>
<path d="M152.4,749.2L154.3,752.6L150.5,752.6Z" fill="#fff" stroke="#000" stroke-width="0.7"/>
<path d="M162.4,744.3L164.3,747.7L160.5,747.7Z" fill="#fff" stroke="#000" stroke-width="0.7"/>
<path d="M172.4,740.7L174.3,744.1L170.5,744.1Z" fill="#fff" stroke="#000" stroke-width="0.7"/>
<path d="M182.4,738.7L184.3,742.1L180.5,742.1Z" fill="#fff" stroke="#000" stroke-width="0.7"/>
<path d="M192.5,736.5L194.4,739.9L190.6,739.9Z" fill="#fff" stroke="#000" stroke-width="0.7"/>
<path d="M202.5,732.8L204.4,736.2L200.6,736.2Z" fill="#fff" stroke="#000" stroke-width="0.7"/>
<path d="M212.5,734.7L214.4,738.1L210.6,738.1Z" fill="#fff" stroke="#000" stroke-width="0.7"/>
<path d="M222.5,734.1L224.4,737.5L220.6,737.5Z" fill="#fff" stroke="#000" stroke-width="0.7"/>
<path d="M232.6,736.1L234.5,739.5L230.7,739.5Z" fill="#fff" stroke="#000" stroke-width="0.7"/>
<path d="M42.1,814.1L52.1,810.7L62.2,789.8L72.2,807.4L82.2,799.8L92.2,800.4L102.3,785.9L112.3,777.8L122.3,774.1L132.3,777.8L142.3,754.0L152.4,769.1L162.4,777.4L172.4,772.5L182.4,771.7L192.5,769.5L202.5,770.1L212.5,769.4L222.5,768.1L232.6,766.2L242.6,763.6L252.6,762.6L262.6,764.8L272.6,764.8L282.7,759.9L292.7,754.4" fill="none" stroke="#111" stroke-width="1.1" stroke-dasharray="1.2,1.3" stroke-linejoin="round"/>
<rect x="40.2" y="812.1" width="3.9" height="3.9" fill="#fff" stroke="#000" stroke-width="0.75"/>
<rect x="50.2" y="808.8" width="3.9" height="3.9" fill="#fff" stroke="#000" stroke-width="0.75"/>
<rect x="60.2" y="787.8" width="3.9" height="3.9" fill="#fff" stroke="#000" stroke-width="0.75"/>
<rect x="70.2" y="805.4" width="3.9" height="3.9" fill="#fff" stroke="#000" stroke-width="0.75"/>
<rect x="80.3" y="797.8" width="3.9" height="3.9" fill="#fff" stroke="#000" stroke-width="0.75"/>
<rect x="90.3" y="798.4" width="3.9" height="3.9" fill="#fff" stroke="#000" stroke-width="0.75"/>
<rect x="100.3" y="783.9" width="3.9" height="3.9" fill="#fff" stroke="#000" stroke-width="0.75"/>
<rect x="110.3" y="775.8" width="3.9" height="3.9" fill="#fff" stroke="#000" stroke-width="0.75"/>
<rect x="120.3" y="772.1" width="3.9" height="3.9" fill="#fff" stroke="#000" stroke-width="0.75"/>
<rect x="130.4" y="775.8" width="3.9" height="3.9" fill="#fff" stroke="#000" stroke-width="0.75"/>
<rect x="140.4" y="752.0" width="3.9" height="3.9" fill="#fff" stroke="#000" stroke-width="0.75"/>
<rect x="150.4" y="767.1" width="3.9" height="3.9" fill="#fff" stroke="#000" stroke-width="0.75"/>
<rect x="160.4" y="775.4" width="3.9" height="3.9" fill="#fff" stroke="#000" stroke-width="0.75"/>
<rect x="170.5" y="770.5" width="3.9" height="3.9" fill="#fff" stroke="#000" stroke-width="0.75"/>
<rect x="180.5" y="769.8" width="3.9" height="3.9" fill="#fff" stroke="#000" stroke-width="0.75"/>
<rect x="190.5" y="767.5" width="3.9" height="3.9" fill="#fff" stroke="#000" stroke-width="0.75"/>
<rect x="200.5" y="768.1" width="3.9" height="3.9" fill="#fff" stroke="#000" stroke-width="0.75"/>
<rect x="210.6" y="767.4" width="3.9" height="3.9" fill="#fff" stroke="#000" stroke-width="0.75"/>
<rect x="220.6" y="766.1" width="3.9" height="3.9" fill="#fff" stroke="#000" stroke-width="0.75"/>
<rect x="230.6" y="764.2" width="3.9" height="3.9" fill="#fff" stroke="#000" stroke-width="0.75"/>
<rect x="240.6" y="761.6" width="3.9" height="3.9" fill="#fff" stroke="#000" stroke-width="0.75"/>
<rect x="250.7" y="760.6" width="3.9" height="3.9" fill="#fff" stroke="#000" stroke-width="0.75"/>
<rect x="260.7" y="762.8" width="3.9" height="3.9" fill="#fff" stroke="#000" stroke-width="0.75"/>
<rect x="270.7" y="762.8" width="3.9" height="3.9" fill="#fff" stroke="#000" stroke-width="0.75"/>
<rect x="280.7" y="757.9" width="3.9" height="3.9" fill="#fff" stroke="#000" stroke-width="0.75"/>
<rect x="290.7" y="752.4" width="3.9" height="3.9" fill="#fff" stroke="#000" stroke-width="0.75"/>
<path d="M42.1,774.1L52.1,814.1L62.2,820.0L72.2,811.7L82.2,803.1L92.2,789.8L102.3,764.9L112.3,755.3L122.3,743.6L132.3,774.1L142.3,773.4L152.4,777.4L162.4,775.4L172.4,754.1L182.4,736.0L192.5,734.4L202.5,738.4L212.5,739.3L222.5,744.2L232.6,743.5L242.6,743.5L252.6,738.4L262.6,738.4L272.6,736.0L282.7,733.5L292.7,728.2L302.7,728.2L312.7,723.1L322.8,723.1L332.8,720.7" fill="none" stroke="#222" stroke-width="0.9" stroke-linejoin="round"/>
<rect x="40.1" y="772.1" width="4.0" height="4.0" fill="#000"/>
<rect x="50.1" y="812.1" width="4.0" height="4.0" fill="#000"/>
<rect x="60.2" y="818.0" width="4.0" height="4.0" fill="#000"/>
<rect x="70.2" y="809.7" width="4.0" height="4.0" fill="#000"/>
<rect x="80.2" y="801.1" width="4.0" height="4.0" fill="#000"/>
<rect x="90.2" y="787.8" width="4.0" height="4.0" fill="#000"/>
<rect x="100.3" y="762.9" width="4.0" height="4.0" fill="#000"/>
<rect x="110.3" y="753.3" width="4.0" height="4.0" fill="#000"/>
<rect x="120.3" y="741.6" width="4.0" height="4.0" fill="#000"/>
<rect x="130.3" y="772.1" width="4.0" height="4.0" fill="#000"/>
<rect x="140.3" y="771.4" width="4.0" height="4.0" fill="#000"/>
<rect x="150.4" y="775.4" width="4.0" height="4.0" fill="#000"/>
<rect x="160.4" y="773.4" width="4.0" height="4.0" fill="#000"/>
<rect x="170.4" y="752.1" width="4.0" height="4.0" fill="#000"/>
<rect x="180.4" y="734.0" width="4.0" height="4.0" fill="#000"/>
<rect x="190.5" y="732.4" width="4.0" height="4.0" fill="#000"/>
<rect x="200.5" y="736.4" width="4.0" height="4.0" fill="#000"/>
<rect x="210.5" y="737.3" width="4.0" height="4.0" fill="#000"/>
<rect x="220.5" y="742.2" width="4.0" height="4.0" fill="#000"/>
<rect x="230.6" y="741.5" width="4.0" height="4.0" fill="#000"/>
<rect x="240.6" y="741.5" width="4.0" height="4.0" fill="#000"/>
<rect x="250.6" y="736.4" width="4.0" height="4.0" fill="#000"/>
<rect x="260.6" y="736.4" width="4.0" height="4.0" fill="#000"/>
<rect x="270.6" y="734.0" width="4.0" height="4.0" fill="#000"/>
<rect x="280.7" y="731.5" width="4.0" height="4.0" fill="#000"/>
<rect x="290.7" y="726.2" width="4.0" height="4.0" fill="#000"/>
<rect x="300.7" y="726.2" width="4.0" height="4.0" fill="#000"/>
<rect x="310.7" y="721.1" width="4.0" height="4.0" fill="#000"/>
<rect x="320.8" y="721.1" width="4.0" height="4.0" fill="#000"/>
<rect x="330.8" y="718.7" width="4.0" height="4.0" fill="#000"/>
<path d="M42.1,803.1L52.1,805.3L62.2,731.2L72.2,793.6L82.2,730.2L92.2,733.7L102.3,733.4L112.3,733.4L122.3,727.8L132.3,729.2L142.3,731.4" fill="none" stroke="#3c3c3c" stroke-width="2.2" stroke-linejoin="round"/>
<path d="M42.1,803.1L52.1,805.3L62.2,731.2L72.2,793.6L82.2,730.2L92.2,733.7L102.3,733.4L112.3,733.4L122.3,727.8L132.3,729.2L142.3,731.4" fill="none" stroke="#7a7a7a" stroke-width="0.8" stroke-linejoin="round"/>
<circle cx="42.1" cy="803.1" r="1.9" fill="#000"/>
<circle cx="52.1" cy="805.3" r="1.9" fill="#000"/>
<circle cx="62.2" cy="731.2" r="1.9" fill="#000"/>
<circle cx="72.2" cy="793.6" r="1.9" fill="#000"/>
<circle cx="82.2" cy="730.2" r="1.9" fill="#000"/>
<circle cx="92.2" cy="733.7" r="1.9" fill="#000"/>
<circle cx="102.3" cy="733.4" r="1.9" fill="#000"/>
<circle cx="112.3" cy="733.4" r="1.9" fill="#000"/>
<circle cx="122.3" cy="727.8" r="1.9" fill="#000"/>
<circle cx="132.3" cy="729.2" r="1.9" fill="#000"/>
<circle cx="142.3" cy="731.4" r="1.9" fill="#000"/>
<path d="M42.1,783.2L52.1,758.5L62.2,733.3L72.2,733.5L82.2,733.3L92.2,732.3L102.3,722.8L112.3,715.0" fill="none" stroke="#111" stroke-width="1.7" stroke-dasharray="6,3.2" stroke-linejoin="round"/>
<circle cx="42.1" cy="783.2" r="2.1" fill="#fff" stroke="#000" stroke-width="0.8"/>
<circle cx="52.1" cy="758.5" r="2.1" fill="#fff" stroke="#000" stroke-width="0.8"/>
<circle cx="62.2" cy="733.3" r="2.1" fill="#fff" stroke="#000" stroke-width="0.8"/>
<circle cx="72.2" cy="733.5" r="2.1" fill="#fff" stroke="#000" stroke-width="0.8"/>
<circle cx="82.2" cy="733.3" r="2.1" fill="#fff" stroke="#000" stroke-width="0.8"/>
<circle cx="92.2" cy="732.3" r="2.1" fill="#fff" stroke="#000" stroke-width="0.8"/>
<circle cx="102.3" cy="722.8" r="2.1" fill="#fff" stroke="#000" stroke-width="0.8"/>
<circle cx="112.3" cy="715.0" r="2.1" fill="#fff" stroke="#000" stroke-width="0.8"/>
<line x1="37.1" y1="871.3" x2="37.1" y2="998.3" stroke="#a0a0a0" stroke-width="1.4"/>
<line x1="34.1" y1="998.3" x2="335.4" y2="998.3" stroke="#808080" stroke-width="1.2"/>
<line x1="33.9" y1="871.3" x2="39.7" y2="871.3" stroke="#a0a0a0" stroke-width="1.1"/>
<text transform="translate(25.9,871.3) rotate(-90)" text-anchor="middle" font-size="11.6" font-weight="bold" >6</text>
<line x1="33.9" y1="913.6333333333333" x2="39.7" y2="913.6333333333333" stroke="#a0a0a0" stroke-width="1.1"/>
<text transform="translate(25.9,913.6) rotate(-90)" text-anchor="middle" font-size="11.6" font-weight="bold" >5</text>
<line x1="33.9" y1="955.9666666666666" x2="39.7" y2="955.9666666666666" stroke="#a0a0a0" stroke-width="1.1"/>
<text transform="translate(25.9,956.0) rotate(-90)" text-anchor="middle" font-size="11.6" font-weight="bold" >4</text>
<line x1="33.9" y1="998.3" x2="39.7" y2="998.3" stroke="#a0a0a0" stroke-width="1.1"/>
<text transform="translate(25.9,998.3) rotate(-90)" text-anchor="middle" font-size="11.6" font-weight="bold" >3</text>
<line x1="47.0" y1="996.5" x2="47.0" y2="1000.0999999999999" stroke="#555" stroke-width="0.9"/>
<line x1="57.0" y1="996.5" x2="57.0" y2="1000.0999999999999" stroke="#555" stroke-width="0.9"/>
<line x1="66.9" y1="996.5" x2="66.9" y2="1000.0999999999999" stroke="#555" stroke-width="0.9"/>
<line x1="76.9" y1="996.5" x2="76.9" y2="1000.0999999999999" stroke="#555" stroke-width="0.9"/>
<line x1="86.8" y1="996.5" x2="86.8" y2="1000.0999999999999" stroke="#555" stroke-width="0.9"/>
<line x1="96.8" y1="996.5" x2="96.8" y2="1000.0999999999999" stroke="#555" stroke-width="0.9"/>
<line x1="106.7" y1="996.5" x2="106.7" y2="1000.0999999999999" stroke="#555" stroke-width="0.9"/>
<line x1="116.6" y1="996.5" x2="116.6" y2="1000.0999999999999" stroke="#555" stroke-width="0.9"/>
<line x1="126.6" y1="996.5" x2="126.6" y2="1000.0999999999999" stroke="#555" stroke-width="0.9"/>
<line x1="136.5" y1="996.5" x2="136.5" y2="1000.0999999999999" stroke="#555" stroke-width="0.9"/>
<line x1="146.5" y1="996.5" x2="146.5" y2="1000.0999999999999" stroke="#555" stroke-width="0.9"/>
<line x1="156.4" y1="996.5" x2="156.4" y2="1000.0999999999999" stroke="#555" stroke-width="0.9"/>
<line x1="166.4" y1="996.5" x2="166.4" y2="1000.0999999999999" stroke="#555" stroke-width="0.9"/>
<line x1="176.3" y1="996.5" x2="176.3" y2="1000.0999999999999" stroke="#555" stroke-width="0.9"/>
<line x1="186.2" y1="996.5" x2="186.2" y2="1000.0999999999999" stroke="#555" stroke-width="0.9"/>
<line x1="196.2" y1="996.5" x2="196.2" y2="1000.0999999999999" stroke="#555" stroke-width="0.9"/>
<line x1="206.1" y1="996.5" x2="206.1" y2="1000.0999999999999" stroke="#555" stroke-width="0.9"/>
<line x1="216.1" y1="996.5" x2="216.1" y2="1000.0999999999999" stroke="#555" stroke-width="0.9"/>
<line x1="226.0" y1="996.5" x2="226.0" y2="1000.0999999999999" stroke="#555" stroke-width="0.9"/>
<line x1="236.0" y1="996.5" x2="236.0" y2="1000.0999999999999" stroke="#555" stroke-width="0.9"/>
<line x1="245.9" y1="996.5" x2="245.9" y2="1000.0999999999999" stroke="#555" stroke-width="0.9"/>
<line x1="255.9" y1="996.5" x2="255.9" y2="1000.0999999999999" stroke="#555" stroke-width="0.9"/>
<line x1="265.8" y1="996.5" x2="265.8" y2="1000.0999999999999" stroke="#555" stroke-width="0.9"/>
<line x1="275.7" y1="996.5" x2="275.7" y2="1000.0999999999999" stroke="#555" stroke-width="0.9"/>
<line x1="285.7" y1="996.5" x2="285.7" y2="1000.0999999999999" stroke="#555" stroke-width="0.9"/>
<line x1="295.6" y1="996.5" x2="295.6" y2="1000.0999999999999" stroke="#555" stroke-width="0.9"/>
<line x1="305.6" y1="996.5" x2="305.6" y2="1000.0999999999999" stroke="#555" stroke-width="0.9"/>
<line x1="315.5" y1="996.5" x2="315.5" y2="1000.0999999999999" stroke="#555" stroke-width="0.9"/>
<line x1="325.5" y1="996.5" x2="325.5" y2="1000.0999999999999" stroke="#555" stroke-width="0.9"/>
<line x1="335.4" y1="996.5" x2="335.4" y2="1000.0999999999999" stroke="#555" stroke-width="0.9"/>
<text transform="translate(46.1,1001.6) rotate(-90)" text-anchor="end" font-size="11.6" font-weight="bold" >0</text>
<text transform="translate(98.2,1001.6) rotate(-90)" text-anchor="end" font-size="11.6" font-weight="bold" >50</text>
<text transform="translate(150.0,1001.6) rotate(-90)" text-anchor="end" font-size="11.6" font-weight="bold" >100</text>
<text transform="translate(201.9,1001.6) rotate(-90)" text-anchor="end" font-size="11.6" font-weight="bold" >150</text>
<text transform="translate(253.1,1001.6) rotate(-90)" text-anchor="end" font-size="11.6" font-weight="bold" >200</text>
<text transform="translate(293.1,1001.6) rotate(-90)" text-anchor="end" font-size="11.6" font-weight="bold" >300</text>
<text transform="translate(320.0,1001.6) rotate(-90)" text-anchor="end" font-size="11.6" font-weight="bold" >350</text>
<text transform="translate(12.7,938) rotate(-90)" text-anchor="middle" font-size="14.5" font-weight="bold">pH H<tspan font-size="6.5" dy="2.2">2</tspan><tspan dy="-2.2">O</tspan></text>
<path d="M42.1,966.0L52.0,973.7L62.0,970.4L71.9,962.5L81.8,956.6L91.8,954.0L101.7,952.7L111.7,947.7L121.6,949.8L131.6,949.0L141.5,951.3L151.4,952.9L161.4,954.6L171.3,952.9L181.3,954.6L191.2,956.9L201.2,956.3L211.1,959.8L221.1,960.1" fill="none" stroke="#222" stroke-width="0.9" stroke-dasharray="4,2" stroke-linejoin="round"/>
<path d="M42.1,963.7L44.4,967.8L39.8,967.8Z" fill="#000"/>
<path d="M52.0,971.4L54.3,975.5L49.7,975.5Z" fill="#000"/>
<path d="M62.0,968.1L64.3,972.2L59.7,972.2Z" fill="#000"/>
<path d="M71.9,960.2L74.2,964.3L69.6,964.3Z" fill="#000"/>
<path d="M81.8,954.3L84.1,958.4L79.5,958.4Z" fill="#000"/>
<path d="M91.8,951.7L94.1,955.8L89.5,955.8Z" fill="#000"/>
<path d="M101.7,950.4L104.0,954.5L99.4,954.5Z" fill="#000"/>
<path d="M111.7,945.4L114.0,949.5L109.4,949.5Z" fill="#000"/>
<path d="M121.6,947.5L123.9,951.6L119.3,951.6Z" fill="#000"/>
<path d="M131.6,946.7L133.9,950.8L129.3,950.8Z" fill="#000"/>
<path d="M141.5,949.0L143.8,953.1L139.2,953.1Z" fill="#000"/>
<path d="M151.4,950.6L153.7,954.7L149.1,954.7Z" fill="#000"/>
<path d="M161.4,952.3L163.7,956.4L159.1,956.4Z" fill="#000"/>
<path d="M171.3,950.6L173.6,954.7L169.0,954.7Z" fill="#000"/>
<path d="M181.3,952.3L183.6,956.4L179.0,956.4Z" fill="#000"/>
<path d="M191.2,954.6L193.5,958.7L188.9,958.7Z" fill="#000"/>
<path d="M201.2,954.0L203.5,958.1L198.9,958.1Z" fill="#000"/>
<path d="M211.1,957.5L213.4,961.6L208.8,961.6Z" fill="#000"/>
<path d="M221.1,957.8L223.4,961.9L218.8,961.9Z" fill="#000"/>
<path d="M42.1,966.5L52.0,971.7L62.0,975.7L71.9,967.1L81.8,948.7L91.8,940.2L101.7,938.5L111.7,936.9L121.6,929.7L131.6,939.3L141.5,932.3L151.4,922.2L161.4,920.9L171.3,918.8L181.3,914.3L191.2,912.6L201.2,906.0L211.1,907.4L221.1,911.0L231.0,911.7" fill="none" stroke="#222" stroke-width="0.9" stroke-dasharray="2,1.5" stroke-linejoin="round"/>
<path d="M42.1,964.6L44.0,968.0L40.2,968.0Z" fill="#fff" stroke="#000" stroke-width="0.7"/>
<path d="M52.0,969.8L53.9,973.2L50.1,973.2Z" fill="#fff" stroke="#000" stroke-width="0.7"/>
<path d="M62.0,973.8L63.9,977.2L60.1,977.2Z" fill="#fff" stroke="#000" stroke-width="0.7"/>
<path d="M71.9,965.2L73.8,968.6L70.0,968.6Z" fill="#fff" stroke="#000" stroke-width="0.7"/>
<path d="M81.8,946.8L83.7,950.2L79.9,950.2Z" fill="#fff" stroke="#000" stroke-width="0.7"/>
<path d="M91.8,938.3L93.7,941.7L89.9,941.7Z" fill="#fff" stroke="#000" stroke-width="0.7"/>
<path d="M101.7,936.6L103.6,940.0L99.8,940.0Z" fill="#fff" stroke="#000" stroke-width="0.7"/>
<path d="M111.7,935.0L113.6,938.4L109.8,938.4Z" fill="#fff" stroke="#000" stroke-width="0.7"/>
<path d="M121.6,927.8L123.5,931.2L119.7,931.2Z" fill="#fff" stroke="#000" stroke-width="0.7"/>
<path d="M131.6,937.4L133.5,940.8L129.7,940.8Z" fill="#fff" stroke="#000" stroke-width="0.7"/>
<path d="M141.5,930.4L143.4,933.8L139.6,933.8Z" fill="#fff" stroke="#000" stroke-width="0.7"/>
<path d="M151.4,920.3L153.3,923.7L149.5,923.7Z" fill="#fff" stroke="#000" stroke-width="0.7"/>
<path d="M161.4,919.0L163.3,922.4L159.5,922.4Z" fill="#fff" stroke="#000" stroke-width="0.7"/>
<path d="M171.3,916.9L173.2,920.3L169.4,920.3Z" fill="#fff" stroke="#000" stroke-width="0.7"/>
<path d="M181.3,912.4L183.2,915.8L179.4,915.8Z" fill="#fff" stroke="#000" stroke-width="0.7"/>
<path d="M191.2,910.7L193.1,914.1L189.3,914.1Z" fill="#fff" stroke="#000" stroke-width="0.7"/>
<path d="M201.2,904.1L203.1,907.5L199.3,907.5Z" fill="#fff" stroke="#000" stroke-width="0.7"/>
<path d="M211.1,905.5L213.0,908.9L209.2,908.9Z" fill="#fff" stroke="#000" stroke-width="0.7"/>
<path d="M221.1,909.1L223.0,912.5L219.2,912.5Z" fill="#fff" stroke="#000" stroke-width="0.7"/>
<path d="M231.0,909.8L232.9,913.2L229.1,913.2Z" fill="#fff" stroke="#000" stroke-width="0.7"/>
<path d="M42.1,981.8L52.0,979.6L62.0,954.6L71.9,981.6L81.8,978.3L91.8,977.4L101.7,959.9L111.7,939.5L121.6,935.3L131.6,933.0L141.5,933.0L151.4,931.0L161.4,926.6L171.3,931.4L181.3,938.0L191.2,931.0L201.2,934.5L211.1,932.6L221.1,933.9L231.0,929.0L240.9,930.5L250.9,933.5L260.8,931.1L270.8,931.9L280.7,927.8L290.7,920.9" fill="none" stroke="#111" stroke-width="1.1" stroke-dasharray="1.2,1.3" stroke-linejoin="round"/>
<rect x="40.1" y="979.8" width="3.9" height="3.9" fill="#fff" stroke="#000" stroke-width="0.75"/>
<rect x="50.1" y="977.6" width="3.9" height="3.9" fill="#fff" stroke="#000" stroke-width="0.75"/>
<rect x="60.0" y="952.6" width="3.9" height="3.9" fill="#fff" stroke="#000" stroke-width="0.75"/>
<rect x="70.0" y="979.6" width="3.9" height="3.9" fill="#fff" stroke="#000" stroke-width="0.75"/>
<rect x="79.9" y="976.3" width="3.9" height="3.9" fill="#fff" stroke="#000" stroke-width="0.75"/>
<rect x="89.8" y="975.4" width="3.9" height="3.9" fill="#fff" stroke="#000" stroke-width="0.75"/>
<rect x="99.8" y="957.9" width="3.9" height="3.9" fill="#fff" stroke="#000" stroke-width="0.75"/>
<rect x="109.7" y="937.5" width="3.9" height="3.9" fill="#fff" stroke="#000" stroke-width="0.75"/>
<rect x="119.7" y="933.3" width="3.9" height="3.9" fill="#fff" stroke="#000" stroke-width="0.75"/>
<rect x="129.6" y="931.0" width="3.9" height="3.9" fill="#fff" stroke="#000" stroke-width="0.75"/>
<rect x="139.6" y="931.0" width="3.9" height="3.9" fill="#fff" stroke="#000" stroke-width="0.75"/>
<rect x="149.5" y="929.0" width="3.9" height="3.9" fill="#fff" stroke="#000" stroke-width="0.75"/>
<rect x="159.4" y="924.6" width="3.9" height="3.9" fill="#fff" stroke="#000" stroke-width="0.75"/>
<rect x="169.4" y="929.4" width="3.9" height="3.9" fill="#fff" stroke="#000" stroke-width="0.75"/>
<rect x="179.3" y="936.0" width="3.9" height="3.9" fill="#fff" stroke="#000" stroke-width="0.75"/>
<rect x="189.3" y="929.0" width="3.9" height="3.9" fill="#fff" stroke="#000" stroke-width="0.75"/>
<rect x="199.2" y="932.5" width="3.9" height="3.9" fill="#fff" stroke="#000" stroke-width="0.75"/>
<rect x="209.2" y="930.6" width="3.9" height="3.9" fill="#fff" stroke="#000" stroke-width="0.75"/>
<rect x="219.1" y="931.9" width="3.9" height="3.9" fill="#fff" stroke="#000" stroke-width="0.75"/>
<rect x="229.0" y="927.0" width="3.9" height="3.9" fill="#fff" stroke="#000" stroke-width="0.75"/>
<rect x="239.0" y="928.5" width="3.9" height="3.9" fill="#fff" stroke="#000" stroke-width="0.75"/>
<rect x="248.9" y="931.5" width="3.9" height="3.9" fill="#fff" stroke="#000" stroke-width="0.75"/>
<rect x="258.9" y="929.1" width="3.9" height="3.9" fill="#fff" stroke="#000" stroke-width="0.75"/>
<rect x="268.8" y="929.9" width="3.9" height="3.9" fill="#fff" stroke="#000" stroke-width="0.75"/>
<rect x="278.8" y="925.8" width="3.9" height="3.9" fill="#fff" stroke="#000" stroke-width="0.75"/>
<rect x="288.7" y="918.9" width="3.9" height="3.9" fill="#fff" stroke="#000" stroke-width="0.75"/>
<path d="M42.1,983.9L52.0,976.3L62.0,985.2L71.9,976.3L81.8,973.0L91.8,956.9L101.7,972.4L111.7,922.2L121.6,911.7L131.6,944.8L141.5,940.6L151.4,944.5L161.4,938.0L171.3,917.4L181.3,896.2L191.2,899.0L201.2,901.2L211.1,906.6L221.1,905.3L231.0,907.4L240.9,901.2L250.9,901.2L260.8,901.2L270.8,902.5L280.7,897.2L290.7,897.2L300.6,892.7L310.5,892.7L320.5,892.7L330.4,887.5" fill="none" stroke="#222" stroke-width="0.9" stroke-linejoin="round"/>
<rect x="40.1" y="981.9" width="4.0" height="4.0" fill="#000"/>
<rect x="50.0" y="974.3" width="4.0" height="4.0" fill="#000"/>
<rect x="60.0" y="983.2" width="4.0" height="4.0" fill="#000"/>
<rect x="69.9" y="974.3" width="4.0" height="4.0" fill="#000"/>
<rect x="79.8" y="971.0" width="4.0" height="4.0" fill="#000"/>
<rect x="89.8" y="954.9" width="4.0" height="4.0" fill="#000"/>
<rect x="99.7" y="970.4" width="4.0" height="4.0" fill="#000"/>
<rect x="109.7" y="920.2" width="4.0" height="4.0" fill="#000"/>
<rect x="119.6" y="909.7" width="4.0" height="4.0" fill="#000"/>
<rect x="129.6" y="942.8" width="4.0" height="4.0" fill="#000"/>
<rect x="139.5" y="938.6" width="4.0" height="4.0" fill="#000"/>
<rect x="149.4" y="942.5" width="4.0" height="4.0" fill="#000"/>
<rect x="159.4" y="936.0" width="4.0" height="4.0" fill="#000"/>
<rect x="169.3" y="915.4" width="4.0" height="4.0" fill="#000"/>
<rect x="179.3" y="894.2" width="4.0" height="4.0" fill="#000"/>
<rect x="189.2" y="897.0" width="4.0" height="4.0" fill="#000"/>
<rect x="199.2" y="899.2" width="4.0" height="4.0" fill="#000"/>
<rect x="209.1" y="904.6" width="4.0" height="4.0" fill="#000"/>
<rect x="219.1" y="903.3" width="4.0" height="4.0" fill="#000"/>
<rect x="229.0" y="905.4" width="4.0" height="4.0" fill="#000"/>
<rect x="238.9" y="899.2" width="4.0" height="4.0" fill="#000"/>
<rect x="248.9" y="899.2" width="4.0" height="4.0" fill="#000"/>
<rect x="258.8" y="899.2" width="4.0" height="4.0" fill="#000"/>
<rect x="268.8" y="900.5" width="4.0" height="4.0" fill="#000"/>
<rect x="278.7" y="895.2" width="4.0" height="4.0" fill="#000"/>
<rect x="288.7" y="895.2" width="4.0" height="4.0" fill="#000"/>
<rect x="298.6" y="890.7" width="4.0" height="4.0" fill="#000"/>
<rect x="308.5" y="890.7" width="4.0" height="4.0" fill="#000"/>
<rect x="318.5" y="890.7" width="4.0" height="4.0" fill="#000"/>
<rect x="328.4" y="885.5" width="4.0" height="4.0" fill="#000"/>
<path d="M42.1,955.9L52.0,969.5L62.0,900.1L71.9,951.1L81.8,900.8L91.8,900.4L101.7,897.5L111.7,894.2L121.6,883.7L131.6,885.0L141.5,886.0" fill="none" stroke="#3c3c3c" stroke-width="2.2" stroke-linejoin="round"/>
<path d="M42.1,955.9L52.0,969.5L62.0,900.1L71.9,951.1L81.8,900.8L91.8,900.4L101.7,897.5L111.7,894.2L121.6,883.7L131.6,885.0L141.5,886.0" fill="none" stroke="#7a7a7a" stroke-width="0.8" stroke-linejoin="round"/>
<circle cx="42.1" cy="955.9" r="1.9" fill="#000"/>
<circle cx="52.0" cy="969.5" r="1.9" fill="#000"/>
<circle cx="62.0" cy="900.1" r="1.9" fill="#000"/>
<circle cx="71.9" cy="951.1" r="1.9" fill="#000"/>
<circle cx="81.8" cy="900.8" r="1.9" fill="#000"/>
<circle cx="91.8" cy="900.4" r="1.9" fill="#000"/>
<circle cx="101.7" cy="897.5" r="1.9" fill="#000"/>
<circle cx="111.7" cy="894.2" r="1.9" fill="#000"/>
<circle cx="121.6" cy="883.7" r="1.9" fill="#000"/>
<circle cx="131.6" cy="885.0" r="1.9" fill="#000"/>
<circle cx="141.5" cy="886.0" r="1.9" fill="#000"/>
<path d="M42.1,952.0L52.0,934.9L62.0,919.2L71.9,917.2L81.8,915.2L91.8,910.9L101.7,902.5L111.7,894.2" fill="none" stroke="#111" stroke-width="1.7" stroke-dasharray="6,3.2" stroke-linejoin="round"/>
<circle cx="42.1" cy="952.0" r="2.1" fill="#fff" stroke="#000" stroke-width="0.8"/>
<circle cx="52.0" cy="934.9" r="2.1" fill="#fff" stroke="#000" stroke-width="0.8"/>
<circle cx="62.0" cy="919.2" r="2.1" fill="#fff" stroke="#000" stroke-width="0.8"/>
<circle cx="71.9" cy="917.2" r="2.1" fill="#fff" stroke="#000" stroke-width="0.8"/>
<circle cx="81.8" cy="915.2" r="2.1" fill="#fff" stroke="#000" stroke-width="0.8"/>
<circle cx="91.8" cy="910.9" r="2.1" fill="#fff" stroke="#000" stroke-width="0.8"/>
<circle cx="101.7" cy="902.5" r="2.1" fill="#fff" stroke="#000" stroke-width="0.8"/>
<circle cx="111.7" cy="894.2" r="2.1" fill="#fff" stroke="#000" stroke-width="0.8"/>
<line x1="37.1" y1="1045.3" x2="37.1" y2="1171.5" stroke="#a0a0a0" stroke-width="1.4"/>
<line x1="34.1" y1="1171.5" x2="331.9" y2="1171.5" stroke="#808080" stroke-width="1.2"/>
<line x1="33.9" y1="1045.3" x2="39.7" y2="1045.3" stroke="#a0a0a0" stroke-width="1.1"/>
<text transform="translate(25.9,1045.3) rotate(-90)" text-anchor="middle" font-size="11.6" font-weight="bold" >100</text>
<line x1="33.9" y1="1076.975" x2="39.7" y2="1076.975" stroke="#a0a0a0" stroke-width="1.1"/>
<text transform="translate(25.9,1077.0) rotate(-90)" text-anchor="middle" font-size="11.6" font-weight="bold" >95</text>
<line x1="33.9" y1="1108.65" x2="39.7" y2="1108.65" stroke="#a0a0a0" stroke-width="1.1"/>
<text transform="translate(25.9,1108.7) rotate(-90)" text-anchor="middle" font-size="11.6" font-weight="bold" >90</text>
<line x1="33.9" y1="1140.325" x2="39.7" y2="1140.325" stroke="#a0a0a0" stroke-width="1.1"/>
<text transform="translate(25.9,1140.3) rotate(-90)" text-anchor="middle" font-size="11.6" font-weight="bold" >85</text>
<line x1="33.9" y1="1172.0" x2="39.7" y2="1172.0" stroke="#a0a0a0" stroke-width="1.1"/>
<text transform="translate(25.9,1172.0) rotate(-90)" text-anchor="middle" font-size="11.6" font-weight="bold" >80</text>
<line x1="46.9" y1="1169.7" x2="46.9" y2="1173.3" stroke="#555" stroke-width="0.9"/>
<line x1="56.8" y1="1169.7" x2="56.8" y2="1173.3" stroke="#555" stroke-width="0.9"/>
<line x1="66.6" y1="1169.7" x2="66.6" y2="1173.3" stroke="#555" stroke-width="0.9"/>
<line x1="76.4" y1="1169.7" x2="76.4" y2="1173.3" stroke="#555" stroke-width="0.9"/>
<line x1="86.2" y1="1169.7" x2="86.2" y2="1173.3" stroke="#555" stroke-width="0.9"/>
<line x1="96.1" y1="1169.7" x2="96.1" y2="1173.3" stroke="#555" stroke-width="0.9"/>
<line x1="105.9" y1="1169.7" x2="105.9" y2="1173.3" stroke="#555" stroke-width="0.9"/>
<line x1="115.7" y1="1169.7" x2="115.7" y2="1173.3" stroke="#555" stroke-width="0.9"/>
<line x1="125.5" y1="1169.7" x2="125.5" y2="1173.3" stroke="#555" stroke-width="0.9"/>
<line x1="135.4" y1="1169.7" x2="135.4" y2="1173.3" stroke="#555" stroke-width="0.9"/>
<line x1="145.2" y1="1169.7" x2="145.2" y2="1173.3" stroke="#555" stroke-width="0.9"/>
<line x1="155.0" y1="1169.7" x2="155.0" y2="1173.3" stroke="#555" stroke-width="0.9"/>
<line x1="164.8" y1="1169.7" x2="164.8" y2="1173.3" stroke="#555" stroke-width="0.9"/>
<line x1="174.7" y1="1169.7" x2="174.7" y2="1173.3" stroke="#555" stroke-width="0.9"/>
<line x1="184.5" y1="1169.7" x2="184.5" y2="1173.3" stroke="#555" stroke-width="0.9"/>
<line x1="194.3" y1="1169.7" x2="194.3" y2="1173.3" stroke="#555" stroke-width="0.9"/>
<line x1="204.2" y1="1169.7" x2="204.2" y2="1173.3" stroke="#555" stroke-width="0.9"/>
<line x1="214.0" y1="1169.7" x2="214.0" y2="1173.3" stroke="#555" stroke-width="0.9"/>
<line x1="223.8" y1="1169.7" x2="223.8" y2="1173.3" stroke="#555" stroke-width="0.9"/>
<line x1="233.6" y1="1169.7" x2="233.6" y2="1173.3" stroke="#555" stroke-width="0.9"/>
<line x1="243.5" y1="1169.7" x2="243.5" y2="1173.3" stroke="#555" stroke-width="0.9"/>
<line x1="253.3" y1="1169.7" x2="253.3" y2="1173.3" stroke="#555" stroke-width="0.9"/>
<line x1="263.1" y1="1169.7" x2="263.1" y2="1173.3" stroke="#555" stroke-width="0.9"/>
<line x1="272.9" y1="1169.7" x2="272.9" y2="1173.3" stroke="#555" stroke-width="0.9"/>
<line x1="282.8" y1="1169.7" x2="282.8" y2="1173.3" stroke="#555" stroke-width="0.9"/>
<line x1="292.6" y1="1169.7" x2="292.6" y2="1173.3" stroke="#555" stroke-width="0.9"/>
<line x1="302.4" y1="1169.7" x2="302.4" y2="1173.3" stroke="#555" stroke-width="0.9"/>
<line x1="312.2" y1="1169.7" x2="312.2" y2="1173.3" stroke="#555" stroke-width="0.9"/>
<line x1="322.1" y1="1169.7" x2="322.1" y2="1173.3" stroke="#555" stroke-width="0.9"/>
<text transform="translate(46.1,1174.8) rotate(-90)" text-anchor="end" font-size="11.6" font-weight="bold" >0</text>
<text transform="translate(98.2,1174.8) rotate(-90)" text-anchor="end" font-size="11.6" font-weight="bold" >50</text>
<text transform="translate(150.0,1174.8) rotate(-90)" text-anchor="end" font-size="11.6" font-weight="bold" >100</text>
<text transform="translate(201.9,1174.8) rotate(-90)" text-anchor="end" font-size="11.6" font-weight="bold" >150</text>
<text transform="translate(253.1,1174.8) rotate(-90)" text-anchor="end" font-size="11.6" font-weight="bold" >200</text>
<text transform="translate(293.1,1174.8) rotate(-90)" text-anchor="end" font-size="11.6" font-weight="bold" >300</text>
<text transform="translate(320.0,1174.8) rotate(-90)" text-anchor="end" font-size="11.6" font-weight="bold" >350</text>
<text transform="translate(12.7,1103) rotate(-90)" text-anchor="middle" font-size="14.5" font-weight="bold">LOI, %</text>
<path d="M42.0,1068.0L51.8,1066.0L61.7,1064.0L71.5,1066.0L81.3,1067.0L91.1,1067.0L101.0,1069.0L110.8,1070.0L120.6,1070.0L130.5,1070.0L140.3,1071.0L150.1,1071.8L159.9,1073.5L169.8,1076.3L179.6,1071.1L189.4,1078.8L199.2,1071.8L209.1,1071.8L218.9,1078.8" fill="none" stroke="#222" stroke-width="0.9" stroke-dasharray="4,2" stroke-linejoin="round"/>
<path d="M42.0,1065.7L44.3,1069.8L39.7,1069.8Z" fill="#000"/>
<path d="M51.8,1063.7L54.1,1067.8L49.5,1067.8Z" fill="#000"/>
<path d="M61.7,1061.7L64.0,1065.8L59.4,1065.8Z" fill="#000"/>
<path d="M71.5,1063.7L73.8,1067.8L69.2,1067.8Z" fill="#000"/>
<path d="M81.3,1064.7L83.6,1068.8L79.0,1068.8Z" fill="#000"/>
<path d="M91.1,1064.7L93.4,1068.8L88.8,1068.8Z" fill="#000"/>
<path d="M101.0,1066.7L103.3,1070.8L98.7,1070.8Z" fill="#000"/>
<path d="M110.8,1067.7L113.1,1071.8L108.5,1071.8Z" fill="#000"/>
<path d="M120.6,1067.7L122.9,1071.8L118.3,1071.8Z" fill="#000"/>
<path d="M130.5,1067.7L132.8,1071.8L128.2,1071.8Z" fill="#000"/>
<path d="M140.3,1068.7L142.6,1072.8L138.0,1072.8Z" fill="#000"/>
<path d="M150.1,1069.5L152.4,1073.6L147.8,1073.6Z" fill="#000"/>
<path d="M159.9,1071.2L162.2,1075.3L157.6,1075.3Z" fill="#000"/>
<path d="M169.8,1074.0L172.1,1078.1L167.5,1078.1Z" fill="#000"/>
<path d="M179.6,1068.8L181.9,1072.9L177.3,1072.9Z" fill="#000"/>
<path d="M189.4,1076.5L191.7,1080.6L187.1,1080.6Z" fill="#000"/>
<path d="M199.2,1069.5L201.5,1073.6L196.9,1073.6Z" fill="#000"/>
<path d="M209.1,1069.5L211.4,1073.6L206.8,1073.6Z" fill="#000"/>
<path d="M218.9,1076.5L221.2,1080.6L216.6,1080.6Z" fill="#000"/>
<path d="M42.0,1129.0L51.8,1066.3L61.7,1062.6L71.5,1065.0L81.3,1067.2L91.1,1066.5L101.0,1069.8L110.8,1070.5L120.6,1070.2L130.5,1072.0L140.3,1075.0L150.1,1077.0L159.9,1079.8L169.8,1081.3L179.6,1080.6L189.4,1082.0L199.2,1083.4L209.1,1085.8L218.9,1085.1L228.7,1084.0" fill="none" stroke="#222" stroke-width="0.9" stroke-dasharray="2,1.5" stroke-linejoin="round"/>
<path d="M42.0,1127.1L43.9,1130.5L40.1,1130.5Z" fill="#fff" stroke="#000" stroke-width="0.7"/>
<path d="M51.8,1064.4L53.7,1067.8L49.9,1067.8Z" fill="#fff" stroke="#000" stroke-width="0.7"/>
<path d="M61.7,1060.7L63.6,1064.1L59.8,1064.1Z" fill="#fff" stroke="#000" stroke-width="0.7"/>
<path d="M71.5,1063.1L73.4,1066.5L69.6,1066.5Z" fill="#fff" stroke="#000" stroke-width="0.7"/>
<path d="M81.3,1065.3L83.2,1068.7L79.4,1068.7Z" fill="#fff" stroke="#000" stroke-width="0.7"/>
<path d="M91.1,1064.6L93.0,1068.0L89.2,1068.0Z" fill="#fff" stroke="#000" stroke-width="0.7"/>
<path d="M101.0,1067.9L102.9,1071.3L99.1,1071.3Z" fill="#fff" stroke="#000" stroke-width="0.7"/>
<path d="M110.8,1068.6L112.7,1072.0L108.9,1072.0Z" fill="#fff" stroke="#000" stroke-width="0.7"/>
<path d="M120.6,1068.3L122.5,1071.7L118.7,1071.7Z" fill="#fff" stroke="#000" stroke-width="0.7"/>
<path d="M130.5,1070.1L132.4,1073.5L128.6,1073.5Z" fill="#fff" stroke="#000" stroke-width="0.7"/>
<path d="M140.3,1073.1L142.2,1076.5L138.4,1076.5Z" fill="#fff" stroke="#000" stroke-width="0.7"/>
<path d="M150.1,1075.1L152.0,1078.5L148.2,1078.5Z" fill="#fff" stroke="#000" stroke-width="0.7"/>
<path d="M159.9,1077.9L161.8,1081.3L158.0,1081.3Z" fill="#fff" stroke="#000" stroke-width="0.7"/>
<path d="M169.8,1079.4L171.7,1082.8L167.9,1082.8Z" fill="#fff" stroke="#000" stroke-width="0.7"/>
<path d="M179.6,1078.7L181.5,1082.1L177.7,1082.1Z" fill="#fff" stroke="#000" stroke-width="0.7"/>
<path d="M189.4,1080.1L191.3,1083.5L187.5,1083.5Z" fill="#fff" stroke="#000" stroke-width="0.7"/>
<path d="M199.2,1081.5L201.1,1084.9L197.3,1084.9Z" fill="#fff" stroke="#000" stroke-width="0.7"/>
<path d="M209.1,1083.9L211.0,1087.3L207.2,1087.3Z" fill="#fff" stroke="#000" stroke-width="0.7"/>
<path d="M218.9,1083.2L220.8,1086.6L217.0,1086.6Z" fill="#fff" stroke="#000" stroke-width="0.7"/>
<path d="M228.7,1082.1L230.6,1085.5L226.8,1085.5Z" fill="#fff" stroke="#000" stroke-width="0.7"/>
<path d="M42.0,1065.2L51.8,1061.9L61.7,1063.0L71.5,1061.9L81.3,1059.3L91.1,1060.2L101.0,1059.3L110.8,1062.6L120.6,1066.1L130.5,1064.8L140.3,1099.8L150.1,1083.4L159.9,1061.3L169.8,1065.8L179.6,1067.6L189.4,1075.3L199.2,1068.3L209.1,1068.3L218.9,1069.0L228.7,1071.1L238.5,1086.9L248.4,1086.9L258.2,1107.9L268.0,1105.1L277.9,1116.3L287.7,1129.6L297.5,1171.6" fill="none" stroke="#111" stroke-width="1.1" stroke-dasharray="1.2,1.3" stroke-linejoin="round"/>
<rect x="40.1" y="1063.2" width="3.9" height="3.9" fill="#fff" stroke="#000" stroke-width="0.75"/>
<rect x="49.9" y="1060.0" width="3.9" height="3.9" fill="#fff" stroke="#000" stroke-width="0.75"/>
<rect x="59.7" y="1061.0" width="3.9" height="3.9" fill="#fff" stroke="#000" stroke-width="0.75"/>
<rect x="69.5" y="1060.0" width="3.9" height="3.9" fill="#fff" stroke="#000" stroke-width="0.75"/>
<rect x="79.4" y="1057.3" width="3.9" height="3.9" fill="#fff" stroke="#000" stroke-width="0.75"/>
<rect x="89.2" y="1058.2" width="3.9" height="3.9" fill="#fff" stroke="#000" stroke-width="0.75"/>
<rect x="99.0" y="1057.3" width="3.9" height="3.9" fill="#fff" stroke="#000" stroke-width="0.75"/>
<rect x="108.8" y="1060.6" width="3.9" height="3.9" fill="#fff" stroke="#000" stroke-width="0.75"/>
<rect x="118.7" y="1064.1" width="3.9" height="3.9" fill="#fff" stroke="#000" stroke-width="0.75"/>
<rect x="128.5" y="1062.8" width="3.9" height="3.9" fill="#fff" stroke="#000" stroke-width="0.75"/>
<rect x="138.3" y="1097.8" width="3.9" height="3.9" fill="#fff" stroke="#000" stroke-width="0.75"/>
<rect x="148.2" y="1081.5" width="3.9" height="3.9" fill="#fff" stroke="#000" stroke-width="0.75"/>
<rect x="158.0" y="1059.3" width="3.9" height="3.9" fill="#fff" stroke="#000" stroke-width="0.75"/>
<rect x="167.8" y="1063.8" width="3.9" height="3.9" fill="#fff" stroke="#000" stroke-width="0.75"/>
<rect x="177.6" y="1065.6" width="3.9" height="3.9" fill="#fff" stroke="#000" stroke-width="0.75"/>
<rect x="187.5" y="1073.3" width="3.9" height="3.9" fill="#fff" stroke="#000" stroke-width="0.75"/>
<rect x="197.3" y="1066.3" width="3.9" height="3.9" fill="#fff" stroke="#000" stroke-width="0.75"/>
<rect x="207.1" y="1066.3" width="3.9" height="3.9" fill="#fff" stroke="#000" stroke-width="0.75"/>
<rect x="216.9" y="1067.0" width="3.9" height="3.9" fill="#fff" stroke="#000" stroke-width="0.75"/>
<rect x="226.8" y="1069.1" width="3.9" height="3.9" fill="#fff" stroke="#000" stroke-width="0.75"/>
<rect x="236.6" y="1085.0" width="3.9" height="3.9" fill="#fff" stroke="#000" stroke-width="0.75"/>
<rect x="246.4" y="1085.0" width="3.9" height="3.9" fill="#fff" stroke="#000" stroke-width="0.75"/>
<rect x="256.2" y="1106.0" width="3.9" height="3.9" fill="#fff" stroke="#000" stroke-width="0.75"/>
<rect x="266.1" y="1103.1" width="3.9" height="3.9" fill="#fff" stroke="#000" stroke-width="0.75"/>
<rect x="275.9" y="1114.3" width="3.9" height="3.9" fill="#fff" stroke="#000" stroke-width="0.75"/>
<rect x="285.7" y="1127.6" width="3.9" height="3.9" fill="#fff" stroke="#000" stroke-width="0.75"/>
<rect x="295.6" y="1169.6" width="3.9" height="3.9" fill="#fff" stroke="#000" stroke-width="0.75"/>
<path d="M42.0,1083.0L51.8,1066.1L61.7,1066.5L71.5,1066.5L81.3,1076.0L91.1,1070.2L101.0,1070.7L110.8,1070.7L120.6,1066.5L130.5,1066.0L140.3,1065.8" fill="none" stroke="#3c3c3c" stroke-width="2.2" stroke-linejoin="round"/>
<path d="M42.0,1083.0L51.8,1066.1L61.7,1066.5L71.5,1066.5L81.3,1076.0L91.1,1070.2L101.0,1070.7L110.8,1070.7L120.6,1066.5L130.5,1066.0L140.3,1065.8" fill="none" stroke="#7a7a7a" stroke-width="0.8" stroke-linejoin="round"/>
<circle cx="42.0" cy="1083.0" r="1.9" fill="#000"/>
<circle cx="51.8" cy="1066.1" r="1.9" fill="#000"/>
<circle cx="61.7" cy="1066.5" r="1.9" fill="#000"/>
<circle cx="71.5" cy="1066.5" r="1.9" fill="#000"/>
<circle cx="81.3" cy="1076.0" r="1.9" fill="#000"/>
<circle cx="91.1" cy="1070.2" r="1.9" fill="#000"/>
<circle cx="101.0" cy="1070.7" r="1.9" fill="#000"/>
<circle cx="110.8" cy="1070.7" r="1.9" fill="#000"/>
<circle cx="120.6" cy="1066.5" r="1.9" fill="#000"/>
<circle cx="130.5" cy="1066.0" r="1.9" fill="#000"/>
<circle cx="140.3" cy="1065.8" r="1.9" fill="#000"/>
<path d="M42.0,1068.0L51.8,1065.9L61.7,1070.2L71.5,1067.2L81.3,1065.2L91.1,1070.5L101.0,1071.1L110.8,1070.7L120.6,1100.0L130.5,1119.1L140.3,1120.8L150.1,1115.6L159.9,1117.3L169.8,1133.1L179.6,1089.3L189.4,1086.9L199.2,1108.6L209.1,1132.4L218.9,1078.8L228.7,1094.6L238.5,1089.7L248.4,1089.7L258.2,1089.7L268.0,1086.9L277.9,1089.7L287.7,1089.7L297.5,1095.6L307.3,1095.6L317.2,1108.6L319.0,1171.5" fill="none" stroke="#222" stroke-width="0.9" stroke-linejoin="round"/>
<rect x="40.0" y="1066.0" width="4.0" height="4.0" fill="#000"/>
<rect x="49.8" y="1063.9" width="4.0" height="4.0" fill="#000"/>
<rect x="59.7" y="1068.2" width="4.0" height="4.0" fill="#000"/>
<rect x="69.5" y="1065.2" width="4.0" height="4.0" fill="#000"/>
<rect x="79.3" y="1063.2" width="4.0" height="4.0" fill="#000"/>
<rect x="89.1" y="1068.5" width="4.0" height="4.0" fill="#000"/>
<rect x="99.0" y="1069.1" width="4.0" height="4.0" fill="#000"/>
<rect x="108.8" y="1068.7" width="4.0" height="4.0" fill="#000"/>
<rect x="118.6" y="1098.0" width="4.0" height="4.0" fill="#000"/>
<rect x="128.5" y="1117.1" width="4.0" height="4.0" fill="#000"/>
<rect x="138.3" y="1118.8" width="4.0" height="4.0" fill="#000"/>
<rect x="148.1" y="1113.6" width="4.0" height="4.0" fill="#000"/>
<rect x="157.9" y="1115.3" width="4.0" height="4.0" fill="#000"/>
<rect x="167.8" y="1131.1" width="4.0" height="4.0" fill="#000"/>
<rect x="177.6" y="1087.3" width="4.0" height="4.0" fill="#000"/>
<rect x="187.4" y="1084.9" width="4.0" height="4.0" fill="#000"/>
<rect x="197.2" y="1106.6" width="4.0" height="4.0" fill="#000"/>
<rect x="207.1" y="1130.4" width="4.0" height="4.0" fill="#000"/>
<rect x="216.9" y="1076.8" width="4.0" height="4.0" fill="#000"/>
<rect x="226.7" y="1092.6" width="4.0" height="4.0" fill="#000"/>
<rect x="236.5" y="1087.7" width="4.0" height="4.0" fill="#000"/>
<rect x="246.4" y="1087.7" width="4.0" height="4.0" fill="#000"/>
<rect x="256.2" y="1087.7" width="4.0" height="4.0" fill="#000"/>
<rect x="266.0" y="1084.9" width="4.0" height="4.0" fill="#000"/>
<rect x="275.9" y="1087.7" width="4.0" height="4.0" fill="#000"/>
<rect x="285.7" y="1087.7" width="4.0" height="4.0" fill="#000"/>
<rect x="295.5" y="1093.6" width="4.0" height="4.0" fill="#000"/>
<rect x="305.3" y="1093.6" width="4.0" height="4.0" fill="#000"/>
<rect x="315.2" y="1106.6" width="4.0" height="4.0" fill="#000"/>
<path d="M42.0,1069.8L51.8,1076.8L61.7,1081.2L71.5,1080.7L81.3,1079.7L91.1,1078.1L101.0,1083.9L110.8,1089.5" fill="none" stroke="#111" stroke-width="1.7" stroke-dasharray="6,3.2" stroke-linejoin="round"/>
<circle cx="42.0" cy="1069.8" r="2.1" fill="#fff" stroke="#000" stroke-width="0.8"/>
<circle cx="51.8" cy="1076.8" r="2.1" fill="#fff" stroke="#000" stroke-width="0.8"/>
<circle cx="61.7" cy="1081.2" r="2.1" fill="#fff" stroke="#000" stroke-width="0.8"/>
<circle cx="71.5" cy="1080.7" r="2.1" fill="#fff" stroke="#000" stroke-width="0.8"/>
<circle cx="81.3" cy="1079.7" r="2.1" fill="#fff" stroke="#000" stroke-width="0.8"/>
<circle cx="91.1" cy="1078.1" r="2.1" fill="#fff" stroke="#000" stroke-width="0.8"/>
<circle cx="101.0" cy="1083.9" r="2.1" fill="#fff" stroke="#000" stroke-width="0.8"/>
<circle cx="110.8" cy="1089.5" r="2.1" fill="#fff" stroke="#000" stroke-width="0.8"/>
<line x1="37.1" y1="1214.4" x2="37.1" y2="1340.7" stroke="#a0a0a0" stroke-width="1.4"/>
<line x1="34.1" y1="1340.7" x2="305.0" y2="1340.7" stroke="#808080" stroke-width="1.2"/>
<line x1="33.9" y1="1214.4" x2="39.7" y2="1214.4" stroke="#a0a0a0" stroke-width="1.1"/>
<text transform="translate(25.9,1214.4) rotate(-90)" text-anchor="middle" font-size="11.6" font-weight="bold" >12</text>
<line x1="33.9" y1="1239.66" x2="39.7" y2="1239.66" stroke="#a0a0a0" stroke-width="1.1"/>
<text transform="translate(25.9,1239.7) rotate(-90)" text-anchor="middle" font-size="11.6" font-weight="bold" >11</text>
<line x1="33.9" y1="1264.92" x2="39.7" y2="1264.92" stroke="#a0a0a0" stroke-width="1.1"/>
<text transform="translate(25.9,1264.9) rotate(-90)" text-anchor="middle" font-size="11.6" font-weight="bold" >10</text>
<line x1="33.9" y1="1290.18" x2="39.7" y2="1290.18" stroke="#a0a0a0" stroke-width="1.1"/>
<text transform="translate(25.9,1290.2) rotate(-90)" text-anchor="middle" font-size="11.6" font-weight="bold" >9</text>
<line x1="33.9" y1="1315.44" x2="39.7" y2="1315.44" stroke="#a0a0a0" stroke-width="1.1"/>
<text transform="translate(25.9,1315.4) rotate(-90)" text-anchor="middle" font-size="11.6" font-weight="bold" >8</text>
<line x1="33.9" y1="1340.7" x2="39.7" y2="1340.7" stroke="#a0a0a0" stroke-width="1.1"/>
<text transform="translate(25.9,1340.7) rotate(-90)" text-anchor="middle" font-size="11.6" font-weight="bold" >7</text>
<line x1="47.4" y1="1338.9" x2="47.4" y2="1342.5" stroke="#555" stroke-width="0.9"/>
<line x1="57.7" y1="1338.9" x2="57.7" y2="1342.5" stroke="#555" stroke-width="0.9"/>
<line x1="68.0" y1="1338.9" x2="68.0" y2="1342.5" stroke="#555" stroke-width="0.9"/>
<line x1="78.3" y1="1338.9" x2="78.3" y2="1342.5" stroke="#555" stroke-width="0.9"/>
<line x1="88.6" y1="1338.9" x2="88.6" y2="1342.5" stroke="#555" stroke-width="0.9"/>
<line x1="98.9" y1="1338.9" x2="98.9" y2="1342.5" stroke="#555" stroke-width="0.9"/>
<line x1="109.2" y1="1338.9" x2="109.2" y2="1342.5" stroke="#555" stroke-width="0.9"/>
<line x1="119.5" y1="1338.9" x2="119.5" y2="1342.5" stroke="#555" stroke-width="0.9"/>
<line x1="129.8" y1="1338.9" x2="129.8" y2="1342.5" stroke="#555" stroke-width="0.9"/>
<line x1="140.1" y1="1338.9" x2="140.1" y2="1342.5" stroke="#555" stroke-width="0.9"/>
<line x1="150.4" y1="1338.9" x2="150.4" y2="1342.5" stroke="#555" stroke-width="0.9"/>
<line x1="160.7" y1="1338.9" x2="160.7" y2="1342.5" stroke="#555" stroke-width="0.9"/>
<line x1="171.0" y1="1338.9" x2="171.0" y2="1342.5" stroke="#555" stroke-width="0.9"/>
<line x1="181.4" y1="1338.9" x2="181.4" y2="1342.5" stroke="#555" stroke-width="0.9"/>
<line x1="191.7" y1="1338.9" x2="191.7" y2="1342.5" stroke="#555" stroke-width="0.9"/>
<line x1="202.0" y1="1338.9" x2="202.0" y2="1342.5" stroke="#555" stroke-width="0.9"/>
<line x1="212.3" y1="1338.9" x2="212.3" y2="1342.5" stroke="#555" stroke-width="0.9"/>
<line x1="222.6" y1="1338.9" x2="222.6" y2="1342.5" stroke="#555" stroke-width="0.9"/>
<line x1="232.9" y1="1338.9" x2="232.9" y2="1342.5" stroke="#555" stroke-width="0.9"/>
<line x1="243.2" y1="1338.9" x2="243.2" y2="1342.5" stroke="#555" stroke-width="0.9"/>
<line x1="253.5" y1="1338.9" x2="253.5" y2="1342.5" stroke="#555" stroke-width="0.9"/>
<line x1="263.8" y1="1338.9" x2="263.8" y2="1342.5" stroke="#555" stroke-width="0.9"/>
<line x1="274.1" y1="1338.9" x2="274.1" y2="1342.5" stroke="#555" stroke-width="0.9"/>
<line x1="284.4" y1="1338.9" x2="284.4" y2="1342.5" stroke="#555" stroke-width="0.9"/>
<line x1="294.7" y1="1338.9" x2="294.7" y2="1342.5" stroke="#555" stroke-width="0.9"/>
<text transform="translate(46.1,1344.0) rotate(-90)" text-anchor="end" font-size="11.6" font-weight="bold" >0</text>
<text transform="translate(98.2,1344.0) rotate(-90)" text-anchor="end" font-size="11.6" font-weight="bold" >50</text>
<text transform="translate(150.0,1344.0) rotate(-90)" text-anchor="end" font-size="11.6" font-weight="bold" >100</text>
<text transform="translate(201.9,1344.0) rotate(-90)" text-anchor="end" font-size="11.6" font-weight="bold" >150</text>
<text transform="translate(253.1,1344.0) rotate(-90)" text-anchor="end" font-size="11.6" font-weight="bold" >200</text>
<text transform="translate(293.1,1344.0) rotate(-90)" text-anchor="end" font-size="11.6" font-weight="bold" >300</text>
<text transform="translate(320.0,1344.0) rotate(-90)" text-anchor="end" font-size="11.6" font-weight="bold" >350</text>
<text transform="translate(12.7,1279) rotate(-90)" text-anchor="middle" font-size="14.5" font-weight="bold">HM, %</text>
<path d="M42.3,1277.0L52.6,1277.9L62.9,1273.3L73.2,1262.8L83.5,1258.2L93.8,1257.3L104.1,1268.1L114.4,1252.0L124.7,1258.2L135.0,1259.6L145.3,1254.8L155.6,1257.0L165.9,1264.4L176.2,1274.0L186.5,1264.4L196.8,1274.0L207.1,1281.4L217.4,1274.0L227.7,1269.2" fill="none" stroke="#222" stroke-width="0.9" stroke-dasharray="4,2" stroke-linejoin="round"/>
<path d="M42.3,1274.7L44.6,1278.8L40.0,1278.8Z" fill="#000"/>
<path d="M52.6,1275.6L54.9,1279.7L50.3,1279.7Z" fill="#000"/>
<path d="M62.9,1271.0L65.2,1275.1L60.6,1275.1Z" fill="#000"/>
<path d="M73.2,1260.5L75.5,1264.6L70.9,1264.6Z" fill="#000"/>
<path d="M83.5,1255.9L85.8,1260.0L81.2,1260.0Z" fill="#000"/>
<path d="M93.8,1255.0L96.1,1259.1L91.5,1259.1Z" fill="#000"/>
<path d="M104.1,1265.8L106.4,1269.9L101.8,1269.9Z" fill="#000"/>
<path d="M114.4,1249.7L116.7,1253.8L112.1,1253.8Z" fill="#000"/>
<path d="M124.7,1255.9L127.0,1260.0L122.4,1260.0Z" fill="#000"/>
<path d="M135.0,1257.3L137.3,1261.4L132.7,1261.4Z" fill="#000"/>
<path d="M145.3,1252.5L147.6,1256.6L143.0,1256.6Z" fill="#000"/>
<path d="M155.6,1254.7L157.9,1258.8L153.3,1258.8Z" fill="#000"/>
<path d="M165.9,1262.1L168.2,1266.2L163.6,1266.2Z" fill="#000"/>
<path d="M176.2,1271.7L178.5,1275.8L173.9,1275.8Z" fill="#000"/>
<path d="M186.5,1262.1L188.8,1266.2L184.2,1266.2Z" fill="#000"/>
<path d="M196.8,1271.7L199.1,1275.8L194.5,1275.8Z" fill="#000"/>
<path d="M207.1,1279.1L209.4,1283.2L204.8,1283.2Z" fill="#000"/>
<path d="M217.4,1271.7L219.7,1275.8L215.1,1275.8Z" fill="#000"/>
<path d="M227.7,1266.9L230.0,1271.0L225.4,1271.0Z" fill="#000"/>
<path d="M42.3,1335.5L52.6,1296.3L62.9,1313.8L73.2,1321.7L83.5,1320.9L93.8,1316.7L104.1,1309.5L114.4,1295.0L124.7,1306.2L135.0,1295.9L145.3,1291.7L155.6,1284.6L165.9,1280.5L176.2,1276.3L186.5,1265.4L196.8,1270.2L207.1,1269.2L217.4,1267.0L227.7,1265.4" fill="none" stroke="#222" stroke-width="0.9" stroke-dasharray="2,1.5" stroke-linejoin="round"/>
<path d="M42.3,1333.6L44.2,1337.0L40.4,1337.0Z" fill="#fff" stroke="#000" stroke-width="0.7"/>
<path d="M52.6,1294.4L54.5,1297.8L50.7,1297.8Z" fill="#fff" stroke="#000" stroke-width="0.7"/>
<path d="M62.9,1311.9L64.8,1315.3L61.0,1315.3Z" fill="#fff" stroke="#000" stroke-width="0.7"/>
<path d="M73.2,1319.8L75.1,1323.2L71.3,1323.2Z" fill="#fff" stroke="#000" stroke-width="0.7"/>
<path d="M83.5,1319.0L85.4,1322.4L81.6,1322.4Z" fill="#fff" stroke="#000" stroke-width="0.7"/>
<path d="M93.8,1314.8L95.7,1318.2L91.9,1318.2Z" fill="#fff" stroke="#000" stroke-width="0.7"/>
<path d="M104.1,1307.6L106.0,1311.0L102.2,1311.0Z" fill="#fff" stroke="#000" stroke-width="0.7"/>
<path d="M114.4,1293.1L116.3,1296.5L112.5,1296.5Z" fill="#fff" stroke="#000" stroke-width="0.7"/>
<path d="M124.7,1304.3L126.6,1307.7L122.8,1307.7Z" fill="#fff" stroke="#000" stroke-width="0.7"/>
<path d="M135.0,1294.0L136.9,1297.4L133.1,1297.4Z" fill="#fff" stroke="#000" stroke-width="0.7"/>
<path d="M145.3,1289.8L147.2,1293.2L143.4,1293.2Z" fill="#fff" stroke="#000" stroke-width="0.7"/>
<path d="M155.6,1282.7L157.5,1286.1L153.7,1286.1Z" fill="#fff" stroke="#000" stroke-width="0.7"/>
<path d="M165.9,1278.6L167.8,1282.0L164.0,1282.0Z" fill="#fff" stroke="#000" stroke-width="0.7"/>
<path d="M176.2,1274.4L178.1,1277.8L174.3,1277.8Z" fill="#fff" stroke="#000" stroke-width="0.7"/>
<path d="M186.5,1263.5L188.4,1266.9L184.6,1266.9Z" fill="#fff" stroke="#000" stroke-width="0.7"/>
<path d="M196.8,1268.3L198.7,1271.7L194.9,1271.7Z" fill="#fff" stroke="#000" stroke-width="0.7"/>
<path d="M207.1,1267.3L209.0,1270.7L205.2,1270.7Z" fill="#fff" stroke="#000" stroke-width="0.7"/>
<path d="M217.4,1265.1L219.3,1268.5L215.5,1268.5Z" fill="#fff" stroke="#000" stroke-width="0.7"/>
<path d="M227.7,1263.5L229.6,1266.9L225.8,1266.9Z" fill="#fff" stroke="#000" stroke-width="0.7"/>
<path d="M42.3,1277.0L52.6,1270.7L62.9,1254.3L73.2,1279.6L83.5,1272.0L93.8,1298.5L104.1,1262.2L114.4,1255.6L124.7,1262.2L135.0,1301.3L145.3,1237.8L155.6,1256.4L165.9,1277.3L176.2,1281.4L186.5,1272.4L196.8,1282.1L207.1,1275.2L217.4,1273.3L227.7,1261.5L238.0,1274.3L248.3,1265.7L258.6,1245.2L268.9,1241.4L279.2,1224.5L289.5,1241.4L299.8,1242.0" fill="none" stroke="#111" stroke-width="1.1" stroke-dasharray="1.2,1.3" stroke-linejoin="round"/>
<rect x="40.3" y="1275.0" width="3.9" height="3.9" fill="#fff" stroke="#000" stroke-width="0.75"/>
<rect x="50.6" y="1268.8" width="3.9" height="3.9" fill="#fff" stroke="#000" stroke-width="0.75"/>
<rect x="60.9" y="1252.3" width="3.9" height="3.9" fill="#fff" stroke="#000" stroke-width="0.75"/>
<rect x="71.2" y="1277.6" width="3.9" height="3.9" fill="#fff" stroke="#000" stroke-width="0.75"/>
<rect x="81.5" y="1270.0" width="3.9" height="3.9" fill="#fff" stroke="#000" stroke-width="0.75"/>
<rect x="91.8" y="1296.5" width="3.9" height="3.9" fill="#fff" stroke="#000" stroke-width="0.75"/>
<rect x="102.1" y="1260.2" width="3.9" height="3.9" fill="#fff" stroke="#000" stroke-width="0.75"/>
<rect x="112.4" y="1253.6" width="3.9" height="3.9" fill="#fff" stroke="#000" stroke-width="0.75"/>
<rect x="122.7" y="1260.2" width="3.9" height="3.9" fill="#fff" stroke="#000" stroke-width="0.75"/>
<rect x="133.0" y="1299.3" width="3.9" height="3.9" fill="#fff" stroke="#000" stroke-width="0.75"/>
<rect x="143.3" y="1235.8" width="3.9" height="3.9" fill="#fff" stroke="#000" stroke-width="0.75"/>
<rect x="153.6" y="1254.5" width="3.9" height="3.9" fill="#fff" stroke="#000" stroke-width="0.75"/>
<rect x="163.9" y="1275.3" width="3.9" height="3.9" fill="#fff" stroke="#000" stroke-width="0.75"/>
<rect x="174.3" y="1279.5" width="3.9" height="3.9" fill="#fff" stroke="#000" stroke-width="0.75"/>
<rect x="184.6" y="1270.5" width="3.9" height="3.9" fill="#fff" stroke="#000" stroke-width="0.75"/>
<rect x="194.9" y="1280.1" width="3.9" height="3.9" fill="#fff" stroke="#000" stroke-width="0.75"/>
<rect x="205.2" y="1273.2" width="3.9" height="3.9" fill="#fff" stroke="#000" stroke-width="0.75"/>
<rect x="215.5" y="1271.3" width="3.9" height="3.9" fill="#fff" stroke="#000" stroke-width="0.75"/>
<rect x="225.8" y="1259.5" width="3.9" height="3.9" fill="#fff" stroke="#000" stroke-width="0.75"/>
<rect x="236.1" y="1272.3" width="3.9" height="3.9" fill="#fff" stroke="#000" stroke-width="0.75"/>
<rect x="246.4" y="1263.8" width="3.9" height="3.9" fill="#fff" stroke="#000" stroke-width="0.75"/>
<rect x="256.7" y="1243.2" width="3.9" height="3.9" fill="#fff" stroke="#000" stroke-width="0.75"/>
<rect x="267.0" y="1239.5" width="3.9" height="3.9" fill="#fff" stroke="#000" stroke-width="0.75"/>
<rect x="277.3" y="1222.5" width="3.9" height="3.9" fill="#fff" stroke="#000" stroke-width="0.75"/>
<rect x="287.6" y="1239.5" width="3.9" height="3.9" fill="#fff" stroke="#000" stroke-width="0.75"/>
<rect x="297.9" y="1240.0" width="3.9" height="3.9" fill="#fff" stroke="#000" stroke-width="0.75"/>
<path d="M42.3,1263.5L52.6,1262.2L62.9,1280.9L73.2,1258.6L83.5,1252.3L93.8,1240.2L104.1,1245.7L114.4,1238.1L124.7,1265.7L135.0,1267.0L145.3,1268.6L155.6,1277.3L165.9,1273.4L176.2,1279.5L186.5,1253.2L196.8,1244.5L207.1,1232.0L217.4,1217.9L227.7,1243.9L238.0,1234.8L248.3,1234.8L258.6,1234.8L268.9,1234.8L279.2,1232.5" fill="none" stroke="#222" stroke-width="0.9" stroke-linejoin="round"/>
<rect x="40.3" y="1261.5" width="4.0" height="4.0" fill="#000"/>
<rect x="50.6" y="1260.2" width="4.0" height="4.0" fill="#000"/>
<rect x="60.9" y="1278.9" width="4.0" height="4.0" fill="#000"/>
<rect x="71.2" y="1256.6" width="4.0" height="4.0" fill="#000"/>
<rect x="81.5" y="1250.3" width="4.0" height="4.0" fill="#000"/>
<rect x="91.8" y="1238.2" width="4.0" height="4.0" fill="#000"/>
<rect x="102.1" y="1243.7" width="4.0" height="4.0" fill="#000"/>
<rect x="112.4" y="1236.1" width="4.0" height="4.0" fill="#000"/>
<rect x="122.7" y="1263.7" width="4.0" height="4.0" fill="#000"/>
<rect x="133.0" y="1265.0" width="4.0" height="4.0" fill="#000"/>
<rect x="143.3" y="1266.6" width="4.0" height="4.0" fill="#000"/>
<rect x="153.6" y="1275.3" width="4.0" height="4.0" fill="#000"/>
<rect x="163.9" y="1271.4" width="4.0" height="4.0" fill="#000"/>
<rect x="174.2" y="1277.5" width="4.0" height="4.0" fill="#000"/>
<rect x="184.5" y="1251.2" width="4.0" height="4.0" fill="#000"/>
<rect x="194.8" y="1242.5" width="4.0" height="4.0" fill="#000"/>
<rect x="205.1" y="1230.0" width="4.0" height="4.0" fill="#000"/>
<rect x="215.4" y="1215.9" width="4.0" height="4.0" fill="#000"/>
<rect x="225.7" y="1241.9" width="4.0" height="4.0" fill="#000"/>
<rect x="236.0" y="1232.8" width="4.0" height="4.0" fill="#000"/>
<rect x="246.3" y="1232.8" width="4.0" height="4.0" fill="#000"/>
<rect x="256.6" y="1232.8" width="4.0" height="4.0" fill="#000"/>
<rect x="266.9" y="1232.8" width="4.0" height="4.0" fill="#000"/>
<rect x="277.2" y="1230.5" width="4.0" height="4.0" fill="#000"/>
<path d="M42.3,1318.0L52.6,1332.2L62.9,1317.3L73.2,1297.4L83.5,1305.2L93.8,1288.0L104.1,1298.0L114.4,1304.6L124.7,1309.2L135.0,1309.4L145.3,1309.4" fill="none" stroke="#3c3c3c" stroke-width="2.2" stroke-linejoin="round"/>
<path d="M42.3,1318.0L52.6,1332.2L62.9,1317.3L73.2,1297.4L83.5,1305.2L93.8,1288.0L104.1,1298.0L114.4,1304.6L124.7,1309.2L135.0,1309.4L145.3,1309.4" fill="none" stroke="#7a7a7a" stroke-width="0.8" stroke-linejoin="round"/>
<circle cx="42.3" cy="1318.0" r="1.9" fill="#000"/>
<circle cx="52.6" cy="1332.2" r="1.9" fill="#000"/>
<circle cx="62.9" cy="1317.3" r="1.9" fill="#000"/>
<circle cx="73.2" cy="1297.4" r="1.9" fill="#000"/>
<circle cx="83.5" cy="1305.2" r="1.9" fill="#000"/>
<circle cx="93.8" cy="1288.0" r="1.9" fill="#000"/>
<circle cx="104.1" cy="1298.0" r="1.9" fill="#000"/>
<circle cx="114.4" cy="1304.6" r="1.9" fill="#000"/>
<circle cx="124.7" cy="1309.2" r="1.9" fill="#000"/>
<circle cx="135.0" cy="1309.4" r="1.9" fill="#000"/>
<circle cx="145.3" cy="1309.4" r="1.9" fill="#000"/>
<path d="M42.3,1284.5L52.6,1264.4L62.9,1260.8L73.2,1264.8L83.5,1272.0L93.8,1277.9L104.1,1272.7L114.4,1264.4" fill="none" stroke="#111" stroke-width="1.7" stroke-dasharray="6,3.2" stroke-linejoin="round"/>
<circle cx="42.3" cy="1284.5" r="2.1" fill="#fff" stroke="#000" stroke-width="0.8"/>
<circle cx="52.6" cy="1264.4" r="2.1" fill="#fff" stroke="#000" stroke-width="0.8"/>
<circle cx="62.9" cy="1260.8" r="2.1" fill="#fff" stroke="#000" stroke-width="0.8"/>
<circle cx="73.2" cy="1264.8" r="2.1" fill="#fff" stroke="#000" stroke-width="0.8"/>
<circle cx="83.5" cy="1272.0" r="2.1" fill="#fff" stroke="#000" stroke-width="0.8"/>
<circle cx="93.8" cy="1277.9" r="2.1" fill="#fff" stroke="#000" stroke-width="0.8"/>
<circle cx="104.1" cy="1272.7" r="2.1" fill="#fff" stroke="#000" stroke-width="0.8"/>
<circle cx="114.4" cy="1264.4" r="2.1" fill="#fff" stroke="#000" stroke-width="0.8"/>
<line x1="389.4" y1="8.6" x2="389.4" y2="135.8" stroke="#555" stroke-width="1.4"/>
<line x1="386.4" y1="135.8" x2="658.7" y2="135.8" stroke="#707070" stroke-width="1.2"/>
<line x1="386.2" y1="8.6" x2="392.0" y2="8.6" stroke="#555" stroke-width="1.1"/>
<text transform="translate(378.4,8.6) rotate(-90)" text-anchor="middle" font-size="11.6" font-weight="bold" >1.1</text>
<line x1="386.2" y1="40.32500000000001" x2="392.0" y2="40.32500000000001" stroke="#555" stroke-width="1.1"/>
<text transform="translate(378.4,40.3) rotate(-90)" text-anchor="middle" font-size="11.6" font-weight="bold" >0.9</text>
<line x1="386.2" y1="72.05000000000003" x2="392.0" y2="72.05000000000003" stroke="#555" stroke-width="1.1"/>
<text transform="translate(378.4,72.1) rotate(-90)" text-anchor="middle" font-size="11.6" font-weight="bold" >0.7</text>
<line x1="386.2" y1="103.775" x2="392.0" y2="103.775" stroke="#555" stroke-width="1.1"/>
<text transform="translate(378.4,103.8) rotate(-90)" text-anchor="middle" font-size="11.6" font-weight="bold" >0.5</text>
<line x1="386.2" y1="135.5" x2="392.0" y2="135.5" stroke="#555" stroke-width="1.1"/>
<text transform="translate(378.4,135.5) rotate(-90)" text-anchor="middle" font-size="11.6" font-weight="bold" >0.3</text>
<line x1="399.4" y1="134.0" x2="399.4" y2="137.60000000000002" stroke="#555" stroke-width="0.9"/>
<line x1="409.3" y1="134.0" x2="409.3" y2="137.60000000000002" stroke="#555" stroke-width="0.9"/>
<line x1="419.3" y1="134.0" x2="419.3" y2="137.60000000000002" stroke="#555" stroke-width="0.9"/>
<line x1="429.3" y1="134.0" x2="429.3" y2="137.60000000000002" stroke="#555" stroke-width="0.9"/>
<line x1="439.3" y1="134.0" x2="439.3" y2="137.60000000000002" stroke="#555" stroke-width="0.9"/>
<line x1="449.2" y1="134.0" x2="449.2" y2="137.60000000000002" stroke="#555" stroke-width="0.9"/>
<line x1="459.2" y1="134.0" x2="459.2" y2="137.60000000000002" stroke="#555" stroke-width="0.9"/>
<line x1="469.2" y1="134.0" x2="469.2" y2="137.60000000000002" stroke="#555" stroke-width="0.9"/>
<line x1="479.2" y1="134.0" x2="479.2" y2="137.60000000000002" stroke="#555" stroke-width="0.9"/>
<line x1="489.1" y1="134.0" x2="489.1" y2="137.60000000000002" stroke="#555" stroke-width="0.9"/>
<line x1="499.1" y1="134.0" x2="499.1" y2="137.60000000000002" stroke="#555" stroke-width="0.9"/>
<line x1="509.1" y1="134.0" x2="509.1" y2="137.60000000000002" stroke="#555" stroke-width="0.9"/>
<line x1="519.1" y1="134.0" x2="519.1" y2="137.60000000000002" stroke="#555" stroke-width="0.9"/>
<line x1="529.0" y1="134.0" x2="529.0" y2="137.60000000000002" stroke="#555" stroke-width="0.9"/>
<line x1="539.0" y1="134.0" x2="539.0" y2="137.60000000000002" stroke="#555" stroke-width="0.9"/>
<line x1="549.0" y1="134.0" x2="549.0" y2="137.60000000000002" stroke="#555" stroke-width="0.9"/>
<line x1="559.0" y1="134.0" x2="559.0" y2="137.60000000000002" stroke="#555" stroke-width="0.9"/>
<line x1="568.9" y1="134.0" x2="568.9" y2="137.60000000000002" stroke="#555" stroke-width="0.9"/>
<line x1="578.9" y1="134.0" x2="578.9" y2="137.60000000000002" stroke="#555" stroke-width="0.9"/>
<line x1="588.9" y1="134.0" x2="588.9" y2="137.60000000000002" stroke="#555" stroke-width="0.9"/>
<line x1="598.9" y1="134.0" x2="598.9" y2="137.60000000000002" stroke="#555" stroke-width="0.9"/>
<line x1="608.8" y1="134.0" x2="608.8" y2="137.60000000000002" stroke="#555" stroke-width="0.9"/>
<line x1="618.8" y1="134.0" x2="618.8" y2="137.60000000000002" stroke="#555" stroke-width="0.9"/>
<line x1="628.8" y1="134.0" x2="628.8" y2="137.60000000000002" stroke="#555" stroke-width="0.9"/>
<line x1="638.8" y1="134.0" x2="638.8" y2="137.60000000000002" stroke="#555" stroke-width="0.9"/>
<line x1="648.7" y1="134.0" x2="648.7" y2="137.60000000000002" stroke="#555" stroke-width="0.9"/>
<text transform="translate(397.5,139.1) rotate(-90)" text-anchor="end" font-size="11.6" font-weight="bold" >0</text>
<text transform="translate(457.1,139.1) rotate(-90)" text-anchor="end" font-size="11.6" font-weight="bold" >50</text>
<text transform="translate(506.4,139.1) rotate(-90)" text-anchor="end" font-size="11.6" font-weight="bold" >100</text>
<text transform="translate(555.3,139.1) rotate(-90)" text-anchor="end" font-size="11.6" font-weight="bold" >150</text>
<text transform="translate(594.5,139.1) rotate(-90)" text-anchor="end" font-size="11.6" font-weight="bold" >200</text>
<text transform="translate(633.7,139.1) rotate(-90)" text-anchor="end" font-size="11.6" font-weight="bold" >300</text>
<text transform="translate(659.8,139.1) rotate(-90)" text-anchor="end" font-size="11.6" font-weight="bold" >350</text>
<path d="M394.4,12.4L404.4,74.2L414.3,77.4L424.3,71.5L434.3,100.0L444.3,96.1L454.2,80.0L464.2,108.0L474.2,108.8L484.2,105.1L494.1,107.3" fill="none" stroke="#222" stroke-width="0.9" stroke-dasharray="4,2" stroke-linejoin="round"/>
<path d="M394.4,10.1L396.7,14.2L392.1,14.2Z" fill="#000"/>
<path d="M404.4,71.9L406.7,76.0L402.1,76.0Z" fill="#000"/>
<path d="M414.3,75.1L416.6,79.2L412.0,79.2Z" fill="#000"/>
<path d="M424.3,69.2L426.6,73.3L422.0,73.3Z" fill="#000"/>
<path d="M434.3,97.7L436.6,101.8L432.0,101.8Z" fill="#000"/>
<path d="M444.3,93.8L446.6,97.9L442.0,97.9Z" fill="#000"/>
<path d="M454.2,77.7L456.5,81.8L451.9,81.8Z" fill="#000"/>
<path d="M464.2,105.7L466.5,109.8L461.9,109.8Z" fill="#000"/>
<path d="M474.2,106.5L476.5,110.6L471.9,110.6Z" fill="#000"/>
<path d="M484.2,102.8L486.5,106.9L481.9,106.9Z" fill="#000"/>
<path d="M494.1,105.0L496.4,109.1L491.8,109.1Z" fill="#000"/>
<path d="M394.4,106.3L404.4,110.0L414.3,105.8L424.3,105.8L434.3,106.5L444.3,101.5L454.2,112.4L464.2,111.0" fill="none" stroke="#222" stroke-width="0.9" stroke-dasharray="2,1.5" stroke-linejoin="round"/>
<path d="M394.4,104.4L396.3,107.8L392.5,107.8Z" fill="#fff" stroke="#000" stroke-width="0.7"/>
<path d="M404.4,108.1L406.3,111.5L402.5,111.5Z" fill="#fff" stroke="#000" stroke-width="0.7"/>
<path d="M414.3,103.9L416.2,107.3L412.4,107.3Z" fill="#fff" stroke="#000" stroke-width="0.7"/>
<path d="M424.3,103.9L426.2,107.3L422.4,107.3Z" fill="#fff" stroke="#000" stroke-width="0.7"/>
<path d="M434.3,104.6L436.2,108.0L432.4,108.0Z" fill="#fff" stroke="#000" stroke-width="0.7"/>
<path d="M444.3,99.6L446.2,103.0L442.4,103.0Z" fill="#fff" stroke="#000" stroke-width="0.7"/>
<path d="M454.2,110.5L456.1,113.9L452.3,113.9Z" fill="#fff" stroke="#000" stroke-width="0.7"/>
<path d="M464.2,109.1L466.1,112.5L462.3,112.5Z" fill="#fff" stroke="#000" stroke-width="0.7"/>
<path d="M394.4,108.0L404.4,111.7L414.3,109.5L424.3,111.7L434.3,110.2L444.3,111.7L454.2,105.1L464.2,110.2L474.2,110.2L484.2,110.2L494.1,112.5L504.1,102.0L514.1,108.6L524.1,112.0L534.0,109.4L544.0,109.4L554.0,96.0L563.9,106.0L573.9,99.9L583.9,102.6L593.9,106.8L603.8,107.3L613.8,103.4L623.8,106.0L633.8,105.2" fill="none" stroke="#111" stroke-width="1.1" stroke-dasharray="1.2,1.3" stroke-linejoin="round"/>
<rect x="392.4" y="106.0" width="3.9" height="3.9" fill="#fff" stroke="#000" stroke-width="0.75"/>
<rect x="402.4" y="109.8" width="3.9" height="3.9" fill="#fff" stroke="#000" stroke-width="0.75"/>
<rect x="412.4" y="107.5" width="3.9" height="3.9" fill="#fff" stroke="#000" stroke-width="0.75"/>
<rect x="422.4" y="109.8" width="3.9" height="3.9" fill="#fff" stroke="#000" stroke-width="0.75"/>
<rect x="432.3" y="108.2" width="3.9" height="3.9" fill="#fff" stroke="#000" stroke-width="0.75"/>
<rect x="442.3" y="109.8" width="3.9" height="3.9" fill="#fff" stroke="#000" stroke-width="0.75"/>
<rect x="452.3" y="103.1" width="3.9" height="3.9" fill="#fff" stroke="#000" stroke-width="0.75"/>
<rect x="462.3" y="108.2" width="3.9" height="3.9" fill="#fff" stroke="#000" stroke-width="0.75"/>
<rect x="472.2" y="108.2" width="3.9" height="3.9" fill="#fff" stroke="#000" stroke-width="0.75"/>
<rect x="482.2" y="108.2" width="3.9" height="3.9" fill="#fff" stroke="#000" stroke-width="0.75"/>
<rect x="492.2" y="110.5" width="3.9" height="3.9" fill="#fff" stroke="#000" stroke-width="0.75"/>
<rect x="502.2" y="100.0" width="3.9" height="3.9" fill="#fff" stroke="#000" stroke-width="0.75"/>
<rect x="512.1" y="106.6" width="3.9" height="3.9" fill="#fff" stroke="#000" stroke-width="0.75"/>
<rect x="522.1" y="110.0" width="3.9" height="3.9" fill="#fff" stroke="#000" stroke-width="0.75"/>
<rect x="532.1" y="107.5" width="3.9" height="3.9" fill="#fff" stroke="#000" stroke-width="0.75"/>
<rect x="542.0" y="107.5" width="3.9" height="3.9" fill="#fff" stroke="#000" stroke-width="0.75"/>
<rect x="552.0" y="94.0" width="3.9" height="3.9" fill="#fff" stroke="#000" stroke-width="0.75"/>
<rect x="562.0" y="104.0" width="3.9" height="3.9" fill="#fff" stroke="#000" stroke-width="0.75"/>
<rect x="572.0" y="98.0" width="3.9" height="3.9" fill="#fff" stroke="#000" stroke-width="0.75"/>
<rect x="581.9" y="100.6" width="3.9" height="3.9" fill="#fff" stroke="#000" stroke-width="0.75"/>
<rect x="591.9" y="104.8" width="3.9" height="3.9" fill="#fff" stroke="#000" stroke-width="0.75"/>
<rect x="601.9" y="105.3" width="3.9" height="3.9" fill="#fff" stroke="#000" stroke-width="0.75"/>
<rect x="611.9" y="101.5" width="3.9" height="3.9" fill="#fff" stroke="#000" stroke-width="0.75"/>
<rect x="621.8" y="104.0" width="3.9" height="3.9" fill="#fff" stroke="#000" stroke-width="0.75"/>
<rect x="631.8" y="103.2" width="3.9" height="3.9" fill="#fff" stroke="#000" stroke-width="0.75"/>
<path d="M394.4,98.5L404.4,109.5L414.3,112.4L424.3,107.3L434.3,113.9L444.3,115.3L454.2,113.1L464.2,111.0L474.2,116.8L484.2,121.7L494.1,107.3L504.1,111.2L514.1,106.0L524.1,112.0L534.0,117.8L544.0,117.3L554.0,121.0L563.9,117.3L573.9,119.1L583.9,117.8L593.9,121.7L603.8,114.7L613.8,111.2L623.8,109.4L633.8,113.1L643.7,114.4L653.7,111.2" fill="none" stroke="#3c3c3c" stroke-width="2.2" stroke-linejoin="round"/>
<path d="M394.4,98.5L404.4,109.5L414.3,112.4L424.3,107.3L434.3,113.9L444.3,115.3L454.2,113.1L464.2,111.0L474.2,116.8L484.2,121.7L494.1,107.3L504.1,111.2L514.1,106.0L524.1,112.0L534.0,117.8L544.0,117.3L554.0,121.0L563.9,117.3L573.9,119.1L583.9,117.8L593.9,121.7L603.8,114.7L613.8,111.2L623.8,109.4L633.8,113.1L643.7,114.4L653.7,111.2" fill="none" stroke="#7a7a7a" stroke-width="0.8" stroke-linejoin="round"/>
<circle cx="394.4" cy="98.5" r="1.9" fill="#000"/>
<circle cx="404.4" cy="109.5" r="1.9" fill="#000"/>
<circle cx="414.3" cy="112.4" r="1.9" fill="#000"/>
<circle cx="424.3" cy="107.3" r="1.9" fill="#000"/>
<circle cx="434.3" cy="113.9" r="1.9" fill="#000"/>
<circle cx="444.3" cy="115.3" r="1.9" fill="#000"/>
<circle cx="454.2" cy="113.1" r="1.9" fill="#000"/>
<circle cx="464.2" cy="111.0" r="1.9" fill="#000"/>
<circle cx="474.2" cy="116.8" r="1.9" fill="#000"/>
<circle cx="484.2" cy="121.7" r="1.9" fill="#000"/>
<circle cx="494.1" cy="107.3" r="1.9" fill="#000"/>
<circle cx="504.1" cy="111.2" r="1.9" fill="#000"/>
<circle cx="514.1" cy="106.0" r="1.9" fill="#000"/>
<circle cx="524.1" cy="112.0" r="1.9" fill="#000"/>
<circle cx="534.0" cy="117.8" r="1.9" fill="#000"/>
<circle cx="544.0" cy="117.3" r="1.9" fill="#000"/>
<circle cx="554.0" cy="121.0" r="1.9" fill="#000"/>
<circle cx="563.9" cy="117.3" r="1.9" fill="#000"/>
<circle cx="573.9" cy="119.1" r="1.9" fill="#000"/>
<circle cx="583.9" cy="117.8" r="1.9" fill="#000"/>
<circle cx="593.9" cy="121.7" r="1.9" fill="#000"/>
<circle cx="603.8" cy="114.7" r="1.9" fill="#000"/>
<circle cx="613.8" cy="111.2" r="1.9" fill="#000"/>
<circle cx="623.8" cy="109.4" r="1.9" fill="#000"/>
<circle cx="633.8" cy="113.1" r="1.9" fill="#000"/>
<circle cx="643.7" cy="114.4" r="1.9" fill="#000"/>
<circle cx="653.7" cy="111.2" r="1.9" fill="#000"/>
<path d="M394.4,79.1L404.4,78.5L414.3,102.2L424.3,125.3L434.3,103.9L444.3,72.3L454.2,36.2L464.2,56.5L474.2,72.3L484.2,75.4L494.1,76.3L504.1,77.9" fill="none" stroke="#222" stroke-width="0.9" stroke-linejoin="round"/>
<rect x="392.4" y="77.1" width="4.0" height="4.0" fill="#000"/>
<rect x="402.4" y="76.5" width="4.0" height="4.0" fill="#000"/>
<rect x="412.3" y="100.2" width="4.0" height="4.0" fill="#000"/>
<rect x="422.3" y="123.3" width="4.0" height="4.0" fill="#000"/>
<rect x="432.3" y="101.9" width="4.0" height="4.0" fill="#000"/>
<rect x="442.3" y="70.3" width="4.0" height="4.0" fill="#000"/>
<rect x="452.2" y="34.2" width="4.0" height="4.0" fill="#000"/>
<rect x="462.2" y="54.5" width="4.0" height="4.0" fill="#000"/>
<rect x="472.2" y="70.3" width="4.0" height="4.0" fill="#000"/>
<rect x="482.2" y="73.4" width="4.0" height="4.0" fill="#000"/>
<rect x="492.1" y="74.3" width="4.0" height="4.0" fill="#000"/>
<rect x="502.1" y="75.9" width="4.0" height="4.0" fill="#000"/>
<path d="M394.4,94.6L404.4,103.9L414.3,113.6L424.3,115.3L434.3,113.6L444.3,121.5L454.2,116.8L464.2,118.2L474.2,118.5L484.2,121.7L494.1,121.7L504.1,122.5L514.1,122.5L524.1,123.1L534.0,123.1L544.0,122.5L554.0,122.5L563.9,125.7L573.9,123.1" fill="none" stroke="#111" stroke-width="1.7" stroke-dasharray="6,3.2" stroke-linejoin="round"/>
<circle cx="394.4" cy="94.6" r="2.1" fill="#fff" stroke="#000" stroke-width="0.8"/>
<circle cx="404.4" cy="103.9" r="2.1" fill="#fff" stroke="#000" stroke-width="0.8"/>
<circle cx="414.3" cy="113.6" r="2.1" fill="#fff" stroke="#000" stroke-width="0.8"/>
<circle cx="424.3" cy="115.3" r="2.1" fill="#fff" stroke="#000" stroke-width="0.8"/>
<circle cx="434.3" cy="113.6" r="2.1" fill="#fff" stroke="#000" stroke-width="0.8"/>
<circle cx="444.3" cy="121.5" r="2.1" fill="#fff" stroke="#000" stroke-width="0.8"/>
<circle cx="454.2" cy="116.8" r="2.1" fill="#fff" stroke="#000" stroke-width="0.8"/>
<circle cx="464.2" cy="118.2" r="2.1" fill="#fff" stroke="#000" stroke-width="0.8"/>
<circle cx="474.2" cy="118.5" r="2.1" fill="#fff" stroke="#000" stroke-width="0.8"/>
<circle cx="484.2" cy="121.7" r="2.1" fill="#fff" stroke="#000" stroke-width="0.8"/>
<circle cx="494.1" cy="121.7" r="2.1" fill="#fff" stroke="#000" stroke-width="0.8"/>
<circle cx="504.1" cy="122.5" r="2.1" fill="#fff" stroke="#000" stroke-width="0.8"/>
<circle cx="514.1" cy="122.5" r="2.1" fill="#fff" stroke="#000" stroke-width="0.8"/>
<circle cx="524.1" cy="123.1" r="2.1" fill="#fff" stroke="#000" stroke-width="0.8"/>
<circle cx="534.0" cy="123.1" r="2.1" fill="#fff" stroke="#000" stroke-width="0.8"/>
<circle cx="544.0" cy="122.5" r="2.1" fill="#fff" stroke="#000" stroke-width="0.8"/>
<circle cx="554.0" cy="122.5" r="2.1" fill="#fff" stroke="#000" stroke-width="0.8"/>
<circle cx="563.9" cy="125.7" r="2.1" fill="#fff" stroke="#000" stroke-width="0.8"/>
<circle cx="573.9" cy="123.1" r="2.1" fill="#fff" stroke="#000" stroke-width="0.8"/>
<line x1="389.4" y1="181" x2="389.4" y2="308.0" stroke="#555" stroke-width="1.4"/>
<line x1="386.4" y1="308.0" x2="657.5" y2="308.0" stroke="#707070" stroke-width="1.2"/>
<line x1="386.2" y1="181.0" x2="392.0" y2="181.0" stroke="#555" stroke-width="1.1"/>
<text transform="translate(378.4,181.0) rotate(-90)" text-anchor="middle" font-size="11.6" font-weight="bold" >1.45</text>
<line x1="386.2" y1="223.33333333333326" x2="392.0" y2="223.33333333333326" stroke="#555" stroke-width="1.1"/>
<text transform="translate(378.4,223.3) rotate(-90)" text-anchor="middle" font-size="11.6" font-weight="bold" >1.35</text>
<line x1="386.2" y1="265.66666666666663" x2="392.0" y2="265.66666666666663" stroke="#555" stroke-width="1.1"/>
<text transform="translate(378.4,265.7) rotate(-90)" text-anchor="middle" font-size="11.6" font-weight="bold" >1.25</text>
<line x1="386.2" y1="308.0" x2="392.0" y2="308.0" stroke="#555" stroke-width="1.1"/>
<text transform="translate(378.4,308.0) rotate(-90)" text-anchor="middle" font-size="11.6" font-weight="bold" >1.15</text>
<line x1="399.3" y1="306.2" x2="399.3" y2="309.8" stroke="#555" stroke-width="0.9"/>
<line x1="409.3" y1="306.2" x2="409.3" y2="309.8" stroke="#555" stroke-width="0.9"/>
<line x1="419.2" y1="306.2" x2="419.2" y2="309.8" stroke="#555" stroke-width="0.9"/>
<line x1="429.1" y1="306.2" x2="429.1" y2="309.8" stroke="#555" stroke-width="0.9"/>
<line x1="439.0" y1="306.2" x2="439.0" y2="309.8" stroke="#555" stroke-width="0.9"/>
<line x1="449.0" y1="306.2" x2="449.0" y2="309.8" stroke="#555" stroke-width="0.9"/>
<line x1="458.9" y1="306.2" x2="458.9" y2="309.8" stroke="#555" stroke-width="0.9"/>
<line x1="468.8" y1="306.2" x2="468.8" y2="309.8" stroke="#555" stroke-width="0.9"/>
<line x1="478.8" y1="306.2" x2="478.8" y2="309.8" stroke="#555" stroke-width="0.9"/>
<line x1="488.7" y1="306.2" x2="488.7" y2="309.8" stroke="#555" stroke-width="0.9"/>
<line x1="498.6" y1="306.2" x2="498.6" y2="309.8" stroke="#555" stroke-width="0.9"/>
<line x1="508.6" y1="306.2" x2="508.6" y2="309.8" stroke="#555" stroke-width="0.9"/>
<line x1="518.5" y1="306.2" x2="518.5" y2="309.8" stroke="#555" stroke-width="0.9"/>
<line x1="528.4" y1="306.2" x2="528.4" y2="309.8" stroke="#555" stroke-width="0.9"/>
<line x1="538.3" y1="306.2" x2="538.3" y2="309.8" stroke="#555" stroke-width="0.9"/>
<line x1="548.3" y1="306.2" x2="548.3" y2="309.8" stroke="#555" stroke-width="0.9"/>
<line x1="558.2" y1="306.2" x2="558.2" y2="309.8" stroke="#555" stroke-width="0.9"/>
<line x1="568.1" y1="306.2" x2="568.1" y2="309.8" stroke="#555" stroke-width="0.9"/>
<line x1="578.1" y1="306.2" x2="578.1" y2="309.8" stroke="#555" stroke-width="0.9"/>
<line x1="588.0" y1="306.2" x2="588.0" y2="309.8" stroke="#555" stroke-width="0.9"/>
<line x1="597.9" y1="306.2" x2="597.9" y2="309.8" stroke="#555" stroke-width="0.9"/>
<line x1="607.9" y1="306.2" x2="607.9" y2="309.8" stroke="#555" stroke-width="0.9"/>
<line x1="617.8" y1="306.2" x2="617.8" y2="309.8" stroke="#555" stroke-width="0.9"/>
<line x1="627.7" y1="306.2" x2="627.7" y2="309.8" stroke="#555" stroke-width="0.9"/>
<line x1="637.6" y1="306.2" x2="637.6" y2="309.8" stroke="#555" stroke-width="0.9"/>
<line x1="647.6" y1="306.2" x2="647.6" y2="309.8" stroke="#555" stroke-width="0.9"/>
<text transform="translate(397.5,311.3) rotate(-90)" text-anchor="end" font-size="11.6" font-weight="bold" >0</text>
<text transform="translate(457.1,311.3) rotate(-90)" text-anchor="end" font-size="11.6" font-weight="bold" >50</text>
<text transform="translate(506.4,311.3) rotate(-90)" text-anchor="end" font-size="11.6" font-weight="bold" >100</text>
<text transform="translate(555.3,311.3) rotate(-90)" text-anchor="end" font-size="11.6" font-weight="bold" >150</text>
<text transform="translate(594.5,311.3) rotate(-90)" text-anchor="end" font-size="11.6" font-weight="bold" >200</text>
<text transform="translate(633.7,311.3) rotate(-90)" text-anchor="end" font-size="11.6" font-weight="bold" >300</text>
<text transform="translate(659.8,311.3) rotate(-90)" text-anchor="end" font-size="11.6" font-weight="bold" >350</text>
<path d="M394.4,236.3L404.3,195.1L414.2,194.0L424.2,193.2L434.1,205.7L444.0,218.1L453.9,206.0L463.9,258.9L473.8,269.9L483.7,268.4L493.7,269.6" fill="none" stroke="#222" stroke-width="0.9" stroke-dasharray="4,2" stroke-linejoin="round"/>
<path d="M394.4,234.0L396.7,238.1L392.1,238.1Z" fill="#000"/>
<path d="M404.3,192.8L406.6,196.9L402.0,196.9Z" fill="#000"/>
<path d="M414.2,191.7L416.5,195.8L411.9,195.8Z" fill="#000"/>
<path d="M424.2,190.9L426.5,195.0L421.9,195.0Z" fill="#000"/>
<path d="M434.1,203.4L436.4,207.5L431.8,207.5Z" fill="#000"/>
<path d="M444.0,215.8L446.3,219.9L441.7,219.9Z" fill="#000"/>
<path d="M453.9,203.7L456.2,207.8L451.6,207.8Z" fill="#000"/>
<path d="M463.9,256.6L466.2,260.7L461.6,260.7Z" fill="#000"/>
<path d="M473.8,267.6L476.1,271.7L471.5,271.7Z" fill="#000"/>
<path d="M483.7,266.1L486.0,270.2L481.4,270.2Z" fill="#000"/>
<path d="M493.7,267.3L496.0,271.4L491.4,271.4Z" fill="#000"/>
<path d="M394.4,234.9L404.3,271.4L414.2,231.9L424.2,267.0L434.1,268.4L444.0,272.8L453.9,280.4L463.9,254.6" fill="none" stroke="#222" stroke-width="0.9" stroke-dasharray="2,1.5" stroke-linejoin="round"/>
<path d="M394.4,233.0L396.3,236.4L392.5,236.4Z" fill="#fff" stroke="#000" stroke-width="0.7"/>
<path d="M404.3,269.5L406.2,272.9L402.4,272.9Z" fill="#fff" stroke="#000" stroke-width="0.7"/>
<path d="M414.2,230.0L416.1,233.4L412.3,233.4Z" fill="#fff" stroke="#000" stroke-width="0.7"/>
<path d="M424.2,265.1L426.1,268.5L422.3,268.5Z" fill="#fff" stroke="#000" stroke-width="0.7"/>
<path d="M434.1,266.5L436.0,269.9L432.2,269.9Z" fill="#fff" stroke="#000" stroke-width="0.7"/>
<path d="M444.0,270.9L445.9,274.3L442.1,274.3Z" fill="#fff" stroke="#000" stroke-width="0.7"/>
<path d="M453.9,278.5L455.8,281.9L452.0,281.9Z" fill="#fff" stroke="#000" stroke-width="0.7"/>
<path d="M463.9,252.7L465.8,256.1L462.0,256.1Z" fill="#fff" stroke="#000" stroke-width="0.7"/>
<path d="M394.4,245.0L404.3,258.9L414.2,253.1L424.2,248.7L434.1,257.5L444.0,261.1L453.9,266.7L463.9,262.0L473.8,269.9" fill="none" stroke="#222" stroke-width="0.9" stroke-linejoin="round"/>
<rect x="392.4" y="243.0" width="4.0" height="4.0" fill="#000"/>
<rect x="402.3" y="256.9" width="4.0" height="4.0" fill="#000"/>
<rect x="412.2" y="251.1" width="4.0" height="4.0" fill="#000"/>
<rect x="422.2" y="246.7" width="4.0" height="4.0" fill="#000"/>
<rect x="432.1" y="255.5" width="4.0" height="4.0" fill="#000"/>
<rect x="442.0" y="259.1" width="4.0" height="4.0" fill="#000"/>
<rect x="451.9" y="264.7" width="4.0" height="4.0" fill="#000"/>
<rect x="461.9" y="260.0" width="4.0" height="4.0" fill="#000"/>
<rect x="471.8" y="267.9" width="4.0" height="4.0" fill="#000"/>
<path d="M394.4,248.7L404.3,238.9L414.2,245.1L424.2,261.1L434.1,275.0L444.0,261.1L453.9,268.1L463.9,261.9L473.8,272.5L483.7,264.3L493.7,280.6L503.6,277.0L513.5,289.3L523.5,272.7L533.4,248.0L543.3,265.6L553.2,224.4L563.2,249.4L573.1,210.5L583.0,220.2L593.0,243.8L602.9,274.8L612.8,261.2L622.7,284.0L632.7,267.5" fill="none" stroke="#111" stroke-width="1.1" stroke-dasharray="1.2,1.3" stroke-linejoin="round"/>
<rect x="392.4" y="246.8" width="3.9" height="3.9" fill="#fff" stroke="#000" stroke-width="0.75"/>
<rect x="402.3" y="237.0" width="3.9" height="3.9" fill="#fff" stroke="#000" stroke-width="0.75"/>
<rect x="412.3" y="243.2" width="3.9" height="3.9" fill="#fff" stroke="#000" stroke-width="0.75"/>
<rect x="422.2" y="259.2" width="3.9" height="3.9" fill="#fff" stroke="#000" stroke-width="0.75"/>
<rect x="432.1" y="273.1" width="3.9" height="3.9" fill="#fff" stroke="#000" stroke-width="0.75"/>
<rect x="442.1" y="259.2" width="3.9" height="3.9" fill="#fff" stroke="#000" stroke-width="0.75"/>
<rect x="452.0" y="266.2" width="3.9" height="3.9" fill="#fff" stroke="#000" stroke-width="0.75"/>
<rect x="461.9" y="259.9" width="3.9" height="3.9" fill="#fff" stroke="#000" stroke-width="0.75"/>
<rect x="471.9" y="270.6" width="3.9" height="3.9" fill="#fff" stroke="#000" stroke-width="0.75"/>
<rect x="481.8" y="262.4" width="3.9" height="3.9" fill="#fff" stroke="#000" stroke-width="0.75"/>
<rect x="491.7" y="278.7" width="3.9" height="3.9" fill="#fff" stroke="#000" stroke-width="0.75"/>
<rect x="501.6" y="275.1" width="3.9" height="3.9" fill="#fff" stroke="#000" stroke-width="0.75"/>
<rect x="511.6" y="287.4" width="3.9" height="3.9" fill="#fff" stroke="#000" stroke-width="0.75"/>
<rect x="521.5" y="270.8" width="3.9" height="3.9" fill="#fff" stroke="#000" stroke-width="0.75"/>
<rect x="531.4" y="246.1" width="3.9" height="3.9" fill="#fff" stroke="#000" stroke-width="0.75"/>
<rect x="541.4" y="263.7" width="3.9" height="3.9" fill="#fff" stroke="#000" stroke-width="0.75"/>
<rect x="551.3" y="222.5" width="3.9" height="3.9" fill="#fff" stroke="#000" stroke-width="0.75"/>
<rect x="561.2" y="247.5" width="3.9" height="3.9" fill="#fff" stroke="#000" stroke-width="0.75"/>
<rect x="571.1" y="208.6" width="3.9" height="3.9" fill="#fff" stroke="#000" stroke-width="0.75"/>
<rect x="581.1" y="218.2" width="3.9" height="3.9" fill="#fff" stroke="#000" stroke-width="0.75"/>
<rect x="591.0" y="241.9" width="3.9" height="3.9" fill="#fff" stroke="#000" stroke-width="0.75"/>
<rect x="600.9" y="272.9" width="3.9" height="3.9" fill="#fff" stroke="#000" stroke-width="0.75"/>
<rect x="610.9" y="259.2" width="3.9" height="3.9" fill="#fff" stroke="#000" stroke-width="0.75"/>
<rect x="620.8" y="282.1" width="3.9" height="3.9" fill="#fff" stroke="#000" stroke-width="0.75"/>
<rect x="630.7" y="265.6" width="3.9" height="3.9" fill="#fff" stroke="#000" stroke-width="0.75"/>
<path d="M394.4,280.8L404.3,268.4L414.2,203.9L424.2,240.7L434.1,222.9L444.0,203.5L453.9,199.8L463.9,210.3L473.8,212.7L483.7,238.5L493.7,223.6L503.6,232.3L513.5,242.0L523.5,243.8L533.4,229.7L543.3,249.4L553.2,238.1L563.2,216.5L573.1,204.7L583.0,210.5L593.0,213.9L602.9,220.2L612.8,228.3L622.7,229.4L632.7,253.3L642.6,271.7L652.5,268.3" fill="none" stroke="#3c3c3c" stroke-width="2.2" stroke-linejoin="round"/>
<path d="M394.4,280.8L404.3,268.4L414.2,203.9L424.2,240.7L434.1,222.9L444.0,203.5L453.9,199.8L463.9,210.3L473.8,212.7L483.7,238.5L493.7,223.6L503.6,232.3L513.5,242.0L523.5,243.8L533.4,229.7L543.3,249.4L553.2,238.1L563.2,216.5L573.1,204.7L583.0,210.5L593.0,213.9L602.9,220.2L612.8,228.3L622.7,229.4L632.7,253.3L642.6,271.7L652.5,268.3" fill="none" stroke="#7a7a7a" stroke-width="0.8" stroke-linejoin="round"/>
<circle cx="394.4" cy="280.8" r="1.9" fill="#000"/>
<circle cx="404.3" cy="268.4" r="1.9" fill="#000"/>
<circle cx="414.2" cy="203.9" r="1.9" fill="#000"/>
<circle cx="424.2" cy="240.7" r="1.9" fill="#000"/>
<circle cx="434.1" cy="222.9" r="1.9" fill="#000"/>
<circle cx="444.0" cy="203.5" r="1.9" fill="#000"/>
<circle cx="453.9" cy="199.8" r="1.9" fill="#000"/>
<circle cx="463.9" cy="210.3" r="1.9" fill="#000"/>
<circle cx="473.8" cy="212.7" r="1.9" fill="#000"/>
<circle cx="483.7" cy="238.5" r="1.9" fill="#000"/>
<circle cx="493.7" cy="223.6" r="1.9" fill="#000"/>
<circle cx="503.6" cy="232.3" r="1.9" fill="#000"/>
<circle cx="513.5" cy="242.0" r="1.9" fill="#000"/>
<circle cx="523.5" cy="243.8" r="1.9" fill="#000"/>
<circle cx="533.4" cy="229.7" r="1.9" fill="#000"/>
<circle cx="543.3" cy="249.4" r="1.9" fill="#000"/>
<circle cx="553.2" cy="238.1" r="1.9" fill="#000"/>
<circle cx="563.2" cy="216.5" r="1.9" fill="#000"/>
<circle cx="573.1" cy="204.7" r="1.9" fill="#000"/>
<circle cx="583.0" cy="210.5" r="1.9" fill="#000"/>
<circle cx="593.0" cy="213.9" r="1.9" fill="#000"/>
<circle cx="602.9" cy="220.2" r="1.9" fill="#000"/>
<circle cx="612.8" cy="228.3" r="1.9" fill="#000"/>
<circle cx="622.7" cy="229.4" r="1.9" fill="#000"/>
<circle cx="632.7" cy="253.3" r="1.9" fill="#000"/>
<circle cx="642.6" cy="271.7" r="1.9" fill="#000"/>
<circle cx="652.5" cy="268.3" r="1.9" fill="#000"/>
<path d="M394.4,242.9L404.3,207.8L414.2,212.2L424.2,238.9L434.1,228.7L444.0,243.3L453.9,245.4L463.9,245.8L473.8,243.6L483.7,236.5L493.7,240.2L503.6,237.5L513.5,235.4L523.5,243.8L533.4,247.3L543.3,301.9L553.2,286.7L563.2,285.4L573.1,281.4" fill="none" stroke="#111" stroke-width="1.7" stroke-dasharray="6,3.2" stroke-linejoin="round"/>
<circle cx="394.4" cy="242.9" r="2.1" fill="#fff" stroke="#000" stroke-width="0.8"/>
<circle cx="404.3" cy="207.8" r="2.1" fill="#fff" stroke="#000" stroke-width="0.8"/>
<circle cx="414.2" cy="212.2" r="2.1" fill="#fff" stroke="#000" stroke-width="0.8"/>
<circle cx="424.2" cy="238.9" r="2.1" fill="#fff" stroke="#000" stroke-width="0.8"/>
<circle cx="434.1" cy="228.7" r="2.1" fill="#fff" stroke="#000" stroke-width="0.8"/>
<circle cx="444.0" cy="243.3" r="2.1" fill="#fff" stroke="#000" stroke-width="0.8"/>
<circle cx="453.9" cy="245.4" r="2.1" fill="#fff" stroke="#000" stroke-width="0.8"/>
<circle cx="463.9" cy="245.8" r="2.1" fill="#fff" stroke="#000" stroke-width="0.8"/>
<circle cx="473.8" cy="243.6" r="2.1" fill="#fff" stroke="#000" stroke-width="0.8"/>
<circle cx="483.7" cy="236.5" r="2.1" fill="#fff" stroke="#000" stroke-width="0.8"/>
<circle cx="493.7" cy="240.2" r="2.1" fill="#fff" stroke="#000" stroke-width="0.8"/>
<circle cx="503.6" cy="237.5" r="2.1" fill="#fff" stroke="#000" stroke-width="0.8"/>
<circle cx="513.5" cy="235.4" r="2.1" fill="#fff" stroke="#000" stroke-width="0.8"/>
<circle cx="523.5" cy="243.8" r="2.1" fill="#fff" stroke="#000" stroke-width="0.8"/>
<circle cx="533.4" cy="247.3" r="2.1" fill="#fff" stroke="#000" stroke-width="0.8"/>
<circle cx="543.3" cy="301.9" r="2.1" fill="#fff" stroke="#000" stroke-width="0.8"/>
<circle cx="553.2" cy="286.7" r="2.1" fill="#fff" stroke="#000" stroke-width="0.8"/>
<circle cx="563.2" cy="285.4" r="2.1" fill="#fff" stroke="#000" stroke-width="0.8"/>
<circle cx="573.1" cy="281.4" r="2.1" fill="#fff" stroke="#000" stroke-width="0.8"/>
<line x1="389.4" y1="354.3" x2="389.4" y2="481.0" stroke="#555" stroke-width="1.4"/>
<line x1="386.4" y1="481.0" x2="656.0" y2="481.0" stroke="#707070" stroke-width="1.2"/>
<line x1="386.2" y1="362.0" x2="392.0" y2="362.0" stroke="#555" stroke-width="1.1"/>
<text transform="translate(378.4,362.0) rotate(-90)" text-anchor="middle" font-size="11.6" font-weight="bold" >72</text>
<line x1="386.2" y1="391.75" x2="392.0" y2="391.75" stroke="#555" stroke-width="1.1"/>
<text transform="translate(378.4,391.8) rotate(-90)" text-anchor="middle" font-size="11.6" font-weight="bold" >57</text>
<line x1="386.2" y1="421.5" x2="392.0" y2="421.5" stroke="#555" stroke-width="1.1"/>
<text transform="translate(378.4,421.5) rotate(-90)" text-anchor="middle" font-size="11.6" font-weight="bold" >42</text>
<line x1="386.2" y1="451.25" x2="392.0" y2="451.25" stroke="#555" stroke-width="1.1"/>
<text transform="translate(378.4,451.2) rotate(-90)" text-anchor="middle" font-size="11.6" font-weight="bold" >27</text>
<line x1="386.2" y1="481.0" x2="392.0" y2="481.0" stroke="#555" stroke-width="1.1"/>
<text transform="translate(378.4,481.0) rotate(-90)" text-anchor="middle" font-size="11.6" font-weight="bold" >12</text>
<line x1="399.3" y1="479.2" x2="399.3" y2="482.8" stroke="#555" stroke-width="0.9"/>
<line x1="409.1" y1="479.2" x2="409.1" y2="482.8" stroke="#555" stroke-width="0.9"/>
<line x1="419.0" y1="479.2" x2="419.0" y2="482.8" stroke="#555" stroke-width="0.9"/>
<line x1="428.9" y1="479.2" x2="428.9" y2="482.8" stroke="#555" stroke-width="0.9"/>
<line x1="438.8" y1="479.2" x2="438.8" y2="482.8" stroke="#555" stroke-width="0.9"/>
<line x1="448.6" y1="479.2" x2="448.6" y2="482.8" stroke="#555" stroke-width="0.9"/>
<line x1="458.5" y1="479.2" x2="458.5" y2="482.8" stroke="#555" stroke-width="0.9"/>
<line x1="468.4" y1="479.2" x2="468.4" y2="482.8" stroke="#555" stroke-width="0.9"/>
<line x1="478.3" y1="479.2" x2="478.3" y2="482.8" stroke="#555" stroke-width="0.9"/>
<line x1="488.1" y1="479.2" x2="488.1" y2="482.8" stroke="#555" stroke-width="0.9"/>
<line x1="498.0" y1="479.2" x2="498.0" y2="482.8" stroke="#555" stroke-width="0.9"/>
<line x1="507.9" y1="479.2" x2="507.9" y2="482.8" stroke="#555" stroke-width="0.9"/>
<line x1="517.8" y1="479.2" x2="517.8" y2="482.8" stroke="#555" stroke-width="0.9"/>
<line x1="527.6" y1="479.2" x2="527.6" y2="482.8" stroke="#555" stroke-width="0.9"/>
<line x1="537.5" y1="479.2" x2="537.5" y2="482.8" stroke="#555" stroke-width="0.9"/>
<line x1="547.4" y1="479.2" x2="547.4" y2="482.8" stroke="#555" stroke-width="0.9"/>
<line x1="557.3" y1="479.2" x2="557.3" y2="482.8" stroke="#555" stroke-width="0.9"/>
<line x1="567.1" y1="479.2" x2="567.1" y2="482.8" stroke="#555" stroke-width="0.9"/>
<line x1="577.0" y1="479.2" x2="577.0" y2="482.8" stroke="#555" stroke-width="0.9"/>
<line x1="586.9" y1="479.2" x2="586.9" y2="482.8" stroke="#555" stroke-width="0.9"/>
<line x1="596.8" y1="479.2" x2="596.8" y2="482.8" stroke="#555" stroke-width="0.9"/>
<line x1="606.6" y1="479.2" x2="606.6" y2="482.8" stroke="#555" stroke-width="0.9"/>
<line x1="616.5" y1="479.2" x2="616.5" y2="482.8" stroke="#555" stroke-width="0.9"/>
<line x1="626.4" y1="479.2" x2="626.4" y2="482.8" stroke="#555" stroke-width="0.9"/>
<line x1="636.3" y1="479.2" x2="636.3" y2="482.8" stroke="#555" stroke-width="0.9"/>
<line x1="646.1" y1="479.2" x2="646.1" y2="482.8" stroke="#555" stroke-width="0.9"/>
<line x1="656.0" y1="479.2" x2="656.0" y2="482.8" stroke="#555" stroke-width="0.9"/>
<text transform="translate(397.5,484.3) rotate(-90)" text-anchor="end" font-size="11.6" font-weight="bold" >0</text>
<text transform="translate(457.1,484.3) rotate(-90)" text-anchor="end" font-size="11.6" font-weight="bold" >50</text>
<text transform="translate(506.4,484.3) rotate(-90)" text-anchor="end" font-size="11.6" font-weight="bold" >100</text>
<text transform="translate(555.3,484.3) rotate(-90)" text-anchor="end" font-size="11.6" font-weight="bold" >150</text>
<text transform="translate(594.5,484.3) rotate(-90)" text-anchor="end" font-size="11.6" font-weight="bold" >200</text>
<text transform="translate(633.7,484.3) rotate(-90)" text-anchor="end" font-size="11.6" font-weight="bold" >300</text>
<text transform="translate(659.8,484.3) rotate(-90)" text-anchor="end" font-size="11.6" font-weight="bold" >350</text>
<path d="M394.3,471.7L404.2,458.6L414.1,466.2L424.0,458.1L433.8,464.0L443.7,447.2L453.6,460.3L463.5,461.1L473.3,462.0" fill="none" stroke="#222" stroke-width="0.9" stroke-dasharray="2,1.5" stroke-linejoin="round"/>
<path d="M394.3,469.8L396.2,473.2L392.4,473.2Z" fill="#fff" stroke="#000" stroke-width="0.7"/>
<path d="M404.2,456.7L406.1,460.1L402.3,460.1Z" fill="#fff" stroke="#000" stroke-width="0.7"/>
<path d="M414.1,464.3L416.0,467.7L412.2,467.7Z" fill="#fff" stroke="#000" stroke-width="0.7"/>
<path d="M424.0,456.2L425.9,459.6L422.1,459.6Z" fill="#fff" stroke="#000" stroke-width="0.7"/>
<path d="M433.8,462.1L435.7,465.5L431.9,465.5Z" fill="#fff" stroke="#000" stroke-width="0.7"/>
<path d="M443.7,445.3L445.6,448.7L441.8,448.7Z" fill="#fff" stroke="#000" stroke-width="0.7"/>
<path d="M453.6,458.4L455.5,461.8L451.7,461.8Z" fill="#fff" stroke="#000" stroke-width="0.7"/>
<path d="M463.5,459.2L465.4,462.6L461.6,462.6Z" fill="#fff" stroke="#000" stroke-width="0.7"/>
<path d="M473.3,460.1L475.2,463.5L471.4,463.5Z" fill="#fff" stroke="#000" stroke-width="0.7"/>
<path d="M394.3,399.0L404.2,391.7L414.1,407.0L424.0,404.1L433.8,458.1L443.7,429.7L453.6,410.7L463.5,458.1L473.3,457.1L483.2,460.3" fill="none" stroke="#222" stroke-width="0.9" stroke-dasharray="4,2" stroke-linejoin="round"/>
<path d="M394.3,396.7L396.6,400.8L392.0,400.8Z" fill="#000"/>
<path d="M404.2,389.4L406.5,393.5L401.9,393.5Z" fill="#000"/>
<path d="M414.1,404.7L416.4,408.8L411.8,408.8Z" fill="#000"/>
<path d="M424.0,401.8L426.3,405.9L421.7,405.9Z" fill="#000"/>
<path d="M433.8,455.8L436.1,459.9L431.5,459.9Z" fill="#000"/>
<path d="M443.7,427.4L446.0,431.5L441.4,431.5Z" fill="#000"/>
<path d="M453.6,408.4L455.9,412.5L451.3,412.5Z" fill="#000"/>
<path d="M463.5,455.8L465.8,459.9L461.2,459.9Z" fill="#000"/>
<path d="M473.3,454.8L475.6,458.9L471.0,458.9Z" fill="#000"/>
<path d="M483.2,458.0L485.5,462.1L480.9,462.1Z" fill="#000"/>
<path d="M394.3,400.2L404.2,356.0L414.1,395.8L424.0,434.8L433.8,429.4L443.7,423.5L453.6,416.5L463.5,429.4L473.3,447.2L483.2,460.3" fill="none" stroke="#222" stroke-width="0.9" stroke-linejoin="round"/>
<rect x="392.3" y="398.2" width="4.0" height="4.0" fill="#000"/>
<rect x="402.2" y="354.0" width="4.0" height="4.0" fill="#000"/>
<rect x="412.1" y="393.8" width="4.0" height="4.0" fill="#000"/>
<rect x="422.0" y="432.8" width="4.0" height="4.0" fill="#000"/>
<rect x="431.8" y="427.4" width="4.0" height="4.0" fill="#000"/>
<rect x="441.7" y="421.5" width="4.0" height="4.0" fill="#000"/>
<rect x="451.6" y="414.5" width="4.0" height="4.0" fill="#000"/>
<rect x="461.5" y="427.4" width="4.0" height="4.0" fill="#000"/>
<rect x="471.3" y="445.2" width="4.0" height="4.0" fill="#000"/>
<rect x="481.2" y="458.3" width="4.0" height="4.0" fill="#000"/>
<path d="M394.3,461.8L404.2,463.0L414.1,457.1L424.0,456.7L433.8,460.3L443.7,461.8L453.6,460.3L463.5,461.8L473.3,461.8L483.2,461.1L493.1,460.1L503.0,436.5L512.8,457.5L522.7,460.1L532.6,462.8L542.4,463.6L552.3,464.6L562.2,463.6L572.1,445.2L581.9,451.5L591.8,449.6L601.7,449.6L611.6,454.1L621.4,458.3L631.3,463.6" fill="none" stroke="#111" stroke-width="1.1" stroke-dasharray="1.2,1.3" stroke-linejoin="round"/>
<rect x="392.4" y="459.9" width="3.9" height="3.9" fill="#fff" stroke="#000" stroke-width="0.75"/>
<rect x="402.3" y="461.1" width="3.9" height="3.9" fill="#fff" stroke="#000" stroke-width="0.75"/>
<rect x="412.1" y="455.2" width="3.9" height="3.9" fill="#fff" stroke="#000" stroke-width="0.75"/>
<rect x="422.0" y="454.8" width="3.9" height="3.9" fill="#fff" stroke="#000" stroke-width="0.75"/>
<rect x="431.9" y="458.4" width="3.9" height="3.9" fill="#fff" stroke="#000" stroke-width="0.75"/>
<rect x="441.8" y="459.9" width="3.9" height="3.9" fill="#fff" stroke="#000" stroke-width="0.75"/>
<rect x="451.6" y="458.4" width="3.9" height="3.9" fill="#fff" stroke="#000" stroke-width="0.75"/>
<rect x="461.5" y="459.9" width="3.9" height="3.9" fill="#fff" stroke="#000" stroke-width="0.75"/>
<rect x="471.4" y="459.9" width="3.9" height="3.9" fill="#fff" stroke="#000" stroke-width="0.75"/>
<rect x="481.3" y="459.2" width="3.9" height="3.9" fill="#fff" stroke="#000" stroke-width="0.75"/>
<rect x="491.1" y="458.2" width="3.9" height="3.9" fill="#fff" stroke="#000" stroke-width="0.75"/>
<rect x="501.0" y="434.6" width="3.9" height="3.9" fill="#fff" stroke="#000" stroke-width="0.75"/>
<rect x="510.9" y="455.6" width="3.9" height="3.9" fill="#fff" stroke="#000" stroke-width="0.75"/>
<rect x="520.8" y="458.2" width="3.9" height="3.9" fill="#fff" stroke="#000" stroke-width="0.75"/>
<rect x="530.6" y="460.9" width="3.9" height="3.9" fill="#fff" stroke="#000" stroke-width="0.75"/>
<rect x="540.5" y="461.7" width="3.9" height="3.9" fill="#fff" stroke="#000" stroke-width="0.75"/>
<rect x="550.4" y="462.7" width="3.9" height="3.9" fill="#fff" stroke="#000" stroke-width="0.75"/>
<rect x="560.2" y="461.7" width="3.9" height="3.9" fill="#fff" stroke="#000" stroke-width="0.75"/>
<rect x="570.1" y="443.2" width="3.9" height="3.9" fill="#fff" stroke="#000" stroke-width="0.75"/>
<rect x="580.0" y="449.6" width="3.9" height="3.9" fill="#fff" stroke="#000" stroke-width="0.75"/>
<rect x="589.9" y="447.7" width="3.9" height="3.9" fill="#fff" stroke="#000" stroke-width="0.75"/>
<rect x="599.7" y="447.7" width="3.9" height="3.9" fill="#fff" stroke="#000" stroke-width="0.75"/>
<rect x="609.6" y="452.2" width="3.9" height="3.9" fill="#fff" stroke="#000" stroke-width="0.75"/>
<rect x="619.5" y="456.4" width="3.9" height="3.9" fill="#fff" stroke="#000" stroke-width="0.75"/>
<rect x="629.4" y="461.7" width="3.9" height="3.9" fill="#fff" stroke="#000" stroke-width="0.75"/>
<path d="M394.3,457.4L404.2,454.5L414.1,467.3L424.0,476.7L433.8,469.4L443.7,467.3L453.6,466.5L463.5,468.4L473.3,471.7L483.2,464.4L493.1,466.7L503.0,461.5L512.8,457.5L522.7,460.1L532.6,470.6L542.4,469.3L552.3,470.6L562.2,469.9L572.1,472.0L581.9,472.5L591.8,472.5L601.7,469.3L611.6,468.0L621.4,461.5L631.3,461.5L641.2,454.9L651.1,443.6" fill="none" stroke="#3c3c3c" stroke-width="2.2" stroke-linejoin="round"/>
<path d="M394.3,457.4L404.2,454.5L414.1,467.3L424.0,476.7L433.8,469.4L443.7,467.3L453.6,466.5L463.5,468.4L473.3,471.7L483.2,464.4L493.1,466.7L503.0,461.5L512.8,457.5L522.7,460.1L532.6,470.6L542.4,469.3L552.3,470.6L562.2,469.9L572.1,472.0L581.9,472.5L591.8,472.5L601.7,469.3L611.6,468.0L621.4,461.5L631.3,461.5L641.2,454.9L651.1,443.6" fill="none" stroke="#7a7a7a" stroke-width="0.8" stroke-linejoin="round"/>
<circle cx="394.3" cy="457.4" r="1.9" fill="#000"/>
<circle cx="404.2" cy="454.5" r="1.9" fill="#000"/>
<circle cx="414.1" cy="467.3" r="1.9" fill="#000"/>
<circle cx="424.0" cy="476.7" r="1.9" fill="#000"/>
<circle cx="433.8" cy="469.4" r="1.9" fill="#000"/>
<circle cx="443.7" cy="467.3" r="1.9" fill="#000"/>
<circle cx="453.6" cy="466.5" r="1.9" fill="#000"/>
<circle cx="463.5" cy="468.4" r="1.9" fill="#000"/>
<circle cx="473.3" cy="471.7" r="1.9" fill="#000"/>
<circle cx="483.2" cy="464.4" r="1.9" fill="#000"/>
<circle cx="493.1" cy="466.7" r="1.9" fill="#000"/>
<circle cx="503.0" cy="461.5" r="1.9" fill="#000"/>
<circle cx="512.8" cy="457.5" r="1.9" fill="#000"/>
<circle cx="522.7" cy="460.1" r="1.9" fill="#000"/>
<circle cx="532.6" cy="470.6" r="1.9" fill="#000"/>
<circle cx="542.4" cy="469.3" r="1.9" fill="#000"/>
<circle cx="552.3" cy="470.6" r="1.9" fill="#000"/>
<circle cx="562.2" cy="469.9" r="1.9" fill="#000"/>
<circle cx="572.1" cy="472.0" r="1.9" fill="#000"/>
<circle cx="581.9" cy="472.5" r="1.9" fill="#000"/>
<circle cx="591.8" cy="472.5" r="1.9" fill="#000"/>
<circle cx="601.7" cy="469.3" r="1.9" fill="#000"/>
<circle cx="611.6" cy="468.0" r="1.9" fill="#000"/>
<circle cx="621.4" cy="461.5" r="1.9" fill="#000"/>
<circle cx="631.3" cy="461.5" r="1.9" fill="#000"/>
<circle cx="641.2" cy="454.9" r="1.9" fill="#000"/>
<circle cx="651.1" cy="443.6" r="1.9" fill="#000"/>
<path d="M394.3,465.4L404.2,471.7L414.1,473.5L424.0,471.3L434.3,482.0L443.7,467.3L453.6,469.8L463.5,467.9L473.3,468.8L483.2,467.4L493.1,468.0L503.0,468.8L512.8,468.8L522.7,464.6L532.6,465.4L542.4,458.3L552.3,461.5L562.2,460.0L572.1,455.7" fill="none" stroke="#111" stroke-width="1.7" stroke-dasharray="6,3.2" stroke-linejoin="round"/>
<circle cx="394.3" cy="465.4" r="2.1" fill="#fff" stroke="#000" stroke-width="0.8"/>
<circle cx="404.2" cy="471.7" r="2.1" fill="#fff" stroke="#000" stroke-width="0.8"/>
<circle cx="414.1" cy="473.5" r="2.1" fill="#fff" stroke="#000" stroke-width="0.8"/>
<circle cx="424.0" cy="471.3" r="2.1" fill="#fff" stroke="#000" stroke-width="0.8"/>
<circle cx="443.7" cy="467.3" r="2.1" fill="#fff" stroke="#000" stroke-width="0.8"/>
<circle cx="453.6" cy="469.8" r="2.1" fill="#fff" stroke="#000" stroke-width="0.8"/>
<circle cx="463.5" cy="467.9" r="2.1" fill="#fff" stroke="#000" stroke-width="0.8"/>
<circle cx="473.3" cy="468.8" r="2.1" fill="#fff" stroke="#000" stroke-width="0.8"/>
<circle cx="483.2" cy="467.4" r="2.1" fill="#fff" stroke="#000" stroke-width="0.8"/>
<circle cx="493.1" cy="468.0" r="2.1" fill="#fff" stroke="#000" stroke-width="0.8"/>
<circle cx="503.0" cy="468.8" r="2.1" fill="#fff" stroke="#000" stroke-width="0.8"/>
<circle cx="512.8" cy="468.8" r="2.1" fill="#fff" stroke="#000" stroke-width="0.8"/>
<circle cx="522.7" cy="464.6" r="2.1" fill="#fff" stroke="#000" stroke-width="0.8"/>
<circle cx="532.6" cy="465.4" r="2.1" fill="#fff" stroke="#000" stroke-width="0.8"/>
<circle cx="542.4" cy="458.3" r="2.1" fill="#fff" stroke="#000" stroke-width="0.8"/>
<circle cx="552.3" cy="461.5" r="2.1" fill="#fff" stroke="#000" stroke-width="0.8"/>
<circle cx="562.2" cy="460.0" r="2.1" fill="#fff" stroke="#000" stroke-width="0.8"/>
<circle cx="572.1" cy="455.7" r="2.1" fill="#fff" stroke="#000" stroke-width="0.8"/>
<line x1="389.4" y1="526.3" x2="389.4" y2="652.6" stroke="#555" stroke-width="1.4"/>
<line x1="386.4" y1="652.6" x2="656.3" y2="652.6" stroke="#707070" stroke-width="1.2"/>
<line x1="386.2" y1="537.5" x2="392.0" y2="537.5" stroke="#555" stroke-width="1.1"/>
<text transform="translate(378.4,537.5) rotate(-90)" text-anchor="middle" font-size="11.6" font-weight="bold" >52</text>
<line x1="386.2" y1="560.52" x2="392.0" y2="560.52" stroke="#555" stroke-width="1.1"/>
<text transform="translate(378.4,560.5) rotate(-90)" text-anchor="middle" font-size="11.6" font-weight="bold" >48</text>
<line x1="386.2" y1="583.54" x2="392.0" y2="583.54" stroke="#555" stroke-width="1.1"/>
<text transform="translate(378.4,583.5) rotate(-90)" text-anchor="middle" font-size="11.6" font-weight="bold" >44</text>
<line x1="386.2" y1="606.5600000000001" x2="392.0" y2="606.5600000000001" stroke="#555" stroke-width="1.1"/>
<text transform="translate(378.4,606.6) rotate(-90)" text-anchor="middle" font-size="11.6" font-weight="bold" >40</text>
<line x1="386.2" y1="629.58" x2="392.0" y2="629.58" stroke="#555" stroke-width="1.1"/>
<text transform="translate(378.4,629.6) rotate(-90)" text-anchor="middle" font-size="11.6" font-weight="bold" >36</text>
<line x1="386.2" y1="652.6" x2="392.0" y2="652.6" stroke="#555" stroke-width="1.1"/>
<text transform="translate(378.4,652.6) rotate(-90)" text-anchor="middle" font-size="11.6" font-weight="bold" >32</text>
<line x1="399.3" y1="650.8000000000001" x2="399.3" y2="654.4" stroke="#555" stroke-width="0.9"/>
<line x1="409.2" y1="650.8000000000001" x2="409.2" y2="654.4" stroke="#555" stroke-width="0.9"/>
<line x1="419.1" y1="650.8000000000001" x2="419.1" y2="654.4" stroke="#555" stroke-width="0.9"/>
<line x1="428.9" y1="650.8000000000001" x2="428.9" y2="654.4" stroke="#555" stroke-width="0.9"/>
<line x1="438.8" y1="650.8000000000001" x2="438.8" y2="654.4" stroke="#555" stroke-width="0.9"/>
<line x1="448.7" y1="650.8000000000001" x2="448.7" y2="654.4" stroke="#555" stroke-width="0.9"/>
<line x1="458.6" y1="650.8000000000001" x2="458.6" y2="654.4" stroke="#555" stroke-width="0.9"/>
<line x1="468.5" y1="650.8000000000001" x2="468.5" y2="654.4" stroke="#555" stroke-width="0.9"/>
<line x1="478.4" y1="650.8000000000001" x2="478.4" y2="654.4" stroke="#555" stroke-width="0.9"/>
<line x1="488.3" y1="650.8000000000001" x2="488.3" y2="654.4" stroke="#555" stroke-width="0.9"/>
<line x1="498.1" y1="650.8000000000001" x2="498.1" y2="654.4" stroke="#555" stroke-width="0.9"/>
<line x1="508.0" y1="650.8000000000001" x2="508.0" y2="654.4" stroke="#555" stroke-width="0.9"/>
<line x1="517.9" y1="650.8000000000001" x2="517.9" y2="654.4" stroke="#555" stroke-width="0.9"/>
<line x1="527.8" y1="650.8000000000001" x2="527.8" y2="654.4" stroke="#555" stroke-width="0.9"/>
<line x1="537.7" y1="650.8000000000001" x2="537.7" y2="654.4" stroke="#555" stroke-width="0.9"/>
<line x1="547.6" y1="650.8000000000001" x2="547.6" y2="654.4" stroke="#555" stroke-width="0.9"/>
<line x1="557.4" y1="650.8000000000001" x2="557.4" y2="654.4" stroke="#555" stroke-width="0.9"/>
<line x1="567.3" y1="650.8000000000001" x2="567.3" y2="654.4" stroke="#555" stroke-width="0.9"/>
<line x1="577.2" y1="650.8000000000001" x2="577.2" y2="654.4" stroke="#555" stroke-width="0.9"/>
<line x1="587.1" y1="650.8000000000001" x2="587.1" y2="654.4" stroke="#555" stroke-width="0.9"/>
<line x1="597.0" y1="650.8000000000001" x2="597.0" y2="654.4" stroke="#555" stroke-width="0.9"/>
<line x1="606.9" y1="650.8000000000001" x2="606.9" y2="654.4" stroke="#555" stroke-width="0.9"/>
<line x1="616.8" y1="650.8000000000001" x2="616.8" y2="654.4" stroke="#555" stroke-width="0.9"/>
<line x1="626.6" y1="650.8000000000001" x2="626.6" y2="654.4" stroke="#555" stroke-width="0.9"/>
<line x1="636.5" y1="650.8000000000001" x2="636.5" y2="654.4" stroke="#555" stroke-width="0.9"/>
<line x1="646.4" y1="650.8000000000001" x2="646.4" y2="654.4" stroke="#555" stroke-width="0.9"/>
<line x1="656.3" y1="650.8000000000001" x2="656.3" y2="654.4" stroke="#555" stroke-width="0.9"/>
<text transform="translate(397.5,655.9) rotate(-90)" text-anchor="end" font-size="11.6" font-weight="bold" >0</text>
<text transform="translate(457.1,655.9) rotate(-90)" text-anchor="end" font-size="11.6" font-weight="bold" >50</text>
<text transform="translate(506.4,655.9) rotate(-90)" text-anchor="end" font-size="11.6" font-weight="bold" >100</text>
<text transform="translate(555.3,655.9) rotate(-90)" text-anchor="end" font-size="11.6" font-weight="bold" >150</text>
<text transform="translate(594.5,655.9) rotate(-90)" text-anchor="end" font-size="11.6" font-weight="bold" >200</text>
<text transform="translate(633.7,655.9) rotate(-90)" text-anchor="end" font-size="11.6" font-weight="bold" >300</text>
<text transform="translate(659.8,655.9) rotate(-90)" text-anchor="end" font-size="11.6" font-weight="bold" >350</text>
<path d="M394.3,652.8L404.2,584.2L414.1,577.7L424.0,590.1L433.9,583.5L443.8,565.3L453.7,578.1L463.5,553.6L473.4,557.7L483.3,556.5L493.2,558.9" fill="none" stroke="#222" stroke-width="0.9" stroke-dasharray="4,2" stroke-linejoin="round"/>
<path d="M394.3,650.5L396.6,654.6L392.0,654.6Z" fill="#000"/>
<path d="M404.2,581.9L406.5,586.0L401.9,586.0Z" fill="#000"/>
<path d="M414.1,575.4L416.4,579.5L411.8,579.5Z" fill="#000"/>
<path d="M424.0,587.8L426.3,591.9L421.7,591.9Z" fill="#000"/>
<path d="M433.9,581.2L436.2,585.3L431.6,585.3Z" fill="#000"/>
<path d="M443.8,563.0L446.1,567.1L441.5,567.1Z" fill="#000"/>
<path d="M453.7,575.8L456.0,579.9L451.4,579.9Z" fill="#000"/>
<path d="M463.5,551.3L465.8,555.4L461.2,555.4Z" fill="#000"/>
<path d="M473.4,555.4L475.7,559.5L471.1,559.5Z" fill="#000"/>
<path d="M483.3,554.2L485.6,558.3L481.0,558.3Z" fill="#000"/>
<path d="M493.2,556.6L495.5,560.7L490.9,560.7Z" fill="#000"/>
<path d="M394.3,568.5L404.2,562.3L414.1,558.2L424.0,564.5L433.9,559.4L443.8,536.4L453.7,553.6L463.5,550.4L473.4,557.7L483.3,556.2" fill="none" stroke="#222" stroke-width="0.9" stroke-dasharray="2,1.5" stroke-linejoin="round"/>
<path d="M394.3,566.6L396.2,570.0L392.4,570.0Z" fill="#fff" stroke="#000" stroke-width="0.7"/>
<path d="M404.2,560.4L406.1,563.8L402.3,563.8Z" fill="#fff" stroke="#000" stroke-width="0.7"/>
<path d="M414.1,556.3L416.0,559.7L412.2,559.7Z" fill="#fff" stroke="#000" stroke-width="0.7"/>
<path d="M424.0,562.6L425.9,566.0L422.1,566.0Z" fill="#fff" stroke="#000" stroke-width="0.7"/>
<path d="M433.9,557.5L435.8,560.9L432.0,560.9Z" fill="#fff" stroke="#000" stroke-width="0.7"/>
<path d="M443.8,534.5L445.7,537.9L441.9,537.9Z" fill="#fff" stroke="#000" stroke-width="0.7"/>
<path d="M453.7,551.7L455.6,555.1L451.8,555.1Z" fill="#fff" stroke="#000" stroke-width="0.7"/>
<path d="M463.5,548.5L465.4,551.9L461.6,551.9Z" fill="#fff" stroke="#000" stroke-width="0.7"/>
<path d="M473.4,555.8L475.3,559.2L471.5,559.2Z" fill="#fff" stroke="#000" stroke-width="0.7"/>
<path d="M483.3,554.3L485.2,557.7L481.4,557.7Z" fill="#fff" stroke="#000" stroke-width="0.7"/>
<path d="M394.3,605.0L404.2,558.7L414.1,547.7L424.0,551.8L433.9,550.0L443.8,548.0L453.7,562.0L463.5,553.0L473.4,556.0L483.3,556.0L493.2,554.7L503.1,566.8L513.0,561.5L522.8,555.5L532.7,559.9L542.6,560.7L552.5,588.8L562.4,561.5L572.3,560.2L582.2,558.9L592.0,556.3L601.9,553.6L611.8,562.0L621.7,557.6L631.6,558.9" fill="none" stroke="#111" stroke-width="1.1" stroke-dasharray="1.2,1.3" stroke-linejoin="round"/>
<rect x="392.4" y="603.0" width="3.9" height="3.9" fill="#fff" stroke="#000" stroke-width="0.75"/>
<rect x="402.3" y="556.8" width="3.9" height="3.9" fill="#fff" stroke="#000" stroke-width="0.75"/>
<rect x="412.2" y="545.8" width="3.9" height="3.9" fill="#fff" stroke="#000" stroke-width="0.75"/>
<rect x="422.0" y="549.8" width="3.9" height="3.9" fill="#fff" stroke="#000" stroke-width="0.75"/>
<rect x="431.9" y="548.0" width="3.9" height="3.9" fill="#fff" stroke="#000" stroke-width="0.75"/>
<rect x="441.8" y="546.0" width="3.9" height="3.9" fill="#fff" stroke="#000" stroke-width="0.75"/>
<rect x="451.7" y="560.0" width="3.9" height="3.9" fill="#fff" stroke="#000" stroke-width="0.75"/>
<rect x="461.6" y="551.0" width="3.9" height="3.9" fill="#fff" stroke="#000" stroke-width="0.75"/>
<rect x="471.5" y="554.0" width="3.9" height="3.9" fill="#fff" stroke="#000" stroke-width="0.75"/>
<rect x="481.4" y="554.0" width="3.9" height="3.9" fill="#fff" stroke="#000" stroke-width="0.75"/>
<rect x="491.2" y="552.8" width="3.9" height="3.9" fill="#fff" stroke="#000" stroke-width="0.75"/>
<rect x="501.1" y="564.8" width="3.9" height="3.9" fill="#fff" stroke="#000" stroke-width="0.75"/>
<rect x="511.0" y="559.5" width="3.9" height="3.9" fill="#fff" stroke="#000" stroke-width="0.75"/>
<rect x="520.9" y="553.5" width="3.9" height="3.9" fill="#fff" stroke="#000" stroke-width="0.75"/>
<rect x="530.8" y="557.9" width="3.9" height="3.9" fill="#fff" stroke="#000" stroke-width="0.75"/>
<rect x="540.7" y="558.8" width="3.9" height="3.9" fill="#fff" stroke="#000" stroke-width="0.75"/>
<rect x="550.6" y="586.8" width="3.9" height="3.9" fill="#fff" stroke="#000" stroke-width="0.75"/>
<rect x="560.4" y="559.5" width="3.9" height="3.9" fill="#fff" stroke="#000" stroke-width="0.75"/>
<rect x="570.3" y="558.2" width="3.9" height="3.9" fill="#fff" stroke="#000" stroke-width="0.75"/>
<rect x="580.2" y="556.9" width="3.9" height="3.9" fill="#fff" stroke="#000" stroke-width="0.75"/>
<rect x="590.1" y="554.3" width="3.9" height="3.9" fill="#fff" stroke="#000" stroke-width="0.75"/>
<rect x="600.0" y="551.6" width="3.9" height="3.9" fill="#fff" stroke="#000" stroke-width="0.75"/>
<rect x="609.9" y="560.0" width="3.9" height="3.9" fill="#fff" stroke="#000" stroke-width="0.75"/>
<rect x="619.8" y="555.6" width="3.9" height="3.9" fill="#fff" stroke="#000" stroke-width="0.75"/>
<rect x="629.6" y="556.9" width="3.9" height="3.9" fill="#fff" stroke="#000" stroke-width="0.75"/>
<path d="M394.3,562.3L404.2,551.8L414.1,549.2L424.0,555.8L433.9,547.0L443.8,542.2L453.7,541.6L463.5,542.6L473.4,539.3L483.3,542.0L493.2,547.1L503.1,545.5L513.0,548.9L522.8,545.0L532.7,543.6L542.6,538.9L552.5,538.4L562.4,539.7L572.3,543.6L582.2,546.8L592.0,543.1L601.9,544.4L611.8,547.6L621.7,546.3L631.6,550.2L641.5,554.2L651.4,548.4" fill="none" stroke="#3c3c3c" stroke-width="2.2" stroke-linejoin="round"/>
<path d="M394.3,562.3L404.2,551.8L414.1,549.2L424.0,555.8L433.9,547.0L443.8,542.2L453.7,541.6L463.5,542.6L473.4,539.3L483.3,542.0L493.2,547.1L503.1,545.5L513.0,548.9L522.8,545.0L532.7,543.6L542.6,538.9L552.5,538.4L562.4,539.7L572.3,543.6L582.2,546.8L592.0,543.1L601.9,544.4L611.8,547.6L621.7,546.3L631.6,550.2L641.5,554.2L651.4,548.4" fill="none" stroke="#7a7a7a" stroke-width="0.8" stroke-linejoin="round"/>
<circle cx="394.3" cy="562.3" r="1.9" fill="#000"/>
<circle cx="404.2" cy="551.8" r="1.9" fill="#000"/>
<circle cx="414.1" cy="549.2" r="1.9" fill="#000"/>
<circle cx="424.0" cy="555.8" r="1.9" fill="#000"/>
<circle cx="433.9" cy="547.0" r="1.9" fill="#000"/>
<circle cx="443.8" cy="542.2" r="1.9" fill="#000"/>
<circle cx="453.7" cy="541.6" r="1.9" fill="#000"/>
<circle cx="463.5" cy="542.6" r="1.9" fill="#000"/>
<circle cx="473.4" cy="539.3" r="1.9" fill="#000"/>
<circle cx="483.3" cy="542.0" r="1.9" fill="#000"/>
<circle cx="493.2" cy="547.1" r="1.9" fill="#000"/>
<circle cx="503.1" cy="545.5" r="1.9" fill="#000"/>
<circle cx="513.0" cy="548.9" r="1.9" fill="#000"/>
<circle cx="522.8" cy="545.0" r="1.9" fill="#000"/>
<circle cx="532.7" cy="543.6" r="1.9" fill="#000"/>
<circle cx="542.6" cy="538.9" r="1.9" fill="#000"/>
<circle cx="552.5" cy="538.4" r="1.9" fill="#000"/>
<circle cx="562.4" cy="539.7" r="1.9" fill="#000"/>
<circle cx="572.3" cy="543.6" r="1.9" fill="#000"/>
<circle cx="582.2" cy="546.8" r="1.9" fill="#000"/>
<circle cx="592.0" cy="543.1" r="1.9" fill="#000"/>
<circle cx="601.9" cy="544.4" r="1.9" fill="#000"/>
<circle cx="611.8" cy="547.6" r="1.9" fill="#000"/>
<circle cx="621.7" cy="546.3" r="1.9" fill="#000"/>
<circle cx="631.6" cy="550.2" r="1.9" fill="#000"/>
<circle cx="641.5" cy="554.2" r="1.9" fill="#000"/>
<circle cx="651.4" cy="548.4" r="1.9" fill="#000"/>
<path d="M394.3,588.3L404.2,584.2L414.1,564.5L424.0,540.7L433.9,554.7L443.8,560.6L447.1,652.6" fill="none" stroke="#222" stroke-width="0.9" stroke-linejoin="round"/>
<rect x="392.3" y="586.3" width="4.0" height="4.0" fill="#000"/>
<rect x="402.2" y="582.2" width="4.0" height="4.0" fill="#000"/>
<rect x="412.1" y="562.5" width="4.0" height="4.0" fill="#000"/>
<rect x="422.0" y="538.7" width="4.0" height="4.0" fill="#000"/>
<rect x="431.9" y="552.7" width="4.0" height="4.0" fill="#000"/>
<rect x="441.8" y="558.6" width="4.0" height="4.0" fill="#000"/>
<path d="M394.3,583.5L404.2,565.5L414.1,547.4L424.0,537.2L433.9,546.3L443.8,543.0L453.7,541.6L463.5,539.7L473.4,539.0L483.3,538.6L493.2,539.2L503.1,537.9L513.0,538.4L522.8,533.1L532.7,535.8L542.6,535.2L552.5,538.4L562.4,535.2L572.3,531.0" fill="none" stroke="#111" stroke-width="1.7" stroke-dasharray="6,3.2" stroke-linejoin="round"/>
<circle cx="394.3" cy="583.5" r="2.1" fill="#fff" stroke="#000" stroke-width="0.8"/>
<circle cx="404.2" cy="565.5" r="2.1" fill="#fff" stroke="#000" stroke-width="0.8"/>
<circle cx="414.1" cy="547.4" r="2.1" fill="#fff" stroke="#000" stroke-width="0.8"/>
<circle cx="424.0" cy="537.2" r="2.1" fill="#fff" stroke="#000" stroke-width="0.8"/>
<circle cx="433.9" cy="546.3" r="2.1" fill="#fff" stroke="#000" stroke-width="0.8"/>
<circle cx="443.8" cy="543.0" r="2.1" fill="#fff" stroke="#000" stroke-width="0.8"/>
<circle cx="453.7" cy="541.6" r="2.1" fill="#fff" stroke="#000" stroke-width="0.8"/>
<circle cx="463.5" cy="539.7" r="2.1" fill="#fff" stroke="#000" stroke-width="0.8"/>
<circle cx="473.4" cy="539.0" r="2.1" fill="#fff" stroke="#000" stroke-width="0.8"/>
<circle cx="483.3" cy="538.6" r="2.1" fill="#fff" stroke="#000" stroke-width="0.8"/>
<circle cx="493.2" cy="539.2" r="2.1" fill="#fff" stroke="#000" stroke-width="0.8"/>
<circle cx="503.1" cy="537.9" r="2.1" fill="#fff" stroke="#000" stroke-width="0.8"/>
<circle cx="513.0" cy="538.4" r="2.1" fill="#fff" stroke="#000" stroke-width="0.8"/>
<circle cx="522.8" cy="533.1" r="2.1" fill="#fff" stroke="#000" stroke-width="0.8"/>
<circle cx="532.7" cy="535.8" r="2.1" fill="#fff" stroke="#000" stroke-width="0.8"/>
<circle cx="542.6" cy="535.2" r="2.1" fill="#fff" stroke="#000" stroke-width="0.8"/>
<circle cx="552.5" cy="538.4" r="2.1" fill="#fff" stroke="#000" stroke-width="0.8"/>
<circle cx="562.4" cy="535.2" r="2.1" fill="#fff" stroke="#000" stroke-width="0.8"/>
<circle cx="572.3" cy="531.0" r="2.1" fill="#fff" stroke="#000" stroke-width="0.8"/>
<line x1="389.4" y1="698.3" x2="389.4" y2="824.6" stroke="#555" stroke-width="1.4"/>
<line x1="386.4" y1="824.6" x2="655.1" y2="824.6" stroke="#707070" stroke-width="1.2"/>
<line x1="386.2" y1="723.3" x2="392.0" y2="723.3" stroke="#555" stroke-width="1.1"/>
<text transform="translate(378.4,723.3) rotate(-90)" text-anchor="middle" font-size="11.6" font-weight="bold" >4.5</text>
<line x1="386.2" y1="773.95" x2="392.0" y2="773.95" stroke="#555" stroke-width="1.1"/>
<text transform="translate(378.4,774.0) rotate(-90)" text-anchor="middle" font-size="11.6" font-weight="bold" >3.5</text>
<line x1="386.2" y1="824.6" x2="392.0" y2="824.6" stroke="#555" stroke-width="1.1"/>
<text transform="translate(378.4,824.6) rotate(-90)" text-anchor="middle" font-size="11.6" font-weight="bold" >2.5</text>
<line x1="399.2" y1="822.8000000000001" x2="399.2" y2="826.4" stroke="#555" stroke-width="0.9"/>
<line x1="409.1" y1="822.8000000000001" x2="409.1" y2="826.4" stroke="#555" stroke-width="0.9"/>
<line x1="418.9" y1="822.8000000000001" x2="418.9" y2="826.4" stroke="#555" stroke-width="0.9"/>
<line x1="428.8" y1="822.8000000000001" x2="428.8" y2="826.4" stroke="#555" stroke-width="0.9"/>
<line x1="438.6" y1="822.8000000000001" x2="438.6" y2="826.4" stroke="#555" stroke-width="0.9"/>
<line x1="448.4" y1="822.8000000000001" x2="448.4" y2="826.4" stroke="#555" stroke-width="0.9"/>
<line x1="458.3" y1="822.8000000000001" x2="458.3" y2="826.4" stroke="#555" stroke-width="0.9"/>
<line x1="468.1" y1="822.8000000000001" x2="468.1" y2="826.4" stroke="#555" stroke-width="0.9"/>
<line x1="478.0" y1="822.8000000000001" x2="478.0" y2="826.4" stroke="#555" stroke-width="0.9"/>
<line x1="487.8" y1="822.8000000000001" x2="487.8" y2="826.4" stroke="#555" stroke-width="0.9"/>
<line x1="497.6" y1="822.8000000000001" x2="497.6" y2="826.4" stroke="#555" stroke-width="0.9"/>
<line x1="507.5" y1="822.8000000000001" x2="507.5" y2="826.4" stroke="#555" stroke-width="0.9"/>
<line x1="517.3" y1="822.8000000000001" x2="517.3" y2="826.4" stroke="#555" stroke-width="0.9"/>
<line x1="527.2" y1="822.8000000000001" x2="527.2" y2="826.4" stroke="#555" stroke-width="0.9"/>
<line x1="537.0" y1="822.8000000000001" x2="537.0" y2="826.4" stroke="#555" stroke-width="0.9"/>
<line x1="546.9" y1="822.8000000000001" x2="546.9" y2="826.4" stroke="#555" stroke-width="0.9"/>
<line x1="556.7" y1="822.8000000000001" x2="556.7" y2="826.4" stroke="#555" stroke-width="0.9"/>
<line x1="566.5" y1="822.8000000000001" x2="566.5" y2="826.4" stroke="#555" stroke-width="0.9"/>
<line x1="576.4" y1="822.8000000000001" x2="576.4" y2="826.4" stroke="#555" stroke-width="0.9"/>
<line x1="586.2" y1="822.8000000000001" x2="586.2" y2="826.4" stroke="#555" stroke-width="0.9"/>
<line x1="596.1" y1="822.8000000000001" x2="596.1" y2="826.4" stroke="#555" stroke-width="0.9"/>
<line x1="605.9" y1="822.8000000000001" x2="605.9" y2="826.4" stroke="#555" stroke-width="0.9"/>
<line x1="615.7" y1="822.8000000000001" x2="615.7" y2="826.4" stroke="#555" stroke-width="0.9"/>
<line x1="625.6" y1="822.8000000000001" x2="625.6" y2="826.4" stroke="#555" stroke-width="0.9"/>
<line x1="635.4" y1="822.8000000000001" x2="635.4" y2="826.4" stroke="#555" stroke-width="0.9"/>
<line x1="645.3" y1="822.8000000000001" x2="645.3" y2="826.4" stroke="#555" stroke-width="0.9"/>
<text transform="translate(397.5,827.9) rotate(-90)" text-anchor="end" font-size="11.6" font-weight="bold" >0</text>
<text transform="translate(457.1,827.9) rotate(-90)" text-anchor="end" font-size="11.6" font-weight="bold" >50</text>
<text transform="translate(506.4,827.9) rotate(-90)" text-anchor="end" font-size="11.6" font-weight="bold" >100</text>
<text transform="translate(555.3,827.9) rotate(-90)" text-anchor="end" font-size="11.6" font-weight="bold" >150</text>
<text transform="translate(594.5,827.9) rotate(-90)" text-anchor="end" font-size="11.6" font-weight="bold" >200</text>
<text transform="translate(633.7,827.9) rotate(-90)" text-anchor="end" font-size="11.6" font-weight="bold" >300</text>
<text transform="translate(659.8,827.9) rotate(-90)" text-anchor="end" font-size="11.6" font-weight="bold" >350</text>
<path d="M394.3,791.0L404.2,798.8L414.0,790.4L423.8,790.4L433.7,785.0L443.5,775.0L453.4,760.0L463.2,741.4L473.0,740.4L482.9,738.9L492.7,738.1" fill="none" stroke="#222" stroke-width="0.9" stroke-dasharray="4,2" stroke-linejoin="round"/>
<path d="M394.3,788.7L396.6,792.8L392.0,792.8Z" fill="#000"/>
<path d="M404.2,796.5L406.5,800.6L401.9,800.6Z" fill="#000"/>
<path d="M414.0,788.1L416.3,792.2L411.7,792.2Z" fill="#000"/>
<path d="M423.8,788.1L426.1,792.2L421.5,792.2Z" fill="#000"/>
<path d="M433.7,782.7L436.0,786.8L431.4,786.8Z" fill="#000"/>
<path d="M443.5,772.7L445.8,776.8L441.2,776.8Z" fill="#000"/>
<path d="M453.4,757.7L455.7,761.8L451.1,761.8Z" fill="#000"/>
<path d="M463.2,739.1L465.5,743.2L460.9,743.2Z" fill="#000"/>
<path d="M473.0,738.1L475.3,742.2L470.7,742.2Z" fill="#000"/>
<path d="M482.9,736.6L485.2,740.7L480.6,740.7Z" fill="#000"/>
<path d="M492.7,735.8L495.0,739.9L490.4,739.9Z" fill="#000"/>
<path d="M394.3,762.3L404.2,760.4L414.0,749.1L423.8,743.3L433.7,736.4L443.5,735.3L453.4,742.8L463.2,755.7" fill="none" stroke="#222" stroke-width="0.9" stroke-dasharray="2,1.5" stroke-linejoin="round"/>
<path d="M394.3,760.4L396.2,763.8L392.4,763.8Z" fill="#fff" stroke="#000" stroke-width="0.7"/>
<path d="M404.2,758.5L406.1,761.9L402.3,761.9Z" fill="#fff" stroke="#000" stroke-width="0.7"/>
<path d="M414.0,747.2L415.9,750.6L412.1,750.6Z" fill="#fff" stroke="#000" stroke-width="0.7"/>
<path d="M423.8,741.4L425.7,744.8L421.9,744.8Z" fill="#fff" stroke="#000" stroke-width="0.7"/>
<path d="M433.7,734.5L435.6,737.9L431.8,737.9Z" fill="#fff" stroke="#000" stroke-width="0.7"/>
<path d="M443.5,733.4L445.4,736.8L441.6,736.8Z" fill="#fff" stroke="#000" stroke-width="0.7"/>
<path d="M453.4,740.9L455.3,744.3L451.5,744.3Z" fill="#fff" stroke="#000" stroke-width="0.7"/>
<path d="M463.2,753.8L465.1,757.2L461.3,757.2Z" fill="#fff" stroke="#000" stroke-width="0.7"/>
<path d="M394.3,798.8L404.2,799.8L414.0,798.8L423.8,797.0L433.7,794.0L443.5,790.7L453.4,776.1L463.2,746.9L473.0,748.1L482.9,746.0L492.7,745.2L502.6,745.7L512.4,747.8L522.2,743.9L532.1,741.2L541.9,741.2L551.8,741.2L561.6,741.2L571.5,739.1L581.3,739.1L591.1,744.7L601.0,742.0L610.8,739.1L620.7,739.9L630.5,738.6" fill="none" stroke="#111" stroke-width="1.1" stroke-dasharray="1.2,1.3" stroke-linejoin="round"/>
<rect x="392.4" y="796.8" width="3.9" height="3.9" fill="#fff" stroke="#000" stroke-width="0.75"/>
<rect x="402.2" y="797.8" width="3.9" height="3.9" fill="#fff" stroke="#000" stroke-width="0.75"/>
<rect x="412.1" y="796.8" width="3.9" height="3.9" fill="#fff" stroke="#000" stroke-width="0.75"/>
<rect x="421.9" y="795.0" width="3.9" height="3.9" fill="#fff" stroke="#000" stroke-width="0.75"/>
<rect x="431.7" y="792.0" width="3.9" height="3.9" fill="#fff" stroke="#000" stroke-width="0.75"/>
<rect x="441.6" y="788.8" width="3.9" height="3.9" fill="#fff" stroke="#000" stroke-width="0.75"/>
<rect x="451.4" y="774.1" width="3.9" height="3.9" fill="#fff" stroke="#000" stroke-width="0.75"/>
<rect x="461.3" y="744.9" width="3.9" height="3.9" fill="#fff" stroke="#000" stroke-width="0.75"/>
<rect x="471.1" y="746.1" width="3.9" height="3.9" fill="#fff" stroke="#000" stroke-width="0.75"/>
<rect x="480.9" y="744.0" width="3.9" height="3.9" fill="#fff" stroke="#000" stroke-width="0.75"/>
<rect x="490.8" y="743.2" width="3.9" height="3.9" fill="#fff" stroke="#000" stroke-width="0.75"/>
<rect x="500.6" y="743.8" width="3.9" height="3.9" fill="#fff" stroke="#000" stroke-width="0.75"/>
<rect x="510.5" y="745.8" width="3.9" height="3.9" fill="#fff" stroke="#000" stroke-width="0.75"/>
<rect x="520.3" y="741.9" width="3.9" height="3.9" fill="#fff" stroke="#000" stroke-width="0.75"/>
<rect x="530.1" y="739.2" width="3.9" height="3.9" fill="#fff" stroke="#000" stroke-width="0.75"/>
<rect x="540.0" y="739.2" width="3.9" height="3.9" fill="#fff" stroke="#000" stroke-width="0.75"/>
<rect x="549.8" y="739.2" width="3.9" height="3.9" fill="#fff" stroke="#000" stroke-width="0.75"/>
<rect x="559.7" y="739.2" width="3.9" height="3.9" fill="#fff" stroke="#000" stroke-width="0.75"/>
<rect x="569.5" y="737.1" width="3.9" height="3.9" fill="#fff" stroke="#000" stroke-width="0.75"/>
<rect x="579.3" y="737.1" width="3.9" height="3.9" fill="#fff" stroke="#000" stroke-width="0.75"/>
<rect x="589.2" y="742.8" width="3.9" height="3.9" fill="#fff" stroke="#000" stroke-width="0.75"/>
<rect x="599.0" y="740.0" width="3.9" height="3.9" fill="#fff" stroke="#000" stroke-width="0.75"/>
<rect x="608.9" y="737.1" width="3.9" height="3.9" fill="#fff" stroke="#000" stroke-width="0.75"/>
<rect x="618.7" y="737.9" width="3.9" height="3.9" fill="#fff" stroke="#000" stroke-width="0.75"/>
<rect x="628.5" y="736.6" width="3.9" height="3.9" fill="#fff" stroke="#000" stroke-width="0.75"/>
<path d="M394.3,807.1L404.2,815.5L414.0,804.6L423.8,793.6L433.7,787.1L443.5,779.1L453.4,771.5L463.2,776.1L473.0,779.3L482.9,783.7L492.7,784.1L502.6,784.1" fill="none" stroke="#222" stroke-width="0.9" stroke-linejoin="round"/>
<rect x="392.3" y="805.1" width="4.0" height="4.0" fill="#000"/>
<rect x="402.2" y="813.5" width="4.0" height="4.0" fill="#000"/>
<rect x="412.0" y="802.6" width="4.0" height="4.0" fill="#000"/>
<rect x="421.8" y="791.6" width="4.0" height="4.0" fill="#000"/>
<rect x="431.7" y="785.1" width="4.0" height="4.0" fill="#000"/>
<rect x="441.5" y="777.1" width="4.0" height="4.0" fill="#000"/>
<rect x="451.4" y="769.5" width="4.0" height="4.0" fill="#000"/>
<rect x="461.2" y="774.1" width="4.0" height="4.0" fill="#000"/>
<rect x="471.0" y="777.3" width="4.0" height="4.0" fill="#000"/>
<rect x="480.9" y="781.7" width="4.0" height="4.0" fill="#000"/>
<rect x="490.7" y="782.1" width="4.0" height="4.0" fill="#000"/>
<rect x="500.6" y="782.1" width="4.0" height="4.0" fill="#000"/>
<path d="M394.3,765.6L404.2,762.3L414.0,806.8L423.8,797.7L433.7,798.0L443.5,795.8L453.4,790.4L463.2,784.6L473.0,758.6L482.9,761.2L492.7,761.5L502.6,757.0L512.4,745.7L522.2,739.9L532.1,736.0L541.9,733.9L551.8,733.4L561.6,741.2L571.5,733.4L581.3,731.5L591.1,728.1L601.0,713.1L610.8,722.8L620.7,741.2L630.5,736.0L640.3,735.2L650.2,736.0" fill="none" stroke="#3c3c3c" stroke-width="2.2" stroke-linejoin="round"/>
<path d="M394.3,765.6L404.2,762.3L414.0,806.8L423.8,797.7L433.7,798.0L443.5,795.8L453.4,790.4L463.2,784.6L473.0,758.6L482.9,761.2L492.7,761.5L502.6,757.0L512.4,745.7L522.2,739.9L532.1,736.0L541.9,733.9L551.8,733.4L561.6,741.2L571.5,733.4L581.3,731.5L591.1,728.1L601.0,713.1L610.8,722.8L620.7,741.2L630.5,736.0L640.3,735.2L650.2,736.0" fill="none" stroke="#7a7a7a" stroke-width="0.8" stroke-linejoin="round"/>
<circle cx="394.3" cy="765.6" r="1.9" fill="#000"/>
<circle cx="404.2" cy="762.3" r="1.9" fill="#000"/>
<circle cx="414.0" cy="806.8" r="1.9" fill="#000"/>
<circle cx="423.8" cy="797.7" r="1.9" fill="#000"/>
<circle cx="433.7" cy="798.0" r="1.9" fill="#000"/>
<circle cx="443.5" cy="795.8" r="1.9" fill="#000"/>
<circle cx="453.4" cy="790.4" r="1.9" fill="#000"/>
<circle cx="463.2" cy="784.6" r="1.9" fill="#000"/>
<circle cx="473.0" cy="758.6" r="1.9" fill="#000"/>
<circle cx="482.9" cy="761.2" r="1.9" fill="#000"/>
<circle cx="492.7" cy="761.5" r="1.9" fill="#000"/>
<circle cx="502.6" cy="757.0" r="1.9" fill="#000"/>
<circle cx="512.4" cy="745.7" r="1.9" fill="#000"/>
<circle cx="522.2" cy="739.9" r="1.9" fill="#000"/>
<circle cx="532.1" cy="736.0" r="1.9" fill="#000"/>
<circle cx="541.9" cy="733.9" r="1.9" fill="#000"/>
<circle cx="551.8" cy="733.4" r="1.9" fill="#000"/>
<circle cx="561.6" cy="741.2" r="1.9" fill="#000"/>
<circle cx="571.5" cy="733.4" r="1.9" fill="#000"/>
<circle cx="581.3" cy="731.5" r="1.9" fill="#000"/>
<circle cx="591.1" cy="728.1" r="1.9" fill="#000"/>
<circle cx="601.0" cy="713.1" r="1.9" fill="#000"/>
<circle cx="610.8" cy="722.8" r="1.9" fill="#000"/>
<circle cx="620.7" cy="741.2" r="1.9" fill="#000"/>
<circle cx="630.5" cy="736.0" r="1.9" fill="#000"/>
<circle cx="640.3" cy="735.2" r="1.9" fill="#000"/>
<circle cx="650.2" cy="736.0" r="1.9" fill="#000"/>
<path d="M394.3,781.2L404.2,792.9L414.0,774.7L423.8,770.0L433.7,769.6L443.5,772.0L453.4,766.2L463.2,764.2L473.0,761.5L482.9,755.1L492.7,757.8L502.6,753.1L512.4,752.5L522.2,749.9L532.1,753.1L541.9,753.6L551.8,755.2L561.6,753.6L571.5,751.7" fill="none" stroke="#111" stroke-width="1.7" stroke-dasharray="6,3.2" stroke-linejoin="round"/>
<circle cx="394.3" cy="781.2" r="2.1" fill="#fff" stroke="#000" stroke-width="0.8"/>
<circle cx="404.2" cy="792.9" r="2.1" fill="#fff" stroke="#000" stroke-width="0.8"/>
<circle cx="414.0" cy="774.7" r="2.1" fill="#fff" stroke="#000" stroke-width="0.8"/>
<circle cx="423.8" cy="770.0" r="2.1" fill="#fff" stroke="#000" stroke-width="0.8"/>
<circle cx="433.7" cy="769.6" r="2.1" fill="#fff" stroke="#000" stroke-width="0.8"/>
<circle cx="443.5" cy="772.0" r="2.1" fill="#fff" stroke="#000" stroke-width="0.8"/>
<circle cx="453.4" cy="766.2" r="2.1" fill="#fff" stroke="#000" stroke-width="0.8"/>
<circle cx="463.2" cy="764.2" r="2.1" fill="#fff" stroke="#000" stroke-width="0.8"/>
<circle cx="473.0" cy="761.5" r="2.1" fill="#fff" stroke="#000" stroke-width="0.8"/>
<circle cx="482.9" cy="755.1" r="2.1" fill="#fff" stroke="#000" stroke-width="0.8"/>
<circle cx="492.7" cy="757.8" r="2.1" fill="#fff" stroke="#000" stroke-width="0.8"/>
<circle cx="502.6" cy="753.1" r="2.1" fill="#fff" stroke="#000" stroke-width="0.8"/>
<circle cx="512.4" cy="752.5" r="2.1" fill="#fff" stroke="#000" stroke-width="0.8"/>
<circle cx="522.2" cy="749.9" r="2.1" fill="#fff" stroke="#000" stroke-width="0.8"/>
<circle cx="532.1" cy="753.1" r="2.1" fill="#fff" stroke="#000" stroke-width="0.8"/>
<circle cx="541.9" cy="753.6" r="2.1" fill="#fff" stroke="#000" stroke-width="0.8"/>
<circle cx="551.8" cy="755.2" r="2.1" fill="#fff" stroke="#000" stroke-width="0.8"/>
<circle cx="561.6" cy="753.6" r="2.1" fill="#fff" stroke="#000" stroke-width="0.8"/>
<circle cx="571.5" cy="751.7" r="2.1" fill="#fff" stroke="#000" stroke-width="0.8"/>
<line x1="389.4" y1="872" x2="389.4" y2="998.3" stroke="#555" stroke-width="1.4"/>
<line x1="386.4" y1="998.3" x2="654.9" y2="998.3" stroke="#707070" stroke-width="1.2"/>
<line x1="386.2" y1="872.0" x2="392.0" y2="872.0" stroke="#555" stroke-width="1.1"/>
<text transform="translate(378.4,872.0) rotate(-90)" text-anchor="middle" font-size="11.6" font-weight="bold" >6</text>
<line x1="386.2" y1="914.1" x2="392.0" y2="914.1" stroke="#555" stroke-width="1.1"/>
<text transform="translate(378.4,914.1) rotate(-90)" text-anchor="middle" font-size="11.6" font-weight="bold" >5</text>
<line x1="386.2" y1="956.1999999999999" x2="392.0" y2="956.1999999999999" stroke="#555" stroke-width="1.1"/>
<text transform="translate(378.4,956.2) rotate(-90)" text-anchor="middle" font-size="11.6" font-weight="bold" >4</text>
<line x1="386.2" y1="998.3" x2="392.0" y2="998.3" stroke="#555" stroke-width="1.1"/>
<text transform="translate(378.4,998.3) rotate(-90)" text-anchor="middle" font-size="11.6" font-weight="bold" >3</text>
<line x1="399.2" y1="996.5" x2="399.2" y2="1000.0999999999999" stroke="#555" stroke-width="0.9"/>
<line x1="409.1" y1="996.5" x2="409.1" y2="1000.0999999999999" stroke="#555" stroke-width="0.9"/>
<line x1="418.9" y1="996.5" x2="418.9" y2="1000.0999999999999" stroke="#555" stroke-width="0.9"/>
<line x1="428.7" y1="996.5" x2="428.7" y2="1000.0999999999999" stroke="#555" stroke-width="0.9"/>
<line x1="438.6" y1="996.5" x2="438.6" y2="1000.0999999999999" stroke="#555" stroke-width="0.9"/>
<line x1="448.4" y1="996.5" x2="448.4" y2="1000.0999999999999" stroke="#555" stroke-width="0.9"/>
<line x1="458.2" y1="996.5" x2="458.2" y2="1000.0999999999999" stroke="#555" stroke-width="0.9"/>
<line x1="468.1" y1="996.5" x2="468.1" y2="1000.0999999999999" stroke="#555" stroke-width="0.9"/>
<line x1="477.9" y1="996.5" x2="477.9" y2="1000.0999999999999" stroke="#555" stroke-width="0.9"/>
<line x1="487.7" y1="996.5" x2="487.7" y2="1000.0999999999999" stroke="#555" stroke-width="0.9"/>
<line x1="497.6" y1="996.5" x2="497.6" y2="1000.0999999999999" stroke="#555" stroke-width="0.9"/>
<line x1="507.4" y1="996.5" x2="507.4" y2="1000.0999999999999" stroke="#555" stroke-width="0.9"/>
<line x1="517.2" y1="996.5" x2="517.2" y2="1000.0999999999999" stroke="#555" stroke-width="0.9"/>
<line x1="527.1" y1="996.5" x2="527.1" y2="1000.0999999999999" stroke="#555" stroke-width="0.9"/>
<line x1="536.9" y1="996.5" x2="536.9" y2="1000.0999999999999" stroke="#555" stroke-width="0.9"/>
<line x1="546.7" y1="996.5" x2="546.7" y2="1000.0999999999999" stroke="#555" stroke-width="0.9"/>
<line x1="556.6" y1="996.5" x2="556.6" y2="1000.0999999999999" stroke="#555" stroke-width="0.9"/>
<line x1="566.4" y1="996.5" x2="566.4" y2="1000.0999999999999" stroke="#555" stroke-width="0.9"/>
<line x1="576.2" y1="996.5" x2="576.2" y2="1000.0999999999999" stroke="#555" stroke-width="0.9"/>
<line x1="586.1" y1="996.5" x2="586.1" y2="1000.0999999999999" stroke="#555" stroke-width="0.9"/>
<line x1="595.9" y1="996.5" x2="595.9" y2="1000.0999999999999" stroke="#555" stroke-width="0.9"/>
<line x1="605.7" y1="996.5" x2="605.7" y2="1000.0999999999999" stroke="#555" stroke-width="0.9"/>
<line x1="615.6" y1="996.5" x2="615.6" y2="1000.0999999999999" stroke="#555" stroke-width="0.9"/>
<line x1="625.4" y1="996.5" x2="625.4" y2="1000.0999999999999" stroke="#555" stroke-width="0.9"/>
<line x1="635.2" y1="996.5" x2="635.2" y2="1000.0999999999999" stroke="#555" stroke-width="0.9"/>
<line x1="645.1" y1="996.5" x2="645.1" y2="1000.0999999999999" stroke="#555" stroke-width="0.9"/>
<line x1="654.9" y1="996.5" x2="654.9" y2="1000.0999999999999" stroke="#555" stroke-width="0.9"/>
<text transform="translate(397.5,1001.6) rotate(-90)" text-anchor="end" font-size="11.6" font-weight="bold" >0</text>
<text transform="translate(457.1,1001.6) rotate(-90)" text-anchor="end" font-size="11.6" font-weight="bold" >50</text>
<text transform="translate(506.4,1001.6) rotate(-90)" text-anchor="end" font-size="11.6" font-weight="bold" >100</text>
<text transform="translate(555.3,1001.6) rotate(-90)" text-anchor="end" font-size="11.6" font-weight="bold" >150</text>
<text transform="translate(594.5,1001.6) rotate(-90)" text-anchor="end" font-size="11.6" font-weight="bold" >200</text>
<text transform="translate(633.7,1001.6) rotate(-90)" text-anchor="end" font-size="11.6" font-weight="bold" >300</text>
<text transform="translate(659.8,1001.6) rotate(-90)" text-anchor="end" font-size="11.6" font-weight="bold" >350</text>
<path d="M394.3,928.9L404.1,926.2L414.0,912.4L423.8,908.4L433.6,905.5L443.5,901.4L453.3,904.3L463.1,912.4L473.0,910.0L482.8,908.0L492.6,909.8" fill="none" stroke="#222" stroke-width="0.9" stroke-dasharray="2,1.5" stroke-linejoin="round"/>
<path d="M394.3,927.0L396.2,930.4L392.4,930.4Z" fill="#fff" stroke="#000" stroke-width="0.7"/>
<path d="M404.1,924.3L406.0,927.7L402.2,927.7Z" fill="#fff" stroke="#000" stroke-width="0.7"/>
<path d="M414.0,910.5L415.9,913.9L412.1,913.9Z" fill="#fff" stroke="#000" stroke-width="0.7"/>
<path d="M423.8,906.5L425.7,909.9L421.9,909.9Z" fill="#fff" stroke="#000" stroke-width="0.7"/>
<path d="M433.6,903.6L435.5,907.0L431.8,907.0Z" fill="#fff" stroke="#000" stroke-width="0.7"/>
<path d="M443.5,899.5L445.4,902.9L441.6,902.9Z" fill="#fff" stroke="#000" stroke-width="0.7"/>
<path d="M453.3,902.4L455.2,905.8L451.4,905.8Z" fill="#fff" stroke="#000" stroke-width="0.7"/>
<path d="M463.1,910.5L465.0,913.9L461.2,913.9Z" fill="#fff" stroke="#000" stroke-width="0.7"/>
<path d="M473.0,908.1L474.9,911.5L471.1,911.5Z" fill="#fff" stroke="#000" stroke-width="0.7"/>
<path d="M482.8,906.1L484.7,909.5L480.9,909.5Z" fill="#fff" stroke="#000" stroke-width="0.7"/>
<path d="M492.6,907.9L494.5,911.3L490.8,911.3Z" fill="#fff" stroke="#000" stroke-width="0.7"/>
<path d="M394.3,944.5L404.1,949.3L414.0,949.3L423.8,954.7L433.6,951.3L443.5,953.7L453.3,947.0L463.1,911.6L473.0,904.6L482.8,905.5" fill="none" stroke="#222" stroke-width="0.9" stroke-dasharray="4,2" stroke-linejoin="round"/>
<path d="M394.3,942.2L396.6,946.3L392.0,946.3Z" fill="#000"/>
<path d="M404.1,947.0L406.4,951.1L401.8,951.1Z" fill="#000"/>
<path d="M414.0,947.0L416.3,951.1L411.7,951.1Z" fill="#000"/>
<path d="M423.8,952.4L426.1,956.5L421.5,956.5Z" fill="#000"/>
<path d="M433.6,949.0L435.9,953.1L431.3,953.1Z" fill="#000"/>
<path d="M443.5,951.4L445.8,955.5L441.2,955.5Z" fill="#000"/>
<path d="M453.3,944.7L455.6,948.8L451.0,948.8Z" fill="#000"/>
<path d="M463.1,909.3L465.4,913.4L460.8,913.4Z" fill="#000"/>
<path d="M473.0,902.3L475.3,906.4L470.7,906.4Z" fill="#000"/>
<path d="M482.8,903.2L485.1,907.3L480.5,907.3Z" fill="#000"/>
<path d="M394.3,958.1L404.1,960.1L414.0,956.9L423.8,962.7L433.6,955.4L443.5,950.3L453.3,937.2L463.1,918.9L473.0,916.3L482.8,912.0L492.6,910.6L502.5,911.9L512.3,916.4L522.1,910.6L532.0,906.1L541.8,911.1L551.6,904.0L561.5,903.3L571.3,900.1L581.1,903.5L591.0,908.8L600.8,906.7L610.6,902.7L620.5,900.9L630.3,904.0" fill="none" stroke="#111" stroke-width="1.1" stroke-dasharray="1.2,1.3" stroke-linejoin="round"/>
<rect x="392.4" y="956.1" width="3.9" height="3.9" fill="#fff" stroke="#000" stroke-width="0.75"/>
<rect x="402.2" y="958.1" width="3.9" height="3.9" fill="#fff" stroke="#000" stroke-width="0.75"/>
<rect x="412.0" y="954.9" width="3.9" height="3.9" fill="#fff" stroke="#000" stroke-width="0.75"/>
<rect x="421.9" y="960.8" width="3.9" height="3.9" fill="#fff" stroke="#000" stroke-width="0.75"/>
<rect x="431.7" y="953.4" width="3.9" height="3.9" fill="#fff" stroke="#000" stroke-width="0.75"/>
<rect x="441.5" y="948.3" width="3.9" height="3.9" fill="#fff" stroke="#000" stroke-width="0.75"/>
<rect x="451.4" y="935.2" width="3.9" height="3.9" fill="#fff" stroke="#000" stroke-width="0.75"/>
<rect x="461.2" y="916.9" width="3.9" height="3.9" fill="#fff" stroke="#000" stroke-width="0.75"/>
<rect x="471.0" y="914.3" width="3.9" height="3.9" fill="#fff" stroke="#000" stroke-width="0.75"/>
<rect x="480.9" y="910.0" width="3.9" height="3.9" fill="#fff" stroke="#000" stroke-width="0.75"/>
<rect x="490.7" y="908.6" width="3.9" height="3.9" fill="#fff" stroke="#000" stroke-width="0.75"/>
<rect x="500.5" y="909.9" width="3.9" height="3.9" fill="#fff" stroke="#000" stroke-width="0.75"/>
<rect x="510.4" y="914.4" width="3.9" height="3.9" fill="#fff" stroke="#000" stroke-width="0.75"/>
<rect x="520.2" y="908.6" width="3.9" height="3.9" fill="#fff" stroke="#000" stroke-width="0.75"/>
<rect x="530.0" y="904.1" width="3.9" height="3.9" fill="#fff" stroke="#000" stroke-width="0.75"/>
<rect x="539.9" y="909.1" width="3.9" height="3.9" fill="#fff" stroke="#000" stroke-width="0.75"/>
<rect x="549.7" y="902.0" width="3.9" height="3.9" fill="#fff" stroke="#000" stroke-width="0.75"/>
<rect x="559.5" y="901.3" width="3.9" height="3.9" fill="#fff" stroke="#000" stroke-width="0.75"/>
<rect x="569.4" y="898.1" width="3.9" height="3.9" fill="#fff" stroke="#000" stroke-width="0.75"/>
<rect x="579.2" y="901.5" width="3.9" height="3.9" fill="#fff" stroke="#000" stroke-width="0.75"/>
<rect x="589.0" y="906.8" width="3.9" height="3.9" fill="#fff" stroke="#000" stroke-width="0.75"/>
<rect x="598.9" y="904.8" width="3.9" height="3.9" fill="#fff" stroke="#000" stroke-width="0.75"/>
<rect x="608.7" y="900.8" width="3.9" height="3.9" fill="#fff" stroke="#000" stroke-width="0.75"/>
<rect x="618.5" y="898.9" width="3.9" height="3.9" fill="#fff" stroke="#000" stroke-width="0.75"/>
<rect x="628.4" y="902.0" width="3.9" height="3.9" fill="#fff" stroke="#000" stroke-width="0.75"/>
<path d="M394.3,959.5L404.1,973.7L414.0,964.9L423.8,956.9L433.6,947.4L443.5,939.1L453.3,928.9L463.1,928.9L473.0,928.9L482.8,929.6L492.6,926.4L502.5,925.1" fill="none" stroke="#222" stroke-width="0.9" stroke-linejoin="round"/>
<rect x="392.3" y="957.5" width="4.0" height="4.0" fill="#000"/>
<rect x="402.1" y="971.7" width="4.0" height="4.0" fill="#000"/>
<rect x="412.0" y="962.9" width="4.0" height="4.0" fill="#000"/>
<rect x="421.8" y="954.9" width="4.0" height="4.0" fill="#000"/>
<rect x="431.6" y="945.4" width="4.0" height="4.0" fill="#000"/>
<rect x="441.5" y="937.1" width="4.0" height="4.0" fill="#000"/>
<rect x="451.3" y="926.9" width="4.0" height="4.0" fill="#000"/>
<rect x="461.1" y="926.9" width="4.0" height="4.0" fill="#000"/>
<rect x="471.0" y="926.9" width="4.0" height="4.0" fill="#000"/>
<rect x="480.8" y="927.6" width="4.0" height="4.0" fill="#000"/>
<rect x="490.6" y="924.4" width="4.0" height="4.0" fill="#000"/>
<rect x="500.5" y="923.1" width="4.0" height="4.0" fill="#000"/>
<path d="M394.3,966.4L404.1,969.7L414.0,971.5L423.8,961.3L433.6,962.4L443.5,962.0L453.3,958.1L463.1,952.5L473.0,918.2L482.8,932.6L492.6,925.1L502.5,924.5L512.3,899.3L522.1,892.2L532.0,887.5L541.8,890.4L551.6,884.3L561.5,887.0L571.3,890.1L581.1,889.6L591.0,886.4L600.8,886.2L610.6,883.8L620.5,908.8L630.3,917.2L640.1,906.7L650.0,905.4" fill="none" stroke="#3c3c3c" stroke-width="2.2" stroke-linejoin="round"/>
<path d="M394.3,966.4L404.1,969.7L414.0,971.5L423.8,961.3L433.6,962.4L443.5,962.0L453.3,958.1L463.1,952.5L473.0,918.2L482.8,932.6L492.6,925.1L502.5,924.5L512.3,899.3L522.1,892.2L532.0,887.5L541.8,890.4L551.6,884.3L561.5,887.0L571.3,890.1L581.1,889.6L591.0,886.4L600.8,886.2L610.6,883.8L620.5,908.8L630.3,917.2L640.1,906.7L650.0,905.4" fill="none" stroke="#7a7a7a" stroke-width="0.8" stroke-linejoin="round"/>
<circle cx="394.3" cy="966.4" r="1.9" fill="#000"/>
<circle cx="404.1" cy="969.7" r="1.9" fill="#000"/>
<circle cx="414.0" cy="971.5" r="1.9" fill="#000"/>
<circle cx="423.8" cy="961.3" r="1.9" fill="#000"/>
<circle cx="433.6" cy="962.4" r="1.9" fill="#000"/>
<circle cx="443.5" cy="962.0" r="1.9" fill="#000"/>
<circle cx="453.3" cy="958.1" r="1.9" fill="#000"/>
<circle cx="463.1" cy="952.5" r="1.9" fill="#000"/>
<circle cx="473.0" cy="918.2" r="1.9" fill="#000"/>
<circle cx="482.8" cy="932.6" r="1.9" fill="#000"/>
<circle cx="492.6" cy="925.1" r="1.9" fill="#000"/>
<circle cx="502.5" cy="924.5" r="1.9" fill="#000"/>
<circle cx="512.3" cy="899.3" r="1.9" fill="#000"/>
<circle cx="522.1" cy="892.2" r="1.9" fill="#000"/>
<circle cx="532.0" cy="887.5" r="1.9" fill="#000"/>
<circle cx="541.8" cy="890.4" r="1.9" fill="#000"/>
<circle cx="551.6" cy="884.3" r="1.9" fill="#000"/>
<circle cx="561.5" cy="887.0" r="1.9" fill="#000"/>
<circle cx="571.3" cy="890.1" r="1.9" fill="#000"/>
<circle cx="581.1" cy="889.6" r="1.9" fill="#000"/>
<circle cx="591.0" cy="886.4" r="1.9" fill="#000"/>
<circle cx="600.8" cy="886.2" r="1.9" fill="#000"/>
<circle cx="610.6" cy="883.8" r="1.9" fill="#000"/>
<circle cx="620.5" cy="908.8" r="1.9" fill="#000"/>
<circle cx="630.3" cy="917.2" r="1.9" fill="#000"/>
<circle cx="640.1" cy="906.7" r="1.9" fill="#000"/>
<circle cx="650.0" cy="905.4" r="1.9" fill="#000"/>
<path d="M394.3,938.6L404.1,936.2L414.0,936.7L423.8,929.2L433.6,911.9L443.5,924.5L453.3,921.9L463.1,919.7L473.0,916.3L482.8,912.0L492.6,911.9L502.5,911.4L512.3,909.3L522.1,906.7L532.0,910.6L541.8,911.4L551.6,913.2L561.5,912.0L571.3,910.6" fill="none" stroke="#111" stroke-width="1.7" stroke-dasharray="6,3.2" stroke-linejoin="round"/>
<circle cx="394.3" cy="938.6" r="2.1" fill="#fff" stroke="#000" stroke-width="0.8"/>
<circle cx="404.1" cy="936.2" r="2.1" fill="#fff" stroke="#000" stroke-width="0.8"/>
<circle cx="414.0" cy="936.7" r="2.1" fill="#fff" stroke="#000" stroke-width="0.8"/>
<circle cx="423.8" cy="929.2" r="2.1" fill="#fff" stroke="#000" stroke-width="0.8"/>
<circle cx="433.6" cy="911.9" r="2.1" fill="#fff" stroke="#000" stroke-width="0.8"/>
<circle cx="443.5" cy="924.5" r="2.1" fill="#fff" stroke="#000" stroke-width="0.8"/>
<circle cx="453.3" cy="921.9" r="2.1" fill="#fff" stroke="#000" stroke-width="0.8"/>
<circle cx="463.1" cy="919.7" r="2.1" fill="#fff" stroke="#000" stroke-width="0.8"/>
<circle cx="473.0" cy="916.3" r="2.1" fill="#fff" stroke="#000" stroke-width="0.8"/>
<circle cx="482.8" cy="912.0" r="2.1" fill="#fff" stroke="#000" stroke-width="0.8"/>
<circle cx="492.6" cy="911.9" r="2.1" fill="#fff" stroke="#000" stroke-width="0.8"/>
<circle cx="502.5" cy="911.4" r="2.1" fill="#fff" stroke="#000" stroke-width="0.8"/>
<circle cx="512.3" cy="909.3" r="2.1" fill="#fff" stroke="#000" stroke-width="0.8"/>
<circle cx="522.1" cy="906.7" r="2.1" fill="#fff" stroke="#000" stroke-width="0.8"/>
<circle cx="532.0" cy="910.6" r="2.1" fill="#fff" stroke="#000" stroke-width="0.8"/>
<circle cx="541.8" cy="911.4" r="2.1" fill="#fff" stroke="#000" stroke-width="0.8"/>
<circle cx="551.6" cy="913.2" r="2.1" fill="#fff" stroke="#000" stroke-width="0.8"/>
<circle cx="561.5" cy="912.0" r="2.1" fill="#fff" stroke="#000" stroke-width="0.8"/>
<circle cx="571.3" cy="910.6" r="2.1" fill="#fff" stroke="#000" stroke-width="0.8"/>
<line x1="389.9" y1="1044" x2="389.9" y2="1170.5" stroke="#b0b0b0" stroke-width="1.4"/>
<line x1="386.9" y1="1170.5" x2="653.7" y2="1170.5" stroke="#707070" stroke-width="1.2"/>
<line x1="386.7" y1="1044.0" x2="392.5" y2="1044.0" stroke="#b0b0b0" stroke-width="1.1"/>
<text transform="translate(378.4,1044.0) rotate(-90)" text-anchor="middle" font-size="11.6" font-weight="bold" >100</text>
<line x1="386.7" y1="1075.5" x2="392.5" y2="1075.5" stroke="#b0b0b0" stroke-width="1.1"/>
<text transform="translate(378.4,1075.5) rotate(-90)" text-anchor="middle" font-size="11.6" font-weight="bold" >95</text>
<line x1="386.7" y1="1107.0" x2="392.5" y2="1107.0" stroke="#b0b0b0" stroke-width="1.1"/>
<text transform="translate(378.4,1107.0) rotate(-90)" text-anchor="middle" font-size="11.6" font-weight="bold" >90</text>
<line x1="386.7" y1="1138.5" x2="392.5" y2="1138.5" stroke="#b0b0b0" stroke-width="1.1"/>
<text transform="translate(378.4,1138.5) rotate(-90)" text-anchor="middle" font-size="11.6" font-weight="bold" >85</text>
<line x1="386.7" y1="1170.0" x2="392.5" y2="1170.0" stroke="#b0b0b0" stroke-width="1.1"/>
<text transform="translate(378.4,1170.0) rotate(-90)" text-anchor="middle" font-size="11.6" font-weight="bold" >80</text>
<line x1="399.7" y1="1168.7" x2="399.7" y2="1172.3" stroke="#555" stroke-width="0.9"/>
<line x1="409.4" y1="1168.7" x2="409.4" y2="1172.3" stroke="#555" stroke-width="0.9"/>
<line x1="419.2" y1="1168.7" x2="419.2" y2="1172.3" stroke="#555" stroke-width="0.9"/>
<line x1="429.0" y1="1168.7" x2="429.0" y2="1172.3" stroke="#555" stroke-width="0.9"/>
<line x1="438.8" y1="1168.7" x2="438.8" y2="1172.3" stroke="#555" stroke-width="0.9"/>
<line x1="448.5" y1="1168.7" x2="448.5" y2="1172.3" stroke="#555" stroke-width="0.9"/>
<line x1="458.3" y1="1168.7" x2="458.3" y2="1172.3" stroke="#555" stroke-width="0.9"/>
<line x1="468.1" y1="1168.7" x2="468.1" y2="1172.3" stroke="#555" stroke-width="0.9"/>
<line x1="477.8" y1="1168.7" x2="477.8" y2="1172.3" stroke="#555" stroke-width="0.9"/>
<line x1="487.6" y1="1168.7" x2="487.6" y2="1172.3" stroke="#555" stroke-width="0.9"/>
<line x1="497.4" y1="1168.7" x2="497.4" y2="1172.3" stroke="#555" stroke-width="0.9"/>
<line x1="507.1" y1="1168.7" x2="507.1" y2="1172.3" stroke="#555" stroke-width="0.9"/>
<line x1="516.9" y1="1168.7" x2="516.9" y2="1172.3" stroke="#555" stroke-width="0.9"/>
<line x1="526.7" y1="1168.7" x2="526.7" y2="1172.3" stroke="#555" stroke-width="0.9"/>
<line x1="536.5" y1="1168.7" x2="536.5" y2="1172.3" stroke="#555" stroke-width="0.9"/>
<line x1="546.2" y1="1168.7" x2="546.2" y2="1172.3" stroke="#555" stroke-width="0.9"/>
<line x1="556.0" y1="1168.7" x2="556.0" y2="1172.3" stroke="#555" stroke-width="0.9"/>
<line x1="565.8" y1="1168.7" x2="565.8" y2="1172.3" stroke="#555" stroke-width="0.9"/>
<line x1="575.5" y1="1168.7" x2="575.5" y2="1172.3" stroke="#555" stroke-width="0.9"/>
<line x1="585.3" y1="1168.7" x2="585.3" y2="1172.3" stroke="#555" stroke-width="0.9"/>
<line x1="595.1" y1="1168.7" x2="595.1" y2="1172.3" stroke="#555" stroke-width="0.9"/>
<line x1="604.8" y1="1168.7" x2="604.8" y2="1172.3" stroke="#555" stroke-width="0.9"/>
<line x1="614.6" y1="1168.7" x2="614.6" y2="1172.3" stroke="#555" stroke-width="0.9"/>
<line x1="624.4" y1="1168.7" x2="624.4" y2="1172.3" stroke="#555" stroke-width="0.9"/>
<line x1="634.2" y1="1168.7" x2="634.2" y2="1172.3" stroke="#555" stroke-width="0.9"/>
<line x1="643.9" y1="1168.7" x2="643.9" y2="1172.3" stroke="#555" stroke-width="0.9"/>
<text transform="translate(397.5,1173.8) rotate(-90)" text-anchor="end" font-size="11.6" font-weight="bold" >0</text>
<text transform="translate(457.1,1173.8) rotate(-90)" text-anchor="end" font-size="11.6" font-weight="bold" >50</text>
<text transform="translate(506.4,1173.8) rotate(-90)" text-anchor="end" font-size="11.6" font-weight="bold" >100</text>
<text transform="translate(555.3,1173.8) rotate(-90)" text-anchor="end" font-size="11.6" font-weight="bold" >150</text>
<text transform="translate(594.5,1173.8) rotate(-90)" text-anchor="end" font-size="11.6" font-weight="bold" >200</text>
<text transform="translate(633.7,1173.8) rotate(-90)" text-anchor="end" font-size="11.6" font-weight="bold" >300</text>
<text transform="translate(659.8,1173.8) rotate(-90)" text-anchor="end" font-size="11.6" font-weight="bold" >350</text>
<path d="M394.8,1078.8L404.6,1080.0L414.3,1073.2L424.1,1077.0L433.9,1073.2L443.6,1079.5L453.4,1067.8L463.2,1070.0" fill="none" stroke="#222" stroke-width="0.9" stroke-dasharray="2,1.5" stroke-linejoin="round"/>
<path d="M394.8,1076.9L396.7,1080.3L392.9,1080.3Z" fill="#fff" stroke="#000" stroke-width="0.7"/>
<path d="M404.6,1078.1L406.5,1081.5L402.7,1081.5Z" fill="#fff" stroke="#000" stroke-width="0.7"/>
<path d="M414.3,1071.3L416.2,1074.7L412.4,1074.7Z" fill="#fff" stroke="#000" stroke-width="0.7"/>
<path d="M424.1,1075.1L426.0,1078.5L422.2,1078.5Z" fill="#fff" stroke="#000" stroke-width="0.7"/>
<path d="M433.9,1071.3L435.8,1074.7L432.0,1074.7Z" fill="#fff" stroke="#000" stroke-width="0.7"/>
<path d="M443.6,1077.6L445.5,1081.0L441.7,1081.0Z" fill="#fff" stroke="#000" stroke-width="0.7"/>
<path d="M453.4,1065.9L455.3,1069.3L451.5,1069.3Z" fill="#fff" stroke="#000" stroke-width="0.7"/>
<path d="M463.2,1068.1L465.1,1071.5L461.3,1071.5Z" fill="#fff" stroke="#000" stroke-width="0.7"/>
<path d="M394.8,1121.9L404.6,1083.2L414.3,1066.4L424.1,1061.6L433.9,1108.7L443.6,1071.5L453.4,1069.3L463.2,1070.0L472.9,1078.1L482.7,1067.4L492.5,1082.3" fill="none" stroke="#222" stroke-width="0.9" stroke-dasharray="4,2" stroke-linejoin="round"/>
<path d="M394.8,1119.6L397.1,1123.7L392.5,1123.7Z" fill="#000"/>
<path d="M404.6,1080.9L406.9,1085.0L402.3,1085.0Z" fill="#000"/>
<path d="M414.3,1064.1L416.6,1068.2L412.0,1068.2Z" fill="#000"/>
<path d="M424.1,1059.3L426.4,1063.4L421.8,1063.4Z" fill="#000"/>
<path d="M433.9,1106.4L436.2,1110.5L431.6,1110.5Z" fill="#000"/>
<path d="M443.6,1069.2L445.9,1073.3L441.3,1073.3Z" fill="#000"/>
<path d="M453.4,1067.0L455.7,1071.1L451.1,1071.1Z" fill="#000"/>
<path d="M463.2,1067.7L465.5,1071.8L460.9,1071.8Z" fill="#000"/>
<path d="M472.9,1075.8L475.2,1079.9L470.6,1079.9Z" fill="#000"/>
<path d="M482.7,1065.1L485.0,1069.2L480.4,1069.2Z" fill="#000"/>
<path d="M492.5,1080.0L494.8,1084.1L490.2,1084.1Z" fill="#000"/>
<path d="M394.8,1146.7L404.6,1080.3L414.3,1066.4L424.1,1067.8L433.9,1078.1L443.6,1062.0L453.4,1067.1L463.2,1069.3L472.9,1069.3L482.7,1071.8L492.5,1069.9L502.3,1070.5L512.0,1069.2L521.8,1072.3L531.6,1074.9L541.3,1081.8L551.1,1111.2L560.9,1074.9L570.7,1077.6L580.4,1066.0L590.2,1074.4L600.0,1069.9L609.7,1080.2L619.5,1075.7L629.3,1081.0" fill="none" stroke="#111" stroke-width="1.1" stroke-dasharray="1.2,1.3" stroke-linejoin="round"/>
<rect x="392.8" y="1144.8" width="3.9" height="3.9" fill="#fff" stroke="#000" stroke-width="0.75"/>
<rect x="402.6" y="1078.3" width="3.9" height="3.9" fill="#fff" stroke="#000" stroke-width="0.75"/>
<rect x="412.4" y="1064.5" width="3.9" height="3.9" fill="#fff" stroke="#000" stroke-width="0.75"/>
<rect x="422.1" y="1065.8" width="3.9" height="3.9" fill="#fff" stroke="#000" stroke-width="0.75"/>
<rect x="431.9" y="1076.1" width="3.9" height="3.9" fill="#fff" stroke="#000" stroke-width="0.75"/>
<rect x="441.7" y="1060.0" width="3.9" height="3.9" fill="#fff" stroke="#000" stroke-width="0.75"/>
<rect x="451.5" y="1065.1" width="3.9" height="3.9" fill="#fff" stroke="#000" stroke-width="0.75"/>
<rect x="461.2" y="1067.3" width="3.9" height="3.9" fill="#fff" stroke="#000" stroke-width="0.75"/>
<rect x="471.0" y="1067.3" width="3.9" height="3.9" fill="#fff" stroke="#000" stroke-width="0.75"/>
<rect x="480.8" y="1069.8" width="3.9" height="3.9" fill="#fff" stroke="#000" stroke-width="0.75"/>
<rect x="490.5" y="1068.0" width="3.9" height="3.9" fill="#fff" stroke="#000" stroke-width="0.75"/>
<rect x="500.3" y="1068.5" width="3.9" height="3.9" fill="#fff" stroke="#000" stroke-width="0.75"/>
<rect x="510.1" y="1067.2" width="3.9" height="3.9" fill="#fff" stroke="#000" stroke-width="0.75"/>
<rect x="519.9" y="1070.3" width="3.9" height="3.9" fill="#fff" stroke="#000" stroke-width="0.75"/>
<rect x="529.6" y="1073.0" width="3.9" height="3.9" fill="#fff" stroke="#000" stroke-width="0.75"/>
<rect x="539.4" y="1079.8" width="3.9" height="3.9" fill="#fff" stroke="#000" stroke-width="0.75"/>
<rect x="549.2" y="1109.2" width="3.9" height="3.9" fill="#fff" stroke="#000" stroke-width="0.75"/>
<rect x="558.9" y="1073.0" width="3.9" height="3.9" fill="#fff" stroke="#000" stroke-width="0.75"/>
<rect x="568.7" y="1075.6" width="3.9" height="3.9" fill="#fff" stroke="#000" stroke-width="0.75"/>
<rect x="578.5" y="1064.0" width="3.9" height="3.9" fill="#fff" stroke="#000" stroke-width="0.75"/>
<rect x="588.2" y="1072.5" width="3.9" height="3.9" fill="#fff" stroke="#000" stroke-width="0.75"/>
<rect x="598.0" y="1068.0" width="3.9" height="3.9" fill="#fff" stroke="#000" stroke-width="0.75"/>
<rect x="607.8" y="1078.2" width="3.9" height="3.9" fill="#fff" stroke="#000" stroke-width="0.75"/>
<rect x="617.6" y="1073.8" width="3.9" height="3.9" fill="#fff" stroke="#000" stroke-width="0.75"/>
<rect x="627.3" y="1079.0" width="3.9" height="3.9" fill="#fff" stroke="#000" stroke-width="0.75"/>
<path d="M394.8,1073.7L404.6,1056.6L414.3,1078.5L424.1,1100.0L433.9,1101.0L443.6,1101.0L444.9,1170.0" fill="none" stroke="#222" stroke-width="0.9" stroke-linejoin="round"/>
<rect x="392.8" y="1071.7" width="4.0" height="4.0" fill="#000"/>
<rect x="402.6" y="1054.6" width="4.0" height="4.0" fill="#000"/>
<rect x="412.3" y="1076.5" width="4.0" height="4.0" fill="#000"/>
<rect x="422.1" y="1098.0" width="4.0" height="4.0" fill="#000"/>
<rect x="431.9" y="1099.0" width="4.0" height="4.0" fill="#000"/>
<rect x="441.6" y="1099.0" width="4.0" height="4.0" fill="#000"/>
<path d="M394.8,1062.0L404.6,1070.0L414.3,1067.4L424.1,1064.9L433.9,1068.9L443.6,1066.0L453.4,1070.8L463.2,1071.5L472.9,1073.7L482.7,1083.6L492.5,1062.6L502.3,1067.8L512.0,1060.5L521.8,1064.7L531.6,1071.8L541.3,1061.8L551.1,1070.5L560.9,1078.4L570.7,1084.4L580.4,1082.3L590.2,1081.8L600.0,1079.7L609.7,1075.7L619.5,1071.0L629.3,1077.8L639.0,1067.8L648.8,1068.6" fill="none" stroke="#3c3c3c" stroke-width="2.2" stroke-linejoin="round"/>
<path d="M394.8,1062.0L404.6,1070.0L414.3,1067.4L424.1,1064.9L433.9,1068.9L443.6,1066.0L453.4,1070.8L463.2,1071.5L472.9,1073.7L482.7,1083.6L492.5,1062.6L502.3,1067.8L512.0,1060.5L521.8,1064.7L531.6,1071.8L541.3,1061.8L551.1,1070.5L560.9,1078.4L570.7,1084.4L580.4,1082.3L590.2,1081.8L600.0,1079.7L609.7,1075.7L619.5,1071.0L629.3,1077.8L639.0,1067.8L648.8,1068.6" fill="none" stroke="#7a7a7a" stroke-width="0.8" stroke-linejoin="round"/>
<circle cx="394.8" cy="1062.0" r="1.9" fill="#000"/>
<circle cx="404.6" cy="1070.0" r="1.9" fill="#000"/>
<circle cx="414.3" cy="1067.4" r="1.9" fill="#000"/>
<circle cx="424.1" cy="1064.9" r="1.9" fill="#000"/>
<circle cx="433.9" cy="1068.9" r="1.9" fill="#000"/>
<circle cx="443.6" cy="1066.0" r="1.9" fill="#000"/>
<circle cx="453.4" cy="1070.8" r="1.9" fill="#000"/>
<circle cx="463.2" cy="1071.5" r="1.9" fill="#000"/>
<circle cx="472.9" cy="1073.7" r="1.9" fill="#000"/>
<circle cx="482.7" cy="1083.6" r="1.9" fill="#000"/>
<circle cx="492.5" cy="1062.6" r="1.9" fill="#000"/>
<circle cx="502.3" cy="1067.8" r="1.9" fill="#000"/>
<circle cx="512.0" cy="1060.5" r="1.9" fill="#000"/>
<circle cx="521.8" cy="1064.7" r="1.9" fill="#000"/>
<circle cx="531.6" cy="1071.8" r="1.9" fill="#000"/>
<circle cx="541.3" cy="1061.8" r="1.9" fill="#000"/>
<circle cx="551.1" cy="1070.5" r="1.9" fill="#000"/>
<circle cx="560.9" cy="1078.4" r="1.9" fill="#000"/>
<circle cx="570.7" cy="1084.4" r="1.9" fill="#000"/>
<circle cx="580.4" cy="1082.3" r="1.9" fill="#000"/>
<circle cx="590.2" cy="1081.8" r="1.9" fill="#000"/>
<circle cx="600.0" cy="1079.7" r="1.9" fill="#000"/>
<circle cx="609.7" cy="1075.7" r="1.9" fill="#000"/>
<circle cx="619.5" cy="1071.0" r="1.9" fill="#000"/>
<circle cx="629.3" cy="1077.8" r="1.9" fill="#000"/>
<circle cx="639.0" cy="1067.8" r="1.9" fill="#000"/>
<circle cx="648.8" cy="1068.6" r="1.9" fill="#000"/>
<path d="M394.8,1095.6L404.6,1079.5L414.3,1056.9L424.1,1057.6L433.9,1058.1L443.6,1067.1L453.4,1063.5L463.2,1066.8L472.9,1067.8L482.7,1074.4L492.5,1071.8L502.3,1071.3L512.0,1076.5L521.8,1072.3L531.6,1071.8L541.3,1072.3L551.1,1069.7L560.9,1072.3L570.7,1071.3" fill="none" stroke="#111" stroke-width="1.7" stroke-dasharray="6,3.2" stroke-linejoin="round"/>
<circle cx="394.8" cy="1095.6" r="2.1" fill="#fff" stroke="#000" stroke-width="0.8"/>
<circle cx="404.6" cy="1079.5" r="2.1" fill="#fff" stroke="#000" stroke-width="0.8"/>
<circle cx="414.3" cy="1056.9" r="2.1" fill="#fff" stroke="#000" stroke-width="0.8"/>
<circle cx="424.1" cy="1057.6" r="2.1" fill="#fff" stroke="#000" stroke-width="0.8"/>
<circle cx="433.9" cy="1058.1" r="2.1" fill="#fff" stroke="#000" stroke-width="0.8"/>
<circle cx="443.6" cy="1067.1" r="2.1" fill="#fff" stroke="#000" stroke-width="0.8"/>
<circle cx="453.4" cy="1063.5" r="2.1" fill="#fff" stroke="#000" stroke-width="0.8"/>
<circle cx="463.2" cy="1066.8" r="2.1" fill="#fff" stroke="#000" stroke-width="0.8"/>
<circle cx="472.9" cy="1067.8" r="2.1" fill="#fff" stroke="#000" stroke-width="0.8"/>
<circle cx="482.7" cy="1074.4" r="2.1" fill="#fff" stroke="#000" stroke-width="0.8"/>
<circle cx="492.5" cy="1071.8" r="2.1" fill="#fff" stroke="#000" stroke-width="0.8"/>
<circle cx="502.3" cy="1071.3" r="2.1" fill="#fff" stroke="#000" stroke-width="0.8"/>
<circle cx="512.0" cy="1076.5" r="2.1" fill="#fff" stroke="#000" stroke-width="0.8"/>
<circle cx="521.8" cy="1072.3" r="2.1" fill="#fff" stroke="#000" stroke-width="0.8"/>
<circle cx="531.6" cy="1071.8" r="2.1" fill="#fff" stroke="#000" stroke-width="0.8"/>
<circle cx="541.3" cy="1072.3" r="2.1" fill="#fff" stroke="#000" stroke-width="0.8"/>
<circle cx="551.1" cy="1069.7" r="2.1" fill="#fff" stroke="#000" stroke-width="0.8"/>
<circle cx="560.9" cy="1072.3" r="2.1" fill="#fff" stroke="#000" stroke-width="0.8"/>
<circle cx="570.7" cy="1071.3" r="2.1" fill="#fff" stroke="#000" stroke-width="0.8"/>
<line x1="388.8" y1="1214.4" x2="388.8" y2="1340.7" stroke="#b0b0b0" stroke-width="1.4"/>
<line x1="385.8" y1="1340.7" x2="653.7" y2="1340.7" stroke="#707070" stroke-width="1.2"/>
<line x1="385.6" y1="1214.4" x2="391.40000000000003" y2="1214.4" stroke="#b0b0b0" stroke-width="1.1"/>
<text transform="translate(378.4,1214.4) rotate(-90)" text-anchor="middle" font-size="11.6" font-weight="bold" >11</text>
<line x1="385.6" y1="1239.66" x2="391.40000000000003" y2="1239.66" stroke="#b0b0b0" stroke-width="1.1"/>
<text transform="translate(378.4,1239.7) rotate(-90)" text-anchor="middle" font-size="11.6" font-weight="bold" >9</text>
<line x1="385.6" y1="1264.92" x2="391.40000000000003" y2="1264.92" stroke="#b0b0b0" stroke-width="1.1"/>
<text transform="translate(378.4,1264.9) rotate(-90)" text-anchor="middle" font-size="11.6" font-weight="bold" >7</text>
<line x1="385.6" y1="1290.18" x2="391.40000000000003" y2="1290.18" stroke="#b0b0b0" stroke-width="1.1"/>
<text transform="translate(378.4,1290.2) rotate(-90)" text-anchor="middle" font-size="11.6" font-weight="bold" >5</text>
<line x1="385.6" y1="1315.44" x2="391.40000000000003" y2="1315.44" stroke="#b0b0b0" stroke-width="1.1"/>
<text transform="translate(378.4,1315.4) rotate(-90)" text-anchor="middle" font-size="11.6" font-weight="bold" >3</text>
<line x1="385.6" y1="1340.7" x2="391.40000000000003" y2="1340.7" stroke="#b0b0b0" stroke-width="1.1"/>
<text transform="translate(378.4,1340.7) rotate(-90)" text-anchor="middle" font-size="11.6" font-weight="bold" >1</text>
<line x1="398.6" y1="1338.9" x2="398.6" y2="1342.5" stroke="#555" stroke-width="0.9"/>
<line x1="408.4" y1="1338.9" x2="408.4" y2="1342.5" stroke="#555" stroke-width="0.9"/>
<line x1="418.2" y1="1338.9" x2="418.2" y2="1342.5" stroke="#555" stroke-width="0.9"/>
<line x1="428.0" y1="1338.9" x2="428.0" y2="1342.5" stroke="#555" stroke-width="0.9"/>
<line x1="437.9" y1="1338.9" x2="437.9" y2="1342.5" stroke="#555" stroke-width="0.9"/>
<line x1="447.7" y1="1338.9" x2="447.7" y2="1342.5" stroke="#555" stroke-width="0.9"/>
<line x1="457.5" y1="1338.9" x2="457.5" y2="1342.5" stroke="#555" stroke-width="0.9"/>
<line x1="467.3" y1="1338.9" x2="467.3" y2="1342.5" stroke="#555" stroke-width="0.9"/>
<line x1="477.1" y1="1338.9" x2="477.1" y2="1342.5" stroke="#555" stroke-width="0.9"/>
<line x1="486.9" y1="1338.9" x2="486.9" y2="1342.5" stroke="#555" stroke-width="0.9"/>
<line x1="496.7" y1="1338.9" x2="496.7" y2="1342.5" stroke="#555" stroke-width="0.9"/>
<line x1="506.5" y1="1338.9" x2="506.5" y2="1342.5" stroke="#555" stroke-width="0.9"/>
<line x1="516.3" y1="1338.9" x2="516.3" y2="1342.5" stroke="#555" stroke-width="0.9"/>
<line x1="526.2" y1="1338.9" x2="526.2" y2="1342.5" stroke="#555" stroke-width="0.9"/>
<line x1="536.0" y1="1338.9" x2="536.0" y2="1342.5" stroke="#555" stroke-width="0.9"/>
<line x1="545.8" y1="1338.9" x2="545.8" y2="1342.5" stroke="#555" stroke-width="0.9"/>
<line x1="555.6" y1="1338.9" x2="555.6" y2="1342.5" stroke="#555" stroke-width="0.9"/>
<line x1="565.4" y1="1338.9" x2="565.4" y2="1342.5" stroke="#555" stroke-width="0.9"/>
<line x1="575.2" y1="1338.9" x2="575.2" y2="1342.5" stroke="#555" stroke-width="0.9"/>
<line x1="585.0" y1="1338.9" x2="585.0" y2="1342.5" stroke="#555" stroke-width="0.9"/>
<line x1="594.8" y1="1338.9" x2="594.8" y2="1342.5" stroke="#555" stroke-width="0.9"/>
<line x1="604.6" y1="1338.9" x2="604.6" y2="1342.5" stroke="#555" stroke-width="0.9"/>
<line x1="614.5" y1="1338.9" x2="614.5" y2="1342.5" stroke="#555" stroke-width="0.9"/>
<line x1="624.3" y1="1338.9" x2="624.3" y2="1342.5" stroke="#555" stroke-width="0.9"/>
<line x1="634.1" y1="1338.9" x2="634.1" y2="1342.5" stroke="#555" stroke-width="0.9"/>
<line x1="643.9" y1="1338.9" x2="643.9" y2="1342.5" stroke="#555" stroke-width="0.9"/>
<text transform="translate(397.5,1344.0) rotate(-90)" text-anchor="end" font-size="11.6" font-weight="bold" >0</text>
<text transform="translate(457.1,1344.0) rotate(-90)" text-anchor="end" font-size="11.6" font-weight="bold" >50</text>
<text transform="translate(506.4,1344.0) rotate(-90)" text-anchor="end" font-size="11.6" font-weight="bold" >100</text>
<text transform="translate(555.3,1344.0) rotate(-90)" text-anchor="end" font-size="11.6" font-weight="bold" >150</text>
<text transform="translate(594.5,1344.0) rotate(-90)" text-anchor="end" font-size="11.6" font-weight="bold" >200</text>
<text transform="translate(633.7,1344.0) rotate(-90)" text-anchor="end" font-size="11.6" font-weight="bold" >300</text>
<text transform="translate(659.8,1344.0) rotate(-90)" text-anchor="end" font-size="11.6" font-weight="bold" >350</text>
<path d="M393.7,1238.3L403.5,1236.8L413.3,1263.1L423.1,1236.0L433.0,1244.1L442.8,1253.2L452.6,1232.0L462.4,1258.3" fill="none" stroke="#222" stroke-width="0.9" stroke-dasharray="2,1.5" stroke-linejoin="round"/>
<path d="M393.7,1236.4L395.6,1239.8L391.8,1239.8Z" fill="#fff" stroke="#000" stroke-width="0.7"/>
<path d="M403.5,1234.9L405.4,1238.3L401.6,1238.3Z" fill="#fff" stroke="#000" stroke-width="0.7"/>
<path d="M413.3,1261.2L415.2,1264.6L411.4,1264.6Z" fill="#fff" stroke="#000" stroke-width="0.7"/>
<path d="M423.1,1234.1L425.0,1237.5L421.2,1237.5Z" fill="#fff" stroke="#000" stroke-width="0.7"/>
<path d="M433.0,1242.2L434.9,1245.6L431.1,1245.6Z" fill="#fff" stroke="#000" stroke-width="0.7"/>
<path d="M442.8,1251.3L444.7,1254.7L440.9,1254.7Z" fill="#fff" stroke="#000" stroke-width="0.7"/>
<path d="M452.6,1230.1L454.5,1233.5L450.7,1233.5Z" fill="#fff" stroke="#000" stroke-width="0.7"/>
<path d="M462.4,1256.4L464.3,1259.8L460.5,1259.8Z" fill="#fff" stroke="#000" stroke-width="0.7"/>
<path d="M393.7,1287.9L403.5,1292.2L413.3,1295.5L423.1,1256.1L433.0,1262.0L442.8,1270.0L452.6,1280.0L462.4,1257.0L472.2,1247.6L482.0,1251.4L491.8,1267.5" fill="none" stroke="#222" stroke-width="0.9" stroke-dasharray="4,2" stroke-linejoin="round"/>
<path d="M393.7,1285.6L396.0,1289.7L391.4,1289.7Z" fill="#000"/>
<path d="M403.5,1289.9L405.8,1294.0L401.2,1294.0Z" fill="#000"/>
<path d="M413.3,1293.2L415.6,1297.3L411.0,1297.3Z" fill="#000"/>
<path d="M423.1,1253.8L425.4,1257.9L420.8,1257.9Z" fill="#000"/>
<path d="M433.0,1259.7L435.3,1263.8L430.7,1263.8Z" fill="#000"/>
<path d="M442.8,1267.7L445.1,1271.8L440.5,1271.8Z" fill="#000"/>
<path d="M452.6,1277.7L454.9,1281.8L450.3,1281.8Z" fill="#000"/>
<path d="M462.4,1254.7L464.7,1258.8L460.1,1258.8Z" fill="#000"/>
<path d="M472.2,1245.3L474.5,1249.4L469.9,1249.4Z" fill="#000"/>
<path d="M482.0,1249.1L484.3,1253.2L479.7,1253.2Z" fill="#000"/>
<path d="M491.8,1265.2L494.1,1269.3L489.5,1269.3Z" fill="#000"/>
<path d="M393.7,1239.3L403.5,1243.7L413.3,1240.3L423.1,1236.0L433.0,1239.7L442.8,1243.2L452.6,1239.3L462.4,1242.2L472.2,1232.7L482.0,1231.8L491.8,1228.6L501.6,1218.7L511.4,1217.6L521.2,1224.7L531.1,1231.8L540.9,1244.9L550.7,1261.5L560.5,1249.1L570.3,1283.3L580.1,1253.6L589.9,1254.9L599.7,1251.0L609.6,1258.3L619.4,1268.6" fill="none" stroke="#111" stroke-width="1.1" stroke-dasharray="1.2,1.3" stroke-linejoin="round"/>
<rect x="391.8" y="1237.3" width="3.9" height="3.9" fill="#fff" stroke="#000" stroke-width="0.75"/>
<rect x="401.6" y="1241.8" width="3.9" height="3.9" fill="#fff" stroke="#000" stroke-width="0.75"/>
<rect x="411.4" y="1238.3" width="3.9" height="3.9" fill="#fff" stroke="#000" stroke-width="0.75"/>
<rect x="421.2" y="1234.0" width="3.9" height="3.9" fill="#fff" stroke="#000" stroke-width="0.75"/>
<rect x="431.0" y="1237.8" width="3.9" height="3.9" fill="#fff" stroke="#000" stroke-width="0.75"/>
<rect x="440.8" y="1241.2" width="3.9" height="3.9" fill="#fff" stroke="#000" stroke-width="0.75"/>
<rect x="450.6" y="1237.3" width="3.9" height="3.9" fill="#fff" stroke="#000" stroke-width="0.75"/>
<rect x="460.4" y="1240.2" width="3.9" height="3.9" fill="#fff" stroke="#000" stroke-width="0.75"/>
<rect x="470.2" y="1230.8" width="3.9" height="3.9" fill="#fff" stroke="#000" stroke-width="0.75"/>
<rect x="480.1" y="1229.8" width="3.9" height="3.9" fill="#fff" stroke="#000" stroke-width="0.75"/>
<rect x="489.9" y="1226.6" width="3.9" height="3.9" fill="#fff" stroke="#000" stroke-width="0.75"/>
<rect x="499.7" y="1216.8" width="3.9" height="3.9" fill="#fff" stroke="#000" stroke-width="0.75"/>
<rect x="509.5" y="1215.6" width="3.9" height="3.9" fill="#fff" stroke="#000" stroke-width="0.75"/>
<rect x="519.3" y="1222.8" width="3.9" height="3.9" fill="#fff" stroke="#000" stroke-width="0.75"/>
<rect x="529.1" y="1229.8" width="3.9" height="3.9" fill="#fff" stroke="#000" stroke-width="0.75"/>
<rect x="538.9" y="1243.0" width="3.9" height="3.9" fill="#fff" stroke="#000" stroke-width="0.75"/>
<rect x="548.7" y="1259.5" width="3.9" height="3.9" fill="#fff" stroke="#000" stroke-width="0.75"/>
<rect x="558.5" y="1247.1" width="3.9" height="3.9" fill="#fff" stroke="#000" stroke-width="0.75"/>
<rect x="568.4" y="1281.3" width="3.9" height="3.9" fill="#fff" stroke="#000" stroke-width="0.75"/>
<rect x="578.2" y="1251.6" width="3.9" height="3.9" fill="#fff" stroke="#000" stroke-width="0.75"/>
<rect x="588.0" y="1253.0" width="3.9" height="3.9" fill="#fff" stroke="#000" stroke-width="0.75"/>
<rect x="597.8" y="1249.0" width="3.9" height="3.9" fill="#fff" stroke="#000" stroke-width="0.75"/>
<rect x="607.6" y="1256.3" width="3.9" height="3.9" fill="#fff" stroke="#000" stroke-width="0.75"/>
<rect x="617.4" y="1266.6" width="3.9" height="3.9" fill="#fff" stroke="#000" stroke-width="0.75"/>
<path d="M393.7,1243.2L403.5,1223.7L413.3,1242.7L423.1,1258.3L433.0,1296.7L442.8,1332.3L452.6,1328.4L462.4,1325.9L472.2,1321.8L482.0,1317.1L491.8,1318.5L501.6,1320.1" fill="none" stroke="#222" stroke-width="0.9" stroke-linejoin="round"/>
<rect x="391.7" y="1241.2" width="4.0" height="4.0" fill="#000"/>
<rect x="401.5" y="1221.7" width="4.0" height="4.0" fill="#000"/>
<rect x="411.3" y="1240.7" width="4.0" height="4.0" fill="#000"/>
<rect x="421.1" y="1256.3" width="4.0" height="4.0" fill="#000"/>
<rect x="431.0" y="1294.7" width="4.0" height="4.0" fill="#000"/>
<rect x="440.8" y="1330.3" width="4.0" height="4.0" fill="#000"/>
<rect x="450.6" y="1326.4" width="4.0" height="4.0" fill="#000"/>
<rect x="460.4" y="1323.9" width="4.0" height="4.0" fill="#000"/>
<rect x="470.2" y="1319.8" width="4.0" height="4.0" fill="#000"/>
<rect x="480.0" y="1315.1" width="4.0" height="4.0" fill="#000"/>
<rect x="489.8" y="1316.5" width="4.0" height="4.0" fill="#000"/>
<rect x="499.6" y="1318.1" width="4.0" height="4.0" fill="#000"/>
<path d="M393.7,1247.6L403.5,1248.1L413.3,1268.5L423.1,1259.3L433.0,1264.9L442.8,1264.6L452.6,1281.6L462.4,1300.2L472.2,1282.4L482.0,1256.5L491.8,1274.6L501.6,1268.1L511.4,1261.5L521.2,1257.0L531.1,1253.1L540.9,1252.8L550.7,1255.4L560.5,1288.6L570.3,1281.7L580.1,1268.1L589.9,1260.7L599.7,1285.1L609.6,1279.4L619.4,1282.0L629.2,1257.0L639.0,1254.4L648.8,1299.6" fill="none" stroke="#3c3c3c" stroke-width="2.2" stroke-linejoin="round"/>
<path d="M393.7,1247.6L403.5,1248.1L413.3,1268.5L423.1,1259.3L433.0,1264.9L442.8,1264.6L452.6,1281.6L462.4,1300.2L472.2,1282.4L482.0,1256.5L491.8,1274.6L501.6,1268.1L511.4,1261.5L521.2,1257.0L531.1,1253.1L540.9,1252.8L550.7,1255.4L560.5,1288.6L570.3,1281.7L580.1,1268.1L589.9,1260.7L599.7,1285.1L609.6,1279.4L619.4,1282.0L629.2,1257.0L639.0,1254.4L648.8,1299.6" fill="none" stroke="#7a7a7a" stroke-width="0.8" stroke-linejoin="round"/>
<circle cx="393.7" cy="1247.6" r="1.9" fill="#000"/>
<circle cx="403.5" cy="1248.1" r="1.9" fill="#000"/>
<circle cx="413.3" cy="1268.5" r="1.9" fill="#000"/>
<circle cx="423.1" cy="1259.3" r="1.9" fill="#000"/>
<circle cx="433.0" cy="1264.9" r="1.9" fill="#000"/>
<circle cx="442.8" cy="1264.6" r="1.9" fill="#000"/>
<circle cx="452.6" cy="1281.6" r="1.9" fill="#000"/>
<circle cx="462.4" cy="1300.2" r="1.9" fill="#000"/>
<circle cx="472.2" cy="1282.4" r="1.9" fill="#000"/>
<circle cx="482.0" cy="1256.5" r="1.9" fill="#000"/>
<circle cx="491.8" cy="1274.6" r="1.9" fill="#000"/>
<circle cx="501.6" cy="1268.1" r="1.9" fill="#000"/>
<circle cx="511.4" cy="1261.5" r="1.9" fill="#000"/>
<circle cx="521.2" cy="1257.0" r="1.9" fill="#000"/>
<circle cx="531.1" cy="1253.1" r="1.9" fill="#000"/>
<circle cx="540.9" cy="1252.8" r="1.9" fill="#000"/>
<circle cx="550.7" cy="1255.4" r="1.9" fill="#000"/>
<circle cx="560.5" cy="1288.6" r="1.9" fill="#000"/>
<circle cx="570.3" cy="1281.7" r="1.9" fill="#000"/>
<circle cx="580.1" cy="1268.1" r="1.9" fill="#000"/>
<circle cx="589.9" cy="1260.7" r="1.9" fill="#000"/>
<circle cx="599.7" cy="1285.1" r="1.9" fill="#000"/>
<circle cx="609.6" cy="1279.4" r="1.9" fill="#000"/>
<circle cx="619.4" cy="1282.0" r="1.9" fill="#000"/>
<circle cx="629.2" cy="1257.0" r="1.9" fill="#000"/>
<circle cx="639.0" cy="1254.4" r="1.9" fill="#000"/>
<circle cx="648.8" cy="1299.6" r="1.9" fill="#000"/>
<path d="M393.7,1252.0L403.5,1262.7L413.3,1262.7L423.1,1267.5L433.0,1258.7L442.8,1252.4L452.6,1251.4L462.4,1254.6L472.2,1257.8L482.0,1255.6L491.8,1249.7L501.6,1244.4L511.4,1257.5L521.2,1258.9L531.1,1247.0L540.9,1240.5L550.7,1231.3L560.5,1227.3L570.3,1252.3" fill="none" stroke="#111" stroke-width="1.7" stroke-dasharray="6,3.2" stroke-linejoin="round"/>
<circle cx="393.7" cy="1252.0" r="2.1" fill="#fff" stroke="#000" stroke-width="0.8"/>
<circle cx="403.5" cy="1262.7" r="2.1" fill="#fff" stroke="#000" stroke-width="0.8"/>
<circle cx="413.3" cy="1262.7" r="2.1" fill="#fff" stroke="#000" stroke-width="0.8"/>
<circle cx="423.1" cy="1267.5" r="2.1" fill="#fff" stroke="#000" stroke-width="0.8"/>
<circle cx="433.0" cy="1258.7" r="2.1" fill="#fff" stroke="#000" stroke-width="0.8"/>
<circle cx="442.8" cy="1252.4" r="2.1" fill="#fff" stroke="#000" stroke-width="0.8"/>
<circle cx="452.6" cy="1251.4" r="2.1" fill="#fff" stroke="#000" stroke-width="0.8"/>
<circle cx="462.4" cy="1254.6" r="2.1" fill="#fff" stroke="#000" stroke-width="0.8"/>
<circle cx="472.2" cy="1257.8" r="2.1" fill="#fff" stroke="#000" stroke-width="0.8"/>
<circle cx="482.0" cy="1255.6" r="2.1" fill="#fff" stroke="#000" stroke-width="0.8"/>
<circle cx="491.8" cy="1249.7" r="2.1" fill="#fff" stroke="#000" stroke-width="0.8"/>
<circle cx="501.6" cy="1244.4" r="2.1" fill="#fff" stroke="#000" stroke-width="0.8"/>
<circle cx="511.4" cy="1257.5" r="2.1" fill="#fff" stroke="#000" stroke-width="0.8"/>
<circle cx="521.2" cy="1258.9" r="2.1" fill="#fff" stroke="#000" stroke-width="0.8"/>
<circle cx="531.1" cy="1247.0" r="2.1" fill="#fff" stroke="#000" stroke-width="0.8"/>
<circle cx="540.9" cy="1240.5" r="2.1" fill="#fff" stroke="#000" stroke-width="0.8"/>
<circle cx="550.7" cy="1231.3" r="2.1" fill="#fff" stroke="#000" stroke-width="0.8"/>
<circle cx="560.5" cy="1227.3" r="2.1" fill="#fff" stroke="#000" stroke-width="0.8"/>
<circle cx="570.3" cy="1252.3" r="2.1" fill="#fff" stroke="#000" stroke-width="0.8"/>
<text transform="translate(355.6,443.5) rotate(-90) scale(1.0,1)" text-anchor="start" font-size="11.9">I-3</text>
<line x1="351.9" y1="458.5" x2="351.9" y2="479.2" stroke="#000" stroke-width="2.4" stroke-linecap="round"/>
<circle cx="351.9" cy="463.5" r="3.6" fill="#fff" stroke="#000" stroke-width="1.2"/>
<text transform="translate(355.6,522.8) rotate(-90) scale(1.0,1)" text-anchor="start" font-size="11.9">K-2</text>
<line x1="351.9" y1="526.4000000000001" x2="351.9" y2="558.5" stroke="#000" stroke-width="3.2" stroke-linecap="round"/>
<line x1="351.9" y1="526.4000000000001" x2="351.9" y2="558.5" stroke="#b0b0b0" stroke-width="1.1" stroke-linecap="butt"/>
<circle cx="351.9" cy="542.9" r="3.8" fill="#000"/>
<text transform="translate(355.6,604.0) rotate(-90) scale(1.0,1)" text-anchor="start" font-size="11.9">K-1</text>
<line x1="351.9" y1="607.2" x2="351.9" y2="609.8" stroke="#000" stroke-width="2.0" stroke-linecap="round"/>
<line x1="351.9" y1="613.1" x2="351.9" y2="617.0" stroke="#000" stroke-width="2.0" stroke-linecap="round"/>
<line x1="351.9" y1="628.5" x2="351.9" y2="632.3" stroke="#000" stroke-width="2.0" stroke-linecap="round"/>
<line x1="351.9" y1="635.9" x2="351.9" y2="640.0" stroke="#000" stroke-width="2.0" stroke-linecap="round"/>
<path d="M348.5,623.5L355.3,620.2L355.3,626.8Z" fill="#fff" stroke="#000" stroke-width="1"/>
<text transform="translate(355.6,682.5) rotate(-90) scale(1.0,1)" text-anchor="start" font-size="11.9">I-2</text>
<line x1="351.9" y1="686.6" x2="351.9" y2="688.9" stroke="#000" stroke-width="1.7" stroke-linecap="round"/>
<line x1="351.9" y1="696.8" x2="351.9" y2="699.5" stroke="#000" stroke-width="1.7" stroke-linecap="round"/>
<line x1="351.9" y1="711.4" x2="351.9" y2="717.6" stroke="#000" stroke-width="1.7" stroke-linecap="round"/>
<circle cx="351.9" cy="692.8" r="0.7" fill="#000"/>
<circle cx="351.9" cy="707.3" r="0.7" fill="#000"/>
<path d="M348.1,702.4L355.7,698.3L355.7,706.5Z" fill="#000"/>
<text transform="translate(355.6,770.0) rotate(-90) scale(1.0,1)" text-anchor="start" font-size="11.9">I-11</text>
<circle cx="351.9" cy="775.8" r="1.15" fill="#000"/>
<circle cx="351.9" cy="781.6" r="1.15" fill="#000"/>
<circle cx="351.9" cy="798.9" r="1.15" fill="#000"/>
<circle cx="351.9" cy="804.5" r="1.15" fill="#000"/>
<rect x="348.5" y="786.0" width="6.8" height="6.8" fill="#fff" stroke="#000" stroke-width="1.1"/>
<text transform="translate(355.6,841.4) rotate(-90) scale(1.0,1)" text-anchor="start" font-size="11.9">I-1</text>
<line x1="351.9" y1="845.3" x2="351.9" y2="875.9" stroke="#000" stroke-width="1.5" stroke-linecap="round"/>
<rect x="348.09999999999997" y="857.1" width="7.6" height="8" fill="#000"/>
<text transform="translate(682.0,447.3) rotate(-90) scale(0.91,1)" text-anchor="start" font-size="11.7">KH-3</text>
<line x1="678.5" y1="468" x2="678.5" y2="478.4" stroke="#000" stroke-width="2.4" stroke-linecap="round"/>
<circle cx="678.5" cy="463.9" r="3.6" fill="#fff" stroke="#000" stroke-width="1.2"/>
<circle cx="678.5" cy="450.8" r="1.3" fill="#000"/>
<text transform="translate(682.0,530.4) rotate(-90) scale(0.91,1)" text-anchor="start" font-size="11.7">KH-2</text>
<line x1="678.5" y1="533.9000000000001" x2="678.5" y2="561.3" stroke="#000" stroke-width="3.2" stroke-linecap="round"/>
<line x1="678.5" y1="533.9000000000001" x2="678.5" y2="561.3" stroke="#b0b0b0" stroke-width="1.1" stroke-linecap="butt"/>
<circle cx="678.5" cy="547.6" r="3.8" fill="#000"/>
<text transform="translate(682.0,607.6) rotate(-90) scale(0.91,1)" text-anchor="start" font-size="11.7">TZ-3</text>
<line x1="678.5" y1="610.8" x2="678.5" y2="612.4" stroke="#000" stroke-width="2.0" stroke-linecap="round"/>
<line x1="678.5" y1="615.9" x2="678.5" y2="619.0" stroke="#000" stroke-width="2.0" stroke-linecap="round"/>
<line x1="678.5" y1="629.0" x2="678.5" y2="632.6" stroke="#000" stroke-width="2.0" stroke-linecap="round"/>
<line x1="678.5" y1="635.2" x2="678.5" y2="639.0" stroke="#000" stroke-width="2.0" stroke-linecap="round"/>
<path d="M675.1,624.5L681.9,621.2L681.9,627.8Z" fill="#fff" stroke="#000" stroke-width="1"/>
<text transform="translate(682.0,690.5) rotate(-90) scale(0.91,1)" text-anchor="start" font-size="11.7">TZ-2</text>
<line x1="678.5" y1="694.3" x2="678.5" y2="696.4" stroke="#000" stroke-width="1.7" stroke-linecap="round"/>
<line x1="678.5" y1="716.3" x2="678.5" y2="721.7" stroke="#000" stroke-width="1.7" stroke-linecap="round"/>
<circle cx="678.5" cy="700.4" r="0.7" fill="#000"/>
<circle cx="678.5" cy="712.7" r="0.7" fill="#000"/>
<path d="M674.7,707.5L682.3,703.4L682.3,711.6Z" fill="#000"/>
<text transform="translate(682.0,772.3) rotate(-90) scale(0.91,1)" text-anchor="start" font-size="11.7">TZ-1</text>
<circle cx="678.5" cy="778.7" r="1.15" fill="#000"/>
<circle cx="678.5" cy="783.5" r="1.15" fill="#000"/>
<circle cx="678.5" cy="798.4" r="1.15" fill="#000"/>
<circle cx="678.5" cy="803.5" r="1.15" fill="#000"/>
<rect x="675.1" y="786.2" width="6.8" height="6.8" fill="#fff" stroke="#000" stroke-width="1.1"/>
<text transform="translate(682.0,843.0) rotate(-90) scale(0.91,1)" text-anchor="start" font-size="11.7">I-4</text>
<line x1="678.5" y1="846.7" x2="678.5" y2="874.2" stroke="#000" stroke-width="1.5" stroke-linecap="round"/>
<rect x="674.7" y="856.6" width="7.6" height="8" fill="#000"/>
</svg></body></html>
